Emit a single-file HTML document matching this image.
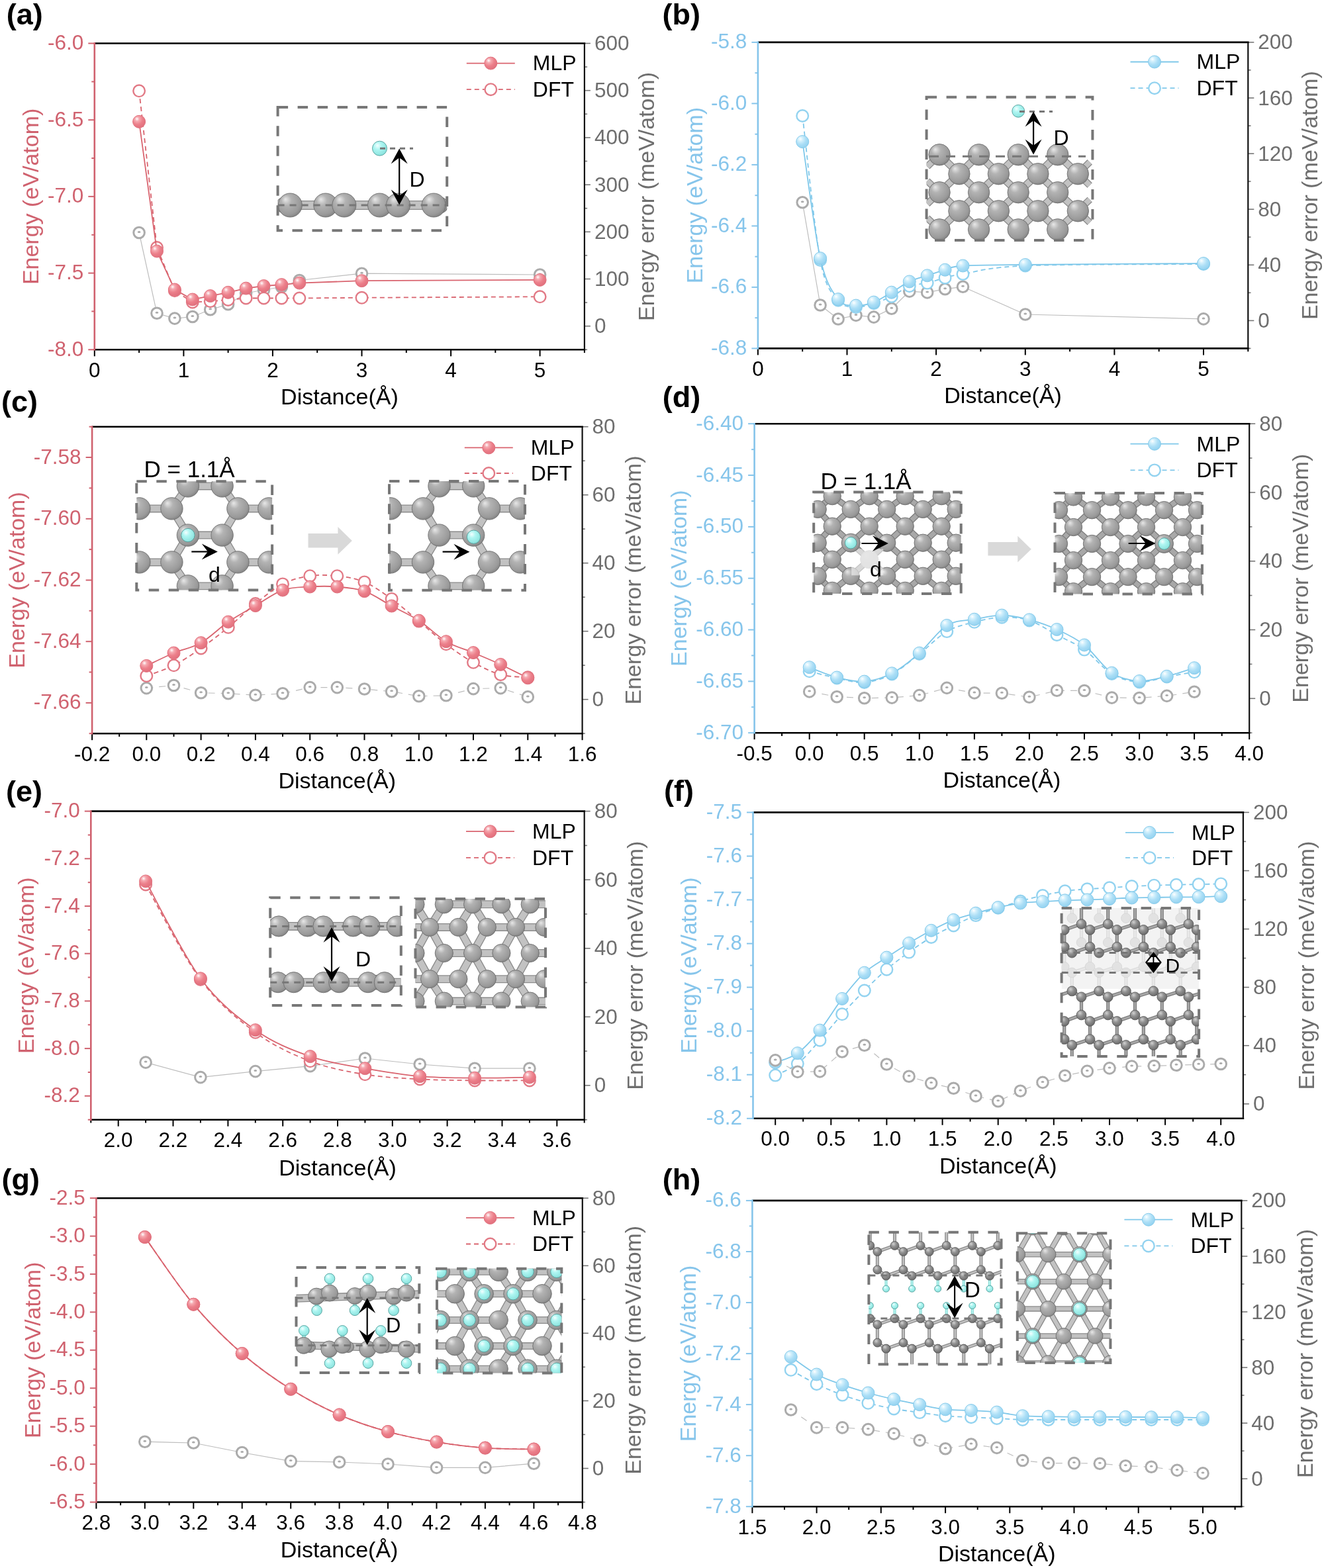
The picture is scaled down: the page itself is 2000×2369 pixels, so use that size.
<!DOCTYPE html>
<html><head><meta charset="utf-8"><title>Energy vs distance</title>
<style>html,body{margin:0;padding:0;background:#fff;}svg{display:block;}</style></head>
<body>
<svg width="2000" height="2369" viewBox="0 0 2000 2369" font-family="Liberation Sans, Arial, sans-serif">
<defs>
<radialGradient id="sphR" cx="0.38" cy="0.32" r="0.7" fx="0.33" fy="0.28">
 <stop offset="0" stop-color="#fff"/><stop offset="0.25" stop-color="#F5A9B0"/>
 <stop offset="0.6" stop-color="#EC7F8A"/><stop offset="1" stop-color="#E06F7C"/></radialGradient>
<radialGradient id="sphB" cx="0.38" cy="0.32" r="0.7" fx="0.33" fy="0.28">
 <stop offset="0" stop-color="#fff"/><stop offset="0.25" stop-color="#D3F0FC"/>
 <stop offset="0.6" stop-color="#ABDEF6"/><stop offset="1" stop-color="#93D2F0"/></radialGradient>
<radialGradient id="sphG" cx="0.42" cy="0.38" r="0.62" fx="0.3" fy="0.25">
 <stop offset="0" stop-color="#E8E8E8"/><stop offset="0.35" stop-color="#B3B3B3"/>
 <stop offset="0.85" stop-color="#9A9A9A"/><stop offset="1" stop-color="#868686"/></radialGradient>
<radialGradient id="sphD" cx="0.4" cy="0.35" r="0.65" fx="0.35" fy="0.3">
 <stop offset="0" stop-color="#D2D2D2"/><stop offset="0.45" stop-color="#939393"/>
 <stop offset="1" stop-color="#6A6A6A"/></radialGradient>
<radialGradient id="sphC" cx="0.4" cy="0.35" r="0.65" fx="0.35" fy="0.3">
 <stop offset="0" stop-color="#F4FFFF"/><stop offset="0.4" stop-color="#AFF6F2"/>
 <stop offset="1" stop-color="#8BE3DE"/></radialGradient>

<clipPath id="clipa"><rect x="130.8" y="53.5" width="764.1" height="486.8"/></clipPath>
<clipPath id="clipb"><rect x="1132.9" y="51.9" width="764.4" height="486.5"/></clipPath>
<clipPath id="clipc"><rect x="127.1" y="632.7" width="764.5" height="487.5"/></clipPath>
<clipPath id="clipd"><rect x="1127.6" y="628.2" width="771.6" height="491.0"/></clipPath>
<clipPath id="clipe"><rect x="125.3" y="1213.6" width="769.4" height="490.1"/></clipPath>
<clipPath id="clipf"><rect x="1125.5" y="1215.4" width="764.4" height="486.4"/></clipPath>
<clipPath id="clipg"><rect x="133.4" y="1798.2" width="758.4" height="483.3"/></clipPath>
<clipPath id="cliph"><rect x="1124.4" y="1801.9" width="762.9" height="486.3"/></clipPath>
<clipPath id="ib1"><rect x="419.6" y="162.1" width="255.6" height="186.2"/></clipPath>
<clipPath id="ib2"><rect x="1399.6" y="146.7" width="250.8" height="216.3"/></clipPath>
<clipPath id="ib3"><rect x="206.3" y="727.3" width="204.8" height="164.3"/></clipPath>
<clipPath id="ib4"><rect x="588.0" y="726.9" width="205.0" height="164.9"/></clipPath>
<clipPath id="ib5"><rect x="1229.2" y="743.6" width="222.5" height="153.3"/></clipPath>
<clipPath id="ib6"><rect x="1593.5" y="744.9" width="222.4" height="152.7"/></clipPath>
<clipPath id="ib7"><rect x="408.2" y="1356.2" width="197.6" height="162.9"/></clipPath>
<clipPath id="ib8"><rect x="627.5" y="1358.0" width="196.5" height="163.6"/></clipPath>
<clipPath id="ib9"><rect x="1603.6" y="1372.0" width="207.5" height="224.1"/></clipPath>
<clipPath id="ib10"><rect x="447.5" y="1915.0" width="185.8" height="159.0"/></clipPath>
<clipPath id="ib11"><rect x="660.0" y="1916.8" width="188.3" height="157.8"/></clipPath>
<clipPath id="ib12"><rect x="1312.4" y="1861.7" width="200.1" height="199.5"/></clipPath>
<clipPath id="ib13"><rect x="1536.8" y="1863.2" width="140.6" height="195.8"/></clipPath></defs>
<rect width="2000" height="2369" fill="#fff"/>
<g clip-path="url(#clipa)">
<g clip-path="url(#ib1)"><line x1="419.6" y1="310.0" x2="675.2" y2="310.0" stroke="#8a8a8a" stroke-width="14.0"/><line x1="419.6" y1="310.0" x2="675.2" y2="310.0" stroke="#c2c2c2" stroke-width="11.4"/><circle cx="429.0" cy="310.0" r="12.0" fill="url(#sphG)" stroke="#6d6d6d" stroke-width="0.9"/><circle cx="502.0" cy="310.0" r="12.0" fill="url(#sphG)" stroke="#6d6d6d" stroke-width="0.9"/><circle cx="512.0" cy="310.0" r="12.0" fill="url(#sphG)" stroke="#6d6d6d" stroke-width="0.9"/><circle cx="587.0" cy="310.0" r="12.0" fill="url(#sphG)" stroke="#6d6d6d" stroke-width="0.9"/><circle cx="665.0" cy="310.0" r="12.0" fill="url(#sphG)" stroke="#6d6d6d" stroke-width="0.9"/><circle cx="438.3" cy="310.0" r="18.0" fill="url(#sphG)" stroke="#6d6d6d" stroke-width="0.9"/><circle cx="491.8" cy="310.0" r="18.0" fill="url(#sphG)" stroke="#6d6d6d" stroke-width="0.9"/><circle cx="519.9" cy="310.0" r="18.0" fill="url(#sphG)" stroke="#6d6d6d" stroke-width="0.9"/><circle cx="573.5" cy="310.0" r="18.0" fill="url(#sphG)" stroke="#6d6d6d" stroke-width="0.9"/><circle cx="601.5" cy="310.0" r="18.0" fill="url(#sphG)" stroke="#6d6d6d" stroke-width="0.9"/><circle cx="655.1" cy="310.0" r="18.0" fill="url(#sphG)" stroke="#6d6d6d" stroke-width="0.9"/><line x1="419.6" y1="310.0" x2="675.2" y2="310.0" stroke="#777" stroke-width="3" stroke-dasharray="10 8"/></g><rect x="419.6" y="162.1" width="255.6" height="186.2" fill="none" stroke="#777" stroke-width="4" stroke-dasharray="15.5 14.5"/><circle cx="573.5" cy="224.2" r="11.0" fill="url(#sphC)" stroke="#4f9c98" stroke-width="0.9"/><line x1="574.0" y1="224.2" x2="624.0" y2="224.2" stroke="#777" stroke-width="3" stroke-dasharray="8 7"/><line x1="603.2" y1="229.5" x2="603.2" y2="304.5" stroke="#000" stroke-width="2.2"/><path d="M603.2,224.5 L615.7,247.5 L603.2,238.3 L590.7,247.5 Z" fill="#000"/><path d="M603.2,309.5 L615.7,286.5 L603.2,295.7 L590.7,286.5 Z" fill="#000"/><text x="618.5" y="282.0" font-size="32" fill="#000">D</text>
<path d="M210.1,351.5 L237.0,473.3 L263.9,481.1 L290.8,478.5 L317.7,467.8 L344.6,459.8 L371.6,443.0 L398.5,438.0 L425.4,433.5 L452.3,423.5 L546.5,413.2 L815.6,415.0" fill="none" stroke="#BDBDBD" stroke-width="1.2"/>
<circle cx="210.1" cy="351.5" r="8.3" fill="#fff" stroke="#ABABAB" stroke-width="3"/><ellipse cx="210.1" cy="350.5" rx="2.4" ry="1.5" fill="#ABABAB"/>
<circle cx="237.0" cy="473.3" r="8.3" fill="#fff" stroke="#ABABAB" stroke-width="3"/><ellipse cx="237.0" cy="472.3" rx="2.4" ry="1.5" fill="#ABABAB"/>
<circle cx="263.9" cy="481.1" r="8.3" fill="#fff" stroke="#ABABAB" stroke-width="3"/><ellipse cx="263.9" cy="480.1" rx="2.4" ry="1.5" fill="#ABABAB"/>
<circle cx="290.8" cy="478.5" r="8.3" fill="#fff" stroke="#ABABAB" stroke-width="3"/><ellipse cx="290.8" cy="477.5" rx="2.4" ry="1.5" fill="#ABABAB"/>
<circle cx="317.7" cy="467.8" r="8.3" fill="#fff" stroke="#ABABAB" stroke-width="3"/><ellipse cx="317.7" cy="466.8" rx="2.4" ry="1.5" fill="#ABABAB"/>
<circle cx="344.6" cy="459.8" r="8.3" fill="#fff" stroke="#ABABAB" stroke-width="3"/><ellipse cx="344.6" cy="458.8" rx="2.4" ry="1.5" fill="#ABABAB"/>
<circle cx="371.6" cy="443.0" r="8.3" fill="#fff" stroke="#ABABAB" stroke-width="3"/><ellipse cx="371.6" cy="442.0" rx="2.4" ry="1.5" fill="#ABABAB"/>
<circle cx="398.5" cy="438.0" r="8.3" fill="#fff" stroke="#ABABAB" stroke-width="3"/><ellipse cx="398.5" cy="437.0" rx="2.4" ry="1.5" fill="#ABABAB"/>
<circle cx="425.4" cy="433.5" r="8.3" fill="#fff" stroke="#ABABAB" stroke-width="3"/><ellipse cx="425.4" cy="432.5" rx="2.4" ry="1.5" fill="#ABABAB"/>
<circle cx="452.3" cy="423.5" r="8.3" fill="#fff" stroke="#ABABAB" stroke-width="3"/><ellipse cx="452.3" cy="422.5" rx="2.4" ry="1.5" fill="#ABABAB"/>
<circle cx="546.5" cy="413.2" r="8.3" fill="#fff" stroke="#ABABAB" stroke-width="3"/><ellipse cx="546.5" cy="412.2" rx="2.4" ry="1.5" fill="#ABABAB"/>
<circle cx="815.6" cy="415.0" r="8.3" fill="#fff" stroke="#ABABAB" stroke-width="3"/><ellipse cx="815.6" cy="414.0" rx="2.4" ry="1.5" fill="#ABABAB"/>
<path d="M210.1,137.3 L237.0,374.0 L263.9,439.2 L290.8,456.5 L317.7,455.2 L344.6,453.0 L371.6,450.5 L398.5,450.5 L425.4,450.5 L452.3,450.5 L546.5,449.8 L815.6,448.3" fill="none" stroke="#D9646F" stroke-width="1.8" stroke-dasharray="7 5"/>
<circle cx="210.1" cy="137.3" r="8.8" fill="#fff" stroke="#E27A86" stroke-width="2.4"/>
<circle cx="237.0" cy="374.0" r="8.8" fill="#fff" stroke="#E27A86" stroke-width="2.4"/>
<circle cx="263.9" cy="439.2" r="8.8" fill="#fff" stroke="#E27A86" stroke-width="2.4"/>
<circle cx="290.8" cy="456.5" r="8.8" fill="#fff" stroke="#E27A86" stroke-width="2.4"/>
<circle cx="317.7" cy="455.2" r="8.8" fill="#fff" stroke="#E27A86" stroke-width="2.4"/>
<circle cx="344.6" cy="453.0" r="8.8" fill="#fff" stroke="#E27A86" stroke-width="2.4"/>
<circle cx="371.6" cy="450.5" r="8.8" fill="#fff" stroke="#E27A86" stroke-width="2.4"/>
<circle cx="398.5" cy="450.5" r="8.8" fill="#fff" stroke="#E27A86" stroke-width="2.4"/>
<circle cx="425.4" cy="450.5" r="8.8" fill="#fff" stroke="#E27A86" stroke-width="2.4"/>
<circle cx="452.3" cy="450.5" r="8.8" fill="#fff" stroke="#E27A86" stroke-width="2.4"/>
<circle cx="546.5" cy="449.8" r="8.8" fill="#fff" stroke="#E27A86" stroke-width="2.4"/>
<circle cx="815.6" cy="448.3" r="8.8" fill="#fff" stroke="#E27A86" stroke-width="2.4"/>
<path d="M210.1,183.8 L237.0,379.5 L263.9,437.5 L290.8,452.5 L317.7,447.1 L344.6,441.8 L371.6,435.6 L398.5,432.0 L425.4,430.1 L452.3,427.6 L546.5,424.2 L815.6,422.9" fill="none" stroke="#D9646F" stroke-width="1.8"/>
<circle cx="210.1" cy="183.8" r="9.5" fill="url(#sphR)" stroke="#E2707D" stroke-width="1"/>
<circle cx="237.0" cy="379.5" r="9.5" fill="url(#sphR)" stroke="#E2707D" stroke-width="1"/>
<circle cx="263.9" cy="437.5" r="9.5" fill="url(#sphR)" stroke="#E2707D" stroke-width="1"/>
<circle cx="290.8" cy="452.5" r="9.5" fill="url(#sphR)" stroke="#E2707D" stroke-width="1"/>
<circle cx="317.7" cy="447.1" r="9.5" fill="url(#sphR)" stroke="#E2707D" stroke-width="1"/>
<circle cx="344.6" cy="441.8" r="9.5" fill="url(#sphR)" stroke="#E2707D" stroke-width="1"/>
<circle cx="371.6" cy="435.6" r="9.5" fill="url(#sphR)" stroke="#E2707D" stroke-width="1"/>
<circle cx="398.5" cy="432.0" r="9.5" fill="url(#sphR)" stroke="#E2707D" stroke-width="1"/>
<circle cx="425.4" cy="430.1" r="9.5" fill="url(#sphR)" stroke="#E2707D" stroke-width="1"/>
<circle cx="452.3" cy="427.6" r="9.5" fill="url(#sphR)" stroke="#E2707D" stroke-width="1"/>
<circle cx="546.5" cy="424.2" r="9.5" fill="url(#sphR)" stroke="#E2707D" stroke-width="1"/>
<circle cx="815.6" cy="422.9" r="9.5" fill="url(#sphR)" stroke="#E2707D" stroke-width="1"/>
</g>
<line x1="704.8" y1="95.6" x2="777.8" y2="95.6" stroke="#D9646F" stroke-width="1.8"/>
<circle cx="741.3" cy="95.6" r="9.5" fill="url(#sphR)" stroke="#E2707D" stroke-width="1"/>
<line x1="704.8" y1="135.2" x2="777.8" y2="135.2" stroke="#D9646F" stroke-width="1.8" stroke-dasharray="7 5"/>
<circle cx="741.3" cy="135.2" r="8.8" fill="#fff" stroke="#E27A86" stroke-width="2.4"/>
<text x="804.8" y="106.4" font-size="32" fill="#000">MLP</text>
<text x="804.8" y="146.0" font-size="32" fill="#000">DFT</text>
<line x1="142.8" y1="528.3" x2="142.8" y2="538.3" stroke="#000" stroke-width="2"/>
<text x="142.8" y="569.8" font-size="31.5" text-anchor="middle">0</text>
<line x1="210.1" y1="528.3" x2="210.1" y2="533.1" stroke="#000" stroke-width="2"/>
<line x1="277.4" y1="528.3" x2="277.4" y2="538.3" stroke="#000" stroke-width="2"/>
<text x="277.4" y="569.8" font-size="31.5" text-anchor="middle">1</text>
<line x1="344.6" y1="528.3" x2="344.6" y2="533.1" stroke="#000" stroke-width="2"/>
<line x1="411.9" y1="528.3" x2="411.9" y2="538.3" stroke="#000" stroke-width="2"/>
<text x="411.9" y="569.8" font-size="31.5" text-anchor="middle">2</text>
<line x1="479.2" y1="528.3" x2="479.2" y2="533.1" stroke="#000" stroke-width="2"/>
<line x1="546.5" y1="528.3" x2="546.5" y2="538.3" stroke="#000" stroke-width="2"/>
<text x="546.5" y="569.8" font-size="31.5" text-anchor="middle">3</text>
<line x1="613.8" y1="528.3" x2="613.8" y2="533.1" stroke="#000" stroke-width="2"/>
<line x1="681.1" y1="528.3" x2="681.1" y2="538.3" stroke="#000" stroke-width="2"/>
<text x="681.1" y="569.8" font-size="31.5" text-anchor="middle">4</text>
<line x1="748.3" y1="528.3" x2="748.3" y2="533.1" stroke="#000" stroke-width="2"/>
<line x1="815.6" y1="528.3" x2="815.6" y2="538.3" stroke="#000" stroke-width="2"/>
<text x="815.6" y="569.8" font-size="31.5" text-anchor="middle">5</text>
<line x1="882.9" y1="528.3" x2="882.9" y2="533.1" stroke="#000" stroke-width="2"/>
<line x1="133.3" y1="528.3" x2="142.8" y2="528.3" stroke="#D0626F" stroke-width="2"/>
<text x="126.3" y="537.8" font-size="31.5" text-anchor="end" fill="#D0626F">-8.0</text>
<line x1="138.3" y1="470.4" x2="142.8" y2="470.4" stroke="#D0626F" stroke-width="2"/>
<line x1="133.3" y1="412.6" x2="142.8" y2="412.6" stroke="#D0626F" stroke-width="2"/>
<text x="126.3" y="422.1" font-size="31.5" text-anchor="end" fill="#D0626F">-7.5</text>
<line x1="138.3" y1="354.8" x2="142.8" y2="354.8" stroke="#D0626F" stroke-width="2"/>
<line x1="133.3" y1="296.9" x2="142.8" y2="296.9" stroke="#D0626F" stroke-width="2"/>
<text x="126.3" y="306.4" font-size="31.5" text-anchor="end" fill="#D0626F">-7.0</text>
<line x1="138.3" y1="239.0" x2="142.8" y2="239.0" stroke="#D0626F" stroke-width="2"/>
<line x1="133.3" y1="181.2" x2="142.8" y2="181.2" stroke="#D0626F" stroke-width="2"/>
<text x="126.3" y="190.7" font-size="31.5" text-anchor="end" fill="#D0626F">-6.5</text>
<line x1="138.3" y1="123.4" x2="142.8" y2="123.4" stroke="#D0626F" stroke-width="2"/>
<line x1="133.3" y1="65.5" x2="142.8" y2="65.5" stroke="#D0626F" stroke-width="2"/>
<text x="126.3" y="75.0" font-size="31.5" text-anchor="end" fill="#D0626F">-6.0</text>
<line x1="882.9" y1="528.3" x2="887.1" y2="528.3" stroke="#777" stroke-width="1.6"/>
<line x1="882.9" y1="492.7" x2="891.9" y2="492.7" stroke="#777" stroke-width="1.6"/>
<text x="897.9" y="503.2" font-size="31.5" fill="#6E6E6E">0</text>
<line x1="882.9" y1="457.1" x2="887.1" y2="457.1" stroke="#777" stroke-width="1.6"/>
<line x1="882.9" y1="421.5" x2="891.9" y2="421.5" stroke="#777" stroke-width="1.6"/>
<text x="897.9" y="432.0" font-size="31.5" fill="#6E6E6E">100</text>
<line x1="882.9" y1="385.9" x2="887.1" y2="385.9" stroke="#777" stroke-width="1.6"/>
<line x1="882.9" y1="350.3" x2="891.9" y2="350.3" stroke="#777" stroke-width="1.6"/>
<text x="897.9" y="360.8" font-size="31.5" fill="#6E6E6E">200</text>
<line x1="882.9" y1="314.7" x2="887.1" y2="314.7" stroke="#777" stroke-width="1.6"/>
<line x1="882.9" y1="279.1" x2="891.9" y2="279.1" stroke="#777" stroke-width="1.6"/>
<text x="897.9" y="289.6" font-size="31.5" fill="#6E6E6E">300</text>
<line x1="882.9" y1="243.5" x2="887.1" y2="243.5" stroke="#777" stroke-width="1.6"/>
<line x1="882.9" y1="207.9" x2="891.9" y2="207.9" stroke="#777" stroke-width="1.6"/>
<text x="897.9" y="218.4" font-size="31.5" fill="#6E6E6E">400</text>
<line x1="882.9" y1="172.3" x2="887.1" y2="172.3" stroke="#777" stroke-width="1.6"/>
<line x1="882.9" y1="136.7" x2="891.9" y2="136.7" stroke="#777" stroke-width="1.6"/>
<text x="897.9" y="147.2" font-size="31.5" fill="#6E6E6E">500</text>
<line x1="882.9" y1="101.1" x2="887.1" y2="101.1" stroke="#777" stroke-width="1.6"/>
<line x1="882.9" y1="65.5" x2="891.9" y2="65.5" stroke="#777" stroke-width="1.6"/>
<text x="897.9" y="76.0" font-size="31.5" fill="#6E6E6E">600</text>
<line x1="142.8" y1="65.5" x2="884.2" y2="65.5" stroke="#000" stroke-width="2.6"/>
<line x1="142.8" y1="528.3" x2="884.2" y2="528.3" stroke="#000" stroke-width="2.6"/>
<line x1="882.9" y1="65.5" x2="882.9" y2="528.3" stroke="#111" stroke-width="2.2"/>
<line x1="142.8" y1="64.2" x2="142.8" y2="529.6" stroke="#D0626F" stroke-width="2.6"/>
<text transform="translate(58.3,296.9) rotate(-90)" font-size="34" text-anchor="middle" fill="#D0626F">Energy (eV/atom)</text>
<text transform="translate(987.9,296.9) rotate(-90)" font-size="34" text-anchor="middle" fill="#6E6E6E">Energy error (meV/atom)</text>
<text x="512.9" y="611.3" font-size="34" text-anchor="middle">Distance(Å)</text>
<text x="9.8" y="36.6" font-size="45" font-weight="bold">(a)</text>
<g clip-path="url(#clipb)">
<g clip-path="url(#ib2)"><line x1="1419.1" y1="233.7" x2="1400.7" y2="251.7" stroke="#8a8a8a" stroke-width="10.5"/><line x1="1419.1" y1="233.7" x2="1400.7" y2="251.7" stroke="#c2c2c2" stroke-width="7.9"/><line x1="1419.1" y1="233.7" x2="1448.9" y2="262.7" stroke="#8a8a8a" stroke-width="11.5"/><line x1="1419.1" y1="233.7" x2="1448.9" y2="262.7" stroke="#c2c2c2" stroke-width="8.9"/><line x1="1478.6" y1="233.7" x2="1448.9" y2="262.7" stroke="#8a8a8a" stroke-width="11.5"/><line x1="1478.6" y1="233.7" x2="1448.9" y2="262.7" stroke="#c2c2c2" stroke-width="8.9"/><line x1="1478.6" y1="233.7" x2="1508.4" y2="262.7" stroke="#8a8a8a" stroke-width="11.5"/><line x1="1478.6" y1="233.7" x2="1508.4" y2="262.7" stroke="#c2c2c2" stroke-width="8.9"/><line x1="1538.2" y1="233.7" x2="1508.4" y2="262.7" stroke="#8a8a8a" stroke-width="11.5"/><line x1="1538.2" y1="233.7" x2="1508.4" y2="262.7" stroke="#c2c2c2" stroke-width="8.9"/><line x1="1538.2" y1="233.7" x2="1567.9" y2="262.7" stroke="#8a8a8a" stroke-width="11.5"/><line x1="1538.2" y1="233.7" x2="1567.9" y2="262.7" stroke="#c2c2c2" stroke-width="8.9"/><line x1="1597.7" y1="233.7" x2="1567.9" y2="262.7" stroke="#8a8a8a" stroke-width="11.5"/><line x1="1597.7" y1="233.7" x2="1567.9" y2="262.7" stroke="#c2c2c2" stroke-width="8.9"/><line x1="1597.7" y1="233.7" x2="1628.3" y2="262.7" stroke="#8a8a8a" stroke-width="11.5"/><line x1="1597.7" y1="233.7" x2="1628.3" y2="262.7" stroke="#c2c2c2" stroke-width="8.9"/><line x1="1628.3" y1="262.7" x2="1646.2" y2="244.7" stroke="#8a8a8a" stroke-width="10.5"/><line x1="1628.3" y1="262.7" x2="1646.2" y2="244.7" stroke="#c2c2c2" stroke-width="7.9"/><line x1="1419.1" y1="290.7" x2="1400.7" y2="273.3" stroke="#8a8a8a" stroke-width="10.5"/><line x1="1419.1" y1="290.7" x2="1400.7" y2="273.3" stroke="#c2c2c2" stroke-width="7.9"/><line x1="1448.9" y1="262.7" x2="1419.1" y2="290.7" stroke="#8a8a8a" stroke-width="11.5"/><line x1="1448.9" y1="262.7" x2="1419.1" y2="290.7" stroke="#c2c2c2" stroke-width="8.9"/><line x1="1448.9" y1="262.7" x2="1478.6" y2="290.7" stroke="#8a8a8a" stroke-width="11.5"/><line x1="1448.9" y1="262.7" x2="1478.6" y2="290.7" stroke="#c2c2c2" stroke-width="8.9"/><line x1="1508.4" y1="262.7" x2="1478.6" y2="290.7" stroke="#8a8a8a" stroke-width="11.5"/><line x1="1508.4" y1="262.7" x2="1478.6" y2="290.7" stroke="#c2c2c2" stroke-width="8.9"/><line x1="1508.4" y1="262.7" x2="1538.2" y2="290.7" stroke="#8a8a8a" stroke-width="11.5"/><line x1="1508.4" y1="262.7" x2="1538.2" y2="290.7" stroke="#c2c2c2" stroke-width="8.9"/><line x1="1567.9" y1="262.7" x2="1538.2" y2="290.7" stroke="#8a8a8a" stroke-width="11.5"/><line x1="1567.9" y1="262.7" x2="1538.2" y2="290.7" stroke="#c2c2c2" stroke-width="8.9"/><line x1="1567.9" y1="262.7" x2="1597.7" y2="290.7" stroke="#8a8a8a" stroke-width="11.5"/><line x1="1567.9" y1="262.7" x2="1597.7" y2="290.7" stroke="#c2c2c2" stroke-width="8.9"/><line x1="1628.3" y1="262.7" x2="1597.7" y2="290.7" stroke="#8a8a8a" stroke-width="11.5"/><line x1="1628.3" y1="262.7" x2="1597.7" y2="290.7" stroke="#c2c2c2" stroke-width="8.9"/><line x1="1628.3" y1="262.7" x2="1646.2" y2="280.1" stroke="#8a8a8a" stroke-width="10.5"/><line x1="1628.3" y1="262.7" x2="1646.2" y2="280.1" stroke="#c2c2c2" stroke-width="7.9"/><line x1="1419.1" y1="290.7" x2="1400.7" y2="308.1" stroke="#8a8a8a" stroke-width="10.5"/><line x1="1419.1" y1="290.7" x2="1400.7" y2="308.1" stroke="#c2c2c2" stroke-width="7.9"/><line x1="1419.1" y1="290.7" x2="1448.9" y2="318.8" stroke="#8a8a8a" stroke-width="11.5"/><line x1="1419.1" y1="290.7" x2="1448.9" y2="318.8" stroke="#c2c2c2" stroke-width="8.9"/><line x1="1478.6" y1="290.7" x2="1448.9" y2="318.8" stroke="#8a8a8a" stroke-width="11.5"/><line x1="1478.6" y1="290.7" x2="1448.9" y2="318.8" stroke="#c2c2c2" stroke-width="8.9"/><line x1="1478.6" y1="290.7" x2="1508.4" y2="318.8" stroke="#8a8a8a" stroke-width="11.5"/><line x1="1478.6" y1="290.7" x2="1508.4" y2="318.8" stroke="#c2c2c2" stroke-width="8.9"/><line x1="1538.2" y1="290.7" x2="1508.4" y2="318.8" stroke="#8a8a8a" stroke-width="11.5"/><line x1="1538.2" y1="290.7" x2="1508.4" y2="318.8" stroke="#c2c2c2" stroke-width="8.9"/><line x1="1538.2" y1="290.7" x2="1567.9" y2="318.8" stroke="#8a8a8a" stroke-width="11.5"/><line x1="1538.2" y1="290.7" x2="1567.9" y2="318.8" stroke="#c2c2c2" stroke-width="8.9"/><line x1="1597.7" y1="290.7" x2="1567.9" y2="318.8" stroke="#8a8a8a" stroke-width="11.5"/><line x1="1597.7" y1="290.7" x2="1567.9" y2="318.8" stroke="#c2c2c2" stroke-width="8.9"/><line x1="1597.7" y1="290.7" x2="1628.3" y2="318.8" stroke="#8a8a8a" stroke-width="11.5"/><line x1="1597.7" y1="290.7" x2="1628.3" y2="318.8" stroke="#c2c2c2" stroke-width="8.9"/><line x1="1628.3" y1="318.8" x2="1646.2" y2="301.4" stroke="#8a8a8a" stroke-width="10.5"/><line x1="1628.3" y1="318.8" x2="1646.2" y2="301.4" stroke="#c2c2c2" stroke-width="7.9"/><line x1="1419.1" y1="346.8" x2="1400.7" y2="329.4" stroke="#8a8a8a" stroke-width="10.5"/><line x1="1419.1" y1="346.8" x2="1400.7" y2="329.4" stroke="#c2c2c2" stroke-width="7.9"/><line x1="1448.9" y1="318.8" x2="1419.1" y2="346.8" stroke="#8a8a8a" stroke-width="11.5"/><line x1="1448.9" y1="318.8" x2="1419.1" y2="346.8" stroke="#c2c2c2" stroke-width="8.9"/><line x1="1448.9" y1="318.8" x2="1478.6" y2="346.8" stroke="#8a8a8a" stroke-width="11.5"/><line x1="1448.9" y1="318.8" x2="1478.6" y2="346.8" stroke="#c2c2c2" stroke-width="8.9"/><line x1="1508.4" y1="318.8" x2="1478.6" y2="346.8" stroke="#8a8a8a" stroke-width="11.5"/><line x1="1508.4" y1="318.8" x2="1478.6" y2="346.8" stroke="#c2c2c2" stroke-width="8.9"/><line x1="1508.4" y1="318.8" x2="1538.2" y2="346.8" stroke="#8a8a8a" stroke-width="11.5"/><line x1="1508.4" y1="318.8" x2="1538.2" y2="346.8" stroke="#c2c2c2" stroke-width="8.9"/><line x1="1567.9" y1="318.8" x2="1538.2" y2="346.8" stroke="#8a8a8a" stroke-width="11.5"/><line x1="1567.9" y1="318.8" x2="1538.2" y2="346.8" stroke="#c2c2c2" stroke-width="8.9"/><line x1="1567.9" y1="318.8" x2="1597.7" y2="346.8" stroke="#8a8a8a" stroke-width="11.5"/><line x1="1567.9" y1="318.8" x2="1597.7" y2="346.8" stroke="#c2c2c2" stroke-width="8.9"/><line x1="1628.3" y1="318.8" x2="1597.7" y2="346.8" stroke="#8a8a8a" stroke-width="11.5"/><line x1="1628.3" y1="318.8" x2="1597.7" y2="346.8" stroke="#c2c2c2" stroke-width="8.9"/><line x1="1628.3" y1="318.8" x2="1646.2" y2="336.2" stroke="#8a8a8a" stroke-width="10.5"/><line x1="1628.3" y1="318.8" x2="1646.2" y2="336.2" stroke="#c2c2c2" stroke-width="7.9"/><circle cx="1419.1" cy="233.7" r="16.2" fill="url(#sphG)" stroke="#6d6d6d" stroke-width="0.9"/><circle cx="1478.6" cy="233.7" r="16.2" fill="url(#sphG)" stroke="#6d6d6d" stroke-width="0.9"/><circle cx="1538.2" cy="233.7" r="16.2" fill="url(#sphG)" stroke="#6d6d6d" stroke-width="0.9"/><circle cx="1597.7" cy="233.7" r="16.2" fill="url(#sphG)" stroke="#6d6d6d" stroke-width="0.9"/><circle cx="1448.9" cy="262.7" r="16.2" fill="url(#sphG)" stroke="#6d6d6d" stroke-width="0.9"/><circle cx="1508.4" cy="262.7" r="16.2" fill="url(#sphG)" stroke="#6d6d6d" stroke-width="0.9"/><circle cx="1567.9" cy="262.7" r="16.2" fill="url(#sphG)" stroke="#6d6d6d" stroke-width="0.9"/><circle cx="1628.3" cy="262.7" r="16.2" fill="url(#sphG)" stroke="#6d6d6d" stroke-width="0.9"/><circle cx="1419.1" cy="290.7" r="16.2" fill="url(#sphG)" stroke="#6d6d6d" stroke-width="0.9"/><circle cx="1478.6" cy="290.7" r="16.2" fill="url(#sphG)" stroke="#6d6d6d" stroke-width="0.9"/><circle cx="1538.2" cy="290.7" r="16.2" fill="url(#sphG)" stroke="#6d6d6d" stroke-width="0.9"/><circle cx="1597.7" cy="290.7" r="16.2" fill="url(#sphG)" stroke="#6d6d6d" stroke-width="0.9"/><circle cx="1448.9" cy="318.8" r="16.2" fill="url(#sphG)" stroke="#6d6d6d" stroke-width="0.9"/><circle cx="1508.4" cy="318.8" r="16.2" fill="url(#sphG)" stroke="#6d6d6d" stroke-width="0.9"/><circle cx="1567.9" cy="318.8" r="16.2" fill="url(#sphG)" stroke="#6d6d6d" stroke-width="0.9"/><circle cx="1628.3" cy="318.8" r="16.2" fill="url(#sphG)" stroke="#6d6d6d" stroke-width="0.9"/><circle cx="1419.1" cy="346.8" r="16.2" fill="url(#sphG)" stroke="#6d6d6d" stroke-width="0.9"/><circle cx="1478.6" cy="346.8" r="16.2" fill="url(#sphG)" stroke="#6d6d6d" stroke-width="0.9"/><circle cx="1538.2" cy="346.8" r="16.2" fill="url(#sphG)" stroke="#6d6d6d" stroke-width="0.9"/><circle cx="1597.7" cy="346.8" r="16.2" fill="url(#sphG)" stroke="#6d6d6d" stroke-width="0.9"/></g><line x1="1404.0" y1="236.3" x2="1640.0" y2="236.3" stroke="#777" stroke-width="3" stroke-dasharray="14 11"/><rect x="1399.6" y="146.7" width="250.8" height="216.3" fill="none" stroke="#777" stroke-width="4" stroke-dasharray="15.5 14.5"/><circle cx="1538.2" cy="167.8" r="9.4" fill="url(#sphC)" stroke="#4f9c98" stroke-width="0.9"/><line x1="1540.0" y1="168.6" x2="1590.0" y2="168.6" stroke="#777" stroke-width="3" stroke-dasharray="8 7"/><line x1="1561.1" y1="173.5" x2="1561.1" y2="228.5" stroke="#000" stroke-width="2.2"/><path d="M1561.1,168.5 L1573.6,191.5 L1561.1,182.3 L1548.6,191.5 Z" fill="#000"/><path d="M1561.1,233.5 L1573.6,210.5 L1561.1,219.7 L1548.6,210.5 Z" fill="#000"/><text x="1591.5" y="219.3" font-size="32" fill="#000">D</text>
<path d="M1212.2,305.8 L1239.1,461.0 L1266.1,482.0 L1293.0,476.4 L1319.9,479.1 L1346.8,466.2 L1373.8,440.1 L1400.7,441.9 L1427.6,436.7 L1454.5,433.3 L1548.8,475.0 L1818.0,481.9" fill="none" stroke="#BDBDBD" stroke-width="1.2"/>
<circle cx="1212.2" cy="305.8" r="8.3" fill="#fff" stroke="#ABABAB" stroke-width="3"/><ellipse cx="1212.2" cy="304.8" rx="2.4" ry="1.5" fill="#ABABAB"/>
<circle cx="1239.1" cy="461.0" r="8.3" fill="#fff" stroke="#ABABAB" stroke-width="3"/><ellipse cx="1239.1" cy="460.0" rx="2.4" ry="1.5" fill="#ABABAB"/>
<circle cx="1266.1" cy="482.0" r="8.3" fill="#fff" stroke="#ABABAB" stroke-width="3"/><ellipse cx="1266.1" cy="481.0" rx="2.4" ry="1.5" fill="#ABABAB"/>
<circle cx="1293.0" cy="476.4" r="8.3" fill="#fff" stroke="#ABABAB" stroke-width="3"/><ellipse cx="1293.0" cy="475.4" rx="2.4" ry="1.5" fill="#ABABAB"/>
<circle cx="1319.9" cy="479.1" r="8.3" fill="#fff" stroke="#ABABAB" stroke-width="3"/><ellipse cx="1319.9" cy="478.1" rx="2.4" ry="1.5" fill="#ABABAB"/>
<circle cx="1346.8" cy="466.2" r="8.3" fill="#fff" stroke="#ABABAB" stroke-width="3"/><ellipse cx="1346.8" cy="465.2" rx="2.4" ry="1.5" fill="#ABABAB"/>
<circle cx="1373.8" cy="440.1" r="8.3" fill="#fff" stroke="#ABABAB" stroke-width="3"/><ellipse cx="1373.8" cy="439.1" rx="2.4" ry="1.5" fill="#ABABAB"/>
<circle cx="1400.7" cy="441.9" r="8.3" fill="#fff" stroke="#ABABAB" stroke-width="3"/><ellipse cx="1400.7" cy="440.9" rx="2.4" ry="1.5" fill="#ABABAB"/>
<circle cx="1427.6" cy="436.7" r="8.3" fill="#fff" stroke="#ABABAB" stroke-width="3"/><ellipse cx="1427.6" cy="435.7" rx="2.4" ry="1.5" fill="#ABABAB"/>
<circle cx="1454.5" cy="433.3" r="8.3" fill="#fff" stroke="#ABABAB" stroke-width="3"/><ellipse cx="1454.5" cy="432.3" rx="2.4" ry="1.5" fill="#ABABAB"/>
<circle cx="1548.8" cy="475.0" r="8.3" fill="#fff" stroke="#ABABAB" stroke-width="3"/><ellipse cx="1548.8" cy="474.0" rx="2.4" ry="1.5" fill="#ABABAB"/>
<circle cx="1818.0" cy="481.9" r="8.3" fill="#fff" stroke="#ABABAB" stroke-width="3"/><ellipse cx="1818.0" cy="480.9" rx="2.4" ry="1.5" fill="#ABABAB"/>
<path d="M1212.2,175.0 C1216.7,211.3 1230.2,346.6 1239.1,393.0 C1248.1,439.4 1257.1,441.9 1266.1,453.7 C1275.0,465.5 1284.0,463.1 1293.0,463.9 C1302.0,464.6 1310.9,460.8 1319.9,458.2 C1328.9,455.6 1337.9,452.3 1346.8,448.0 C1355.8,443.7 1364.8,435.6 1373.8,432.2 C1382.7,428.8 1391.7,429.7 1400.7,427.6 C1409.6,425.5 1418.6,422.0 1427.6,419.7 C1436.6,417.4 1434.3,417.0 1454.5,414.0 C1474.7,411.0 1488.2,404.0 1548.8,401.5 C1609.3,399.0 1773.1,399.4 1818.0,399.0" fill="none" stroke="#7FC8EA" stroke-width="1.8" stroke-dasharray="7 5"/>
<circle cx="1212.2" cy="175.0" r="8.8" fill="#fff" stroke="#93D3F0" stroke-width="2.4"/>
<circle cx="1239.1" cy="393.0" r="8.8" fill="#fff" stroke="#93D3F0" stroke-width="2.4"/>
<circle cx="1266.1" cy="453.7" r="8.8" fill="#fff" stroke="#93D3F0" stroke-width="2.4"/>
<circle cx="1293.0" cy="463.9" r="8.8" fill="#fff" stroke="#93D3F0" stroke-width="2.4"/>
<circle cx="1319.9" cy="458.2" r="8.8" fill="#fff" stroke="#93D3F0" stroke-width="2.4"/>
<circle cx="1346.8" cy="448.0" r="8.8" fill="#fff" stroke="#93D3F0" stroke-width="2.4"/>
<circle cx="1373.8" cy="432.2" r="8.8" fill="#fff" stroke="#93D3F0" stroke-width="2.4"/>
<circle cx="1400.7" cy="427.6" r="8.8" fill="#fff" stroke="#93D3F0" stroke-width="2.4"/>
<circle cx="1427.6" cy="419.7" r="8.8" fill="#fff" stroke="#93D3F0" stroke-width="2.4"/>
<circle cx="1454.5" cy="414.0" r="8.8" fill="#fff" stroke="#93D3F0" stroke-width="2.4"/>
<circle cx="1548.8" cy="401.5" r="8.8" fill="#fff" stroke="#93D3F0" stroke-width="2.4"/>
<circle cx="1818.0" cy="399.0" r="8.8" fill="#fff" stroke="#93D3F0" stroke-width="2.4"/>
<path d="M1212.2,214.1 C1216.7,243.4 1230.2,350.5 1239.1,390.2 C1248.1,429.9 1257.1,440.2 1266.1,452.1 C1275.0,464.0 1284.0,460.9 1293.0,461.6 C1302.0,462.4 1310.9,459.9 1319.9,456.6 C1328.9,453.3 1337.9,446.9 1346.8,441.7 C1355.8,436.5 1364.8,429.6 1373.8,425.4 C1382.7,421.2 1391.7,419.2 1400.7,416.3 C1409.6,413.4 1418.6,410.2 1427.6,407.7 C1436.6,405.2 1434.3,402.8 1454.5,401.5 C1474.7,400.2 1488.2,400.6 1548.8,400.0 C1609.3,399.4 1773.1,398.3 1818.0,398.0" fill="none" stroke="#7FC8EA" stroke-width="1.8"/>
<circle cx="1212.2" cy="214.1" r="9.5" fill="url(#sphB)" stroke="#86CBEB" stroke-width="1"/>
<circle cx="1239.1" cy="390.2" r="9.5" fill="url(#sphB)" stroke="#86CBEB" stroke-width="1"/>
<circle cx="1266.1" cy="452.1" r="9.5" fill="url(#sphB)" stroke="#86CBEB" stroke-width="1"/>
<circle cx="1293.0" cy="461.6" r="9.5" fill="url(#sphB)" stroke="#86CBEB" stroke-width="1"/>
<circle cx="1319.9" cy="456.6" r="9.5" fill="url(#sphB)" stroke="#86CBEB" stroke-width="1"/>
<circle cx="1346.8" cy="441.7" r="9.5" fill="url(#sphB)" stroke="#86CBEB" stroke-width="1"/>
<circle cx="1373.8" cy="425.4" r="9.5" fill="url(#sphB)" stroke="#86CBEB" stroke-width="1"/>
<circle cx="1400.7" cy="416.3" r="9.5" fill="url(#sphB)" stroke="#86CBEB" stroke-width="1"/>
<circle cx="1427.6" cy="407.7" r="9.5" fill="url(#sphB)" stroke="#86CBEB" stroke-width="1"/>
<circle cx="1454.5" cy="401.5" r="9.5" fill="url(#sphB)" stroke="#86CBEB" stroke-width="1"/>
<circle cx="1548.8" cy="400.0" r="9.5" fill="url(#sphB)" stroke="#86CBEB" stroke-width="1"/>
<circle cx="1818.0" cy="398.0" r="9.5" fill="url(#sphB)" stroke="#86CBEB" stroke-width="1"/>
</g>
<line x1="1707.5" y1="93.5" x2="1780.5" y2="93.5" stroke="#7FC8EA" stroke-width="1.8"/>
<circle cx="1744.0" cy="93.5" r="9.5" fill="url(#sphB)" stroke="#86CBEB" stroke-width="1"/>
<line x1="1707.5" y1="133.2" x2="1780.5" y2="133.2" stroke="#7FC8EA" stroke-width="1.8" stroke-dasharray="7 5"/>
<circle cx="1744.0" cy="133.2" r="8.8" fill="#fff" stroke="#93D3F0" stroke-width="2.4"/>
<text x="1807.5" y="104.3" font-size="32" fill="#000">MLP</text>
<text x="1807.5" y="144.0" font-size="32" fill="#000">DFT</text>
<line x1="1144.9" y1="526.4" x2="1144.9" y2="536.4" stroke="#000" stroke-width="2"/>
<text x="1144.9" y="567.9" font-size="31.5" text-anchor="middle">0</text>
<line x1="1212.2" y1="526.4" x2="1212.2" y2="531.2" stroke="#000" stroke-width="2"/>
<line x1="1279.5" y1="526.4" x2="1279.5" y2="536.4" stroke="#000" stroke-width="2"/>
<text x="1279.5" y="567.9" font-size="31.5" text-anchor="middle">1</text>
<line x1="1346.8" y1="526.4" x2="1346.8" y2="531.2" stroke="#000" stroke-width="2"/>
<line x1="1414.1" y1="526.4" x2="1414.1" y2="536.4" stroke="#000" stroke-width="2"/>
<text x="1414.1" y="567.9" font-size="31.5" text-anchor="middle">2</text>
<line x1="1481.4" y1="526.4" x2="1481.4" y2="531.2" stroke="#000" stroke-width="2"/>
<line x1="1548.8" y1="526.4" x2="1548.8" y2="536.4" stroke="#000" stroke-width="2"/>
<text x="1548.8" y="567.9" font-size="31.5" text-anchor="middle">3</text>
<line x1="1616.1" y1="526.4" x2="1616.1" y2="531.2" stroke="#000" stroke-width="2"/>
<line x1="1683.4" y1="526.4" x2="1683.4" y2="536.4" stroke="#000" stroke-width="2"/>
<text x="1683.4" y="567.9" font-size="31.5" text-anchor="middle">4</text>
<line x1="1750.7" y1="526.4" x2="1750.7" y2="531.2" stroke="#000" stroke-width="2"/>
<line x1="1818.0" y1="526.4" x2="1818.0" y2="536.4" stroke="#000" stroke-width="2"/>
<text x="1818.0" y="567.9" font-size="31.5" text-anchor="middle">5</text>
<line x1="1885.3" y1="526.4" x2="1885.3" y2="531.2" stroke="#000" stroke-width="2"/>
<line x1="1135.4" y1="526.4" x2="1144.9" y2="526.4" stroke="#86C5EB" stroke-width="2"/>
<text x="1128.4" y="535.9" font-size="31.5" text-anchor="end" fill="#86C5EB">-6.8</text>
<line x1="1140.4" y1="480.2" x2="1144.9" y2="480.2" stroke="#86C5EB" stroke-width="2"/>
<line x1="1135.4" y1="433.9" x2="1144.9" y2="433.9" stroke="#86C5EB" stroke-width="2"/>
<text x="1128.4" y="443.4" font-size="31.5" text-anchor="end" fill="#86C5EB">-6.6</text>
<line x1="1140.4" y1="387.7" x2="1144.9" y2="387.7" stroke="#86C5EB" stroke-width="2"/>
<line x1="1135.4" y1="341.4" x2="1144.9" y2="341.4" stroke="#86C5EB" stroke-width="2"/>
<text x="1128.4" y="350.9" font-size="31.5" text-anchor="end" fill="#86C5EB">-6.4</text>
<line x1="1140.4" y1="295.2" x2="1144.9" y2="295.2" stroke="#86C5EB" stroke-width="2"/>
<line x1="1135.4" y1="248.9" x2="1144.9" y2="248.9" stroke="#86C5EB" stroke-width="2"/>
<text x="1128.4" y="258.4" font-size="31.5" text-anchor="end" fill="#86C5EB">-6.2</text>
<line x1="1140.4" y1="202.7" x2="1144.9" y2="202.7" stroke="#86C5EB" stroke-width="2"/>
<line x1="1135.4" y1="156.4" x2="1144.9" y2="156.4" stroke="#86C5EB" stroke-width="2"/>
<text x="1128.4" y="165.9" font-size="31.5" text-anchor="end" fill="#86C5EB">-6.0</text>
<line x1="1140.4" y1="110.2" x2="1144.9" y2="110.2" stroke="#86C5EB" stroke-width="2"/>
<line x1="1135.4" y1="63.9" x2="1144.9" y2="63.9" stroke="#86C5EB" stroke-width="2"/>
<text x="1128.4" y="73.4" font-size="31.5" text-anchor="end" fill="#86C5EB">-5.8</text>
<line x1="1885.3" y1="526.4" x2="1889.5" y2="526.4" stroke="#777" stroke-width="1.6"/>
<line x1="1885.3" y1="484.4" x2="1894.3" y2="484.4" stroke="#777" stroke-width="1.6"/>
<text x="1900.3" y="494.9" font-size="31.5" fill="#6E6E6E">0</text>
<line x1="1885.3" y1="442.3" x2="1889.5" y2="442.3" stroke="#777" stroke-width="1.6"/>
<line x1="1885.3" y1="400.3" x2="1894.3" y2="400.3" stroke="#777" stroke-width="1.6"/>
<text x="1900.3" y="410.8" font-size="31.5" fill="#6E6E6E">40</text>
<line x1="1885.3" y1="358.2" x2="1889.5" y2="358.2" stroke="#777" stroke-width="1.6"/>
<line x1="1885.3" y1="316.2" x2="1894.3" y2="316.2" stroke="#777" stroke-width="1.6"/>
<text x="1900.3" y="326.7" font-size="31.5" fill="#6E6E6E">80</text>
<line x1="1885.3" y1="274.1" x2="1889.5" y2="274.1" stroke="#777" stroke-width="1.6"/>
<line x1="1885.3" y1="232.1" x2="1894.3" y2="232.1" stroke="#777" stroke-width="1.6"/>
<text x="1900.3" y="242.6" font-size="31.5" fill="#6E6E6E">120</text>
<line x1="1885.3" y1="190.0" x2="1889.5" y2="190.0" stroke="#777" stroke-width="1.6"/>
<line x1="1885.3" y1="148.0" x2="1894.3" y2="148.0" stroke="#777" stroke-width="1.6"/>
<text x="1900.3" y="158.5" font-size="31.5" fill="#6E6E6E">160</text>
<line x1="1885.3" y1="105.9" x2="1889.5" y2="105.9" stroke="#777" stroke-width="1.6"/>
<line x1="1885.3" y1="63.9" x2="1894.3" y2="63.9" stroke="#777" stroke-width="1.6"/>
<text x="1900.3" y="74.4" font-size="31.5" fill="#6E6E6E">200</text>
<line x1="1144.9" y1="63.9" x2="1886.6" y2="63.9" stroke="#000" stroke-width="2.6"/>
<line x1="1144.9" y1="526.4" x2="1886.6" y2="526.4" stroke="#000" stroke-width="2.6"/>
<line x1="1885.3" y1="63.9" x2="1885.3" y2="526.4" stroke="#111" stroke-width="2.2"/>
<line x1="1144.9" y1="62.6" x2="1144.9" y2="527.7" stroke="#86C5EB" stroke-width="2.6"/>
<text transform="translate(1060.9,295.1) rotate(-90)" font-size="34" text-anchor="middle" fill="#86C5EB">Energy (eV/atom)</text>
<text transform="translate(1990.3,295.1) rotate(-90)" font-size="34" text-anchor="middle" fill="#6E6E6E">Energy error (meV/atom)</text>
<text x="1515.1" y="609.4" font-size="34" text-anchor="middle">Distance(Å)</text>
<text x="1000.5" y="36.7" font-size="45" font-weight="bold">(b)</text>
<g clip-path="url(#clipc)">
<g clip-path="url(#ib3)"><line x1="283.9" y1="734.4" x2="335.6" y2="734.4" stroke="#8a8a8a" stroke-width="12.0"/><line x1="283.9" y1="734.4" x2="335.6" y2="734.4" stroke="#c2c2c2" stroke-width="9.4"/><line x1="210.4" y1="768.4" x2="259.4" y2="768.4" stroke="#8a8a8a" stroke-width="12.0"/><line x1="210.4" y1="768.4" x2="259.4" y2="768.4" stroke="#c2c2c2" stroke-width="9.4"/><line x1="359.4" y1="768.4" x2="406.3" y2="768.4" stroke="#8a8a8a" stroke-width="12.0"/><line x1="359.4" y1="768.4" x2="406.3" y2="768.4" stroke="#c2c2c2" stroke-width="9.4"/><line x1="283.9" y1="808.6" x2="335.6" y2="808.6" stroke="#8a8a8a" stroke-width="12.0"/><line x1="283.9" y1="808.6" x2="335.6" y2="808.6" stroke="#c2c2c2" stroke-width="9.4"/><line x1="210.4" y1="849.4" x2="259.4" y2="849.4" stroke="#8a8a8a" stroke-width="12.0"/><line x1="210.4" y1="849.4" x2="259.4" y2="849.4" stroke="#c2c2c2" stroke-width="9.4"/><line x1="359.4" y1="849.4" x2="406.3" y2="849.4" stroke="#8a8a8a" stroke-width="12.0"/><line x1="359.4" y1="849.4" x2="406.3" y2="849.4" stroke="#c2c2c2" stroke-width="9.4"/><line x1="283.9" y1="885.4" x2="335.6" y2="885.4" stroke="#8a8a8a" stroke-width="12.0"/><line x1="283.9" y1="885.4" x2="335.6" y2="885.4" stroke="#c2c2c2" stroke-width="9.4"/><line x1="259.4" y1="768.4" x2="283.9" y2="734.4" stroke="#8a8a8a" stroke-width="12.0"/><line x1="259.4" y1="768.4" x2="283.9" y2="734.4" stroke="#c2c2c2" stroke-width="9.4"/><line x1="335.6" y1="734.4" x2="359.4" y2="768.4" stroke="#8a8a8a" stroke-width="12.0"/><line x1="335.6" y1="734.4" x2="359.4" y2="768.4" stroke="#c2c2c2" stroke-width="9.4"/><line x1="259.4" y1="768.4" x2="283.9" y2="808.6" stroke="#8a8a8a" stroke-width="12.0"/><line x1="259.4" y1="768.4" x2="283.9" y2="808.6" stroke="#c2c2c2" stroke-width="9.4"/><line x1="359.4" y1="768.4" x2="335.6" y2="808.6" stroke="#8a8a8a" stroke-width="12.0"/><line x1="359.4" y1="768.4" x2="335.6" y2="808.6" stroke="#c2c2c2" stroke-width="9.4"/><line x1="283.9" y1="808.6" x2="259.4" y2="849.4" stroke="#8a8a8a" stroke-width="12.0"/><line x1="283.9" y1="808.6" x2="259.4" y2="849.4" stroke="#c2c2c2" stroke-width="9.4"/><line x1="335.6" y1="808.6" x2="359.4" y2="849.4" stroke="#8a8a8a" stroke-width="12.0"/><line x1="335.6" y1="808.6" x2="359.4" y2="849.4" stroke="#c2c2c2" stroke-width="9.4"/><line x1="259.4" y1="849.4" x2="283.9" y2="885.4" stroke="#8a8a8a" stroke-width="12.0"/><line x1="259.4" y1="849.4" x2="283.9" y2="885.4" stroke="#c2c2c2" stroke-width="9.4"/><line x1="359.4" y1="849.4" x2="335.6" y2="885.4" stroke="#8a8a8a" stroke-width="12.0"/><line x1="359.4" y1="849.4" x2="335.6" y2="885.4" stroke="#c2c2c2" stroke-width="9.4"/><circle cx="283.9" cy="734.4" r="16.7" fill="url(#sphG)" stroke="#6d6d6d" stroke-width="0.9"/><circle cx="335.6" cy="734.4" r="16.7" fill="url(#sphG)" stroke="#6d6d6d" stroke-width="0.9"/><circle cx="259.4" cy="768.4" r="16.7" fill="url(#sphG)" stroke="#6d6d6d" stroke-width="0.9"/><circle cx="359.4" cy="768.4" r="16.7" fill="url(#sphG)" stroke="#6d6d6d" stroke-width="0.9"/><circle cx="210.4" cy="768.4" r="16.7" fill="url(#sphG)" stroke="#6d6d6d" stroke-width="0.9"/><circle cx="406.3" cy="768.4" r="16.7" fill="url(#sphG)" stroke="#6d6d6d" stroke-width="0.9"/><circle cx="283.9" cy="808.6" r="16.7" fill="url(#sphG)" stroke="#6d6d6d" stroke-width="0.9"/><circle cx="335.6" cy="808.6" r="16.7" fill="url(#sphG)" stroke="#6d6d6d" stroke-width="0.9"/><circle cx="259.4" cy="849.4" r="16.7" fill="url(#sphG)" stroke="#6d6d6d" stroke-width="0.9"/><circle cx="359.4" cy="849.4" r="16.7" fill="url(#sphG)" stroke="#6d6d6d" stroke-width="0.9"/><circle cx="210.4" cy="849.4" r="16.7" fill="url(#sphG)" stroke="#6d6d6d" stroke-width="0.9"/><circle cx="406.3" cy="849.4" r="16.7" fill="url(#sphG)" stroke="#6d6d6d" stroke-width="0.9"/><circle cx="283.9" cy="885.4" r="16.7" fill="url(#sphG)" stroke="#6d6d6d" stroke-width="0.9"/><circle cx="335.6" cy="885.4" r="16.7" fill="url(#sphG)" stroke="#6d6d6d" stroke-width="0.9"/><circle cx="283.9" cy="808.6" r="10.2" fill="url(#sphC)" stroke="#4f9c98" stroke-width="0.9"/></g><rect x="206.3" y="727.3" width="204.8" height="164.3" fill="none" stroke="#777" stroke-width="4" stroke-dasharray="15.5 14.5"/><line x1="289.3" y1="833.5" x2="320.8" y2="833.5" stroke="#000" stroke-width="2.2"/><path d="M328.8,833.5 L304.8,821.5 L313.9,833.5 L304.8,845.5 Z" fill="#000"/><text x="315.0" y="879.3" font-size="32" fill="#000">d</text><text x="217.5" y="720.8" font-size="35" fill="#000">D = 1.1Å</text><g clip-path="url(#ib4)"><line x1="663.5" y1="734.4" x2="715.2" y2="734.4" stroke="#8a8a8a" stroke-width="12.0"/><line x1="663.5" y1="734.4" x2="715.2" y2="734.4" stroke="#c2c2c2" stroke-width="9.4"/><line x1="590.0" y1="768.4" x2="639.0" y2="768.4" stroke="#8a8a8a" stroke-width="12.0"/><line x1="590.0" y1="768.4" x2="639.0" y2="768.4" stroke="#c2c2c2" stroke-width="9.4"/><line x1="739.0" y1="768.4" x2="785.9" y2="768.4" stroke="#8a8a8a" stroke-width="12.0"/><line x1="739.0" y1="768.4" x2="785.9" y2="768.4" stroke="#c2c2c2" stroke-width="9.4"/><line x1="663.5" y1="808.6" x2="715.2" y2="808.6" stroke="#8a8a8a" stroke-width="12.0"/><line x1="663.5" y1="808.6" x2="715.2" y2="808.6" stroke="#c2c2c2" stroke-width="9.4"/><line x1="590.0" y1="849.4" x2="639.0" y2="849.4" stroke="#8a8a8a" stroke-width="12.0"/><line x1="590.0" y1="849.4" x2="639.0" y2="849.4" stroke="#c2c2c2" stroke-width="9.4"/><line x1="739.0" y1="849.4" x2="785.9" y2="849.4" stroke="#8a8a8a" stroke-width="12.0"/><line x1="739.0" y1="849.4" x2="785.9" y2="849.4" stroke="#c2c2c2" stroke-width="9.4"/><line x1="663.5" y1="885.4" x2="715.2" y2="885.4" stroke="#8a8a8a" stroke-width="12.0"/><line x1="663.5" y1="885.4" x2="715.2" y2="885.4" stroke="#c2c2c2" stroke-width="9.4"/><line x1="639.0" y1="768.4" x2="663.5" y2="734.4" stroke="#8a8a8a" stroke-width="12.0"/><line x1="639.0" y1="768.4" x2="663.5" y2="734.4" stroke="#c2c2c2" stroke-width="9.4"/><line x1="715.2" y1="734.4" x2="739.0" y2="768.4" stroke="#8a8a8a" stroke-width="12.0"/><line x1="715.2" y1="734.4" x2="739.0" y2="768.4" stroke="#c2c2c2" stroke-width="9.4"/><line x1="639.0" y1="768.4" x2="663.5" y2="808.6" stroke="#8a8a8a" stroke-width="12.0"/><line x1="639.0" y1="768.4" x2="663.5" y2="808.6" stroke="#c2c2c2" stroke-width="9.4"/><line x1="739.0" y1="768.4" x2="715.2" y2="808.6" stroke="#8a8a8a" stroke-width="12.0"/><line x1="739.0" y1="768.4" x2="715.2" y2="808.6" stroke="#c2c2c2" stroke-width="9.4"/><line x1="663.5" y1="808.6" x2="639.0" y2="849.4" stroke="#8a8a8a" stroke-width="12.0"/><line x1="663.5" y1="808.6" x2="639.0" y2="849.4" stroke="#c2c2c2" stroke-width="9.4"/><line x1="715.2" y1="808.6" x2="739.0" y2="849.4" stroke="#8a8a8a" stroke-width="12.0"/><line x1="715.2" y1="808.6" x2="739.0" y2="849.4" stroke="#c2c2c2" stroke-width="9.4"/><line x1="639.0" y1="849.4" x2="663.5" y2="885.4" stroke="#8a8a8a" stroke-width="12.0"/><line x1="639.0" y1="849.4" x2="663.5" y2="885.4" stroke="#c2c2c2" stroke-width="9.4"/><line x1="739.0" y1="849.4" x2="715.2" y2="885.4" stroke="#8a8a8a" stroke-width="12.0"/><line x1="739.0" y1="849.4" x2="715.2" y2="885.4" stroke="#c2c2c2" stroke-width="9.4"/><circle cx="663.5" cy="734.4" r="16.7" fill="url(#sphG)" stroke="#6d6d6d" stroke-width="0.9"/><circle cx="715.2" cy="734.4" r="16.7" fill="url(#sphG)" stroke="#6d6d6d" stroke-width="0.9"/><circle cx="639.0" cy="768.4" r="16.7" fill="url(#sphG)" stroke="#6d6d6d" stroke-width="0.9"/><circle cx="739.0" cy="768.4" r="16.7" fill="url(#sphG)" stroke="#6d6d6d" stroke-width="0.9"/><circle cx="590.0" cy="768.4" r="16.7" fill="url(#sphG)" stroke="#6d6d6d" stroke-width="0.9"/><circle cx="785.9" cy="768.4" r="16.7" fill="url(#sphG)" stroke="#6d6d6d" stroke-width="0.9"/><circle cx="663.5" cy="808.6" r="16.7" fill="url(#sphG)" stroke="#6d6d6d" stroke-width="0.9"/><circle cx="715.2" cy="808.6" r="16.7" fill="url(#sphG)" stroke="#6d6d6d" stroke-width="0.9"/><circle cx="639.0" cy="849.4" r="16.7" fill="url(#sphG)" stroke="#6d6d6d" stroke-width="0.9"/><circle cx="739.0" cy="849.4" r="16.7" fill="url(#sphG)" stroke="#6d6d6d" stroke-width="0.9"/><circle cx="590.0" cy="849.4" r="16.7" fill="url(#sphG)" stroke="#6d6d6d" stroke-width="0.9"/><circle cx="785.9" cy="849.4" r="16.7" fill="url(#sphG)" stroke="#6d6d6d" stroke-width="0.9"/><circle cx="663.5" cy="885.4" r="16.7" fill="url(#sphG)" stroke="#6d6d6d" stroke-width="0.9"/><circle cx="715.2" cy="885.4" r="16.7" fill="url(#sphG)" stroke="#6d6d6d" stroke-width="0.9"/><circle cx="715.5" cy="811.2" r="10.2" fill="url(#sphC)" stroke="#4f9c98" stroke-width="0.9"/></g><rect x="588.0" y="726.9" width="205.0" height="164.9" fill="none" stroke="#777" stroke-width="4" stroke-dasharray="15.5 14.5"/><line x1="668.6" y1="833.7" x2="701.4" y2="833.7" stroke="#000" stroke-width="2.2"/><path d="M709.4,833.7 L685.4,821.7 L694.5,833.7 L685.4,845.7 Z" fill="#000"/><path d="M465.5,806.0 L510.4,806.0 L510.4,796.0 L531.8,816.9 L510.4,837.8 L510.4,827.6 L465.5,827.6 Z" fill="#D9D9D9"/>
<path d="M221.3,1039.6 L262.5,1035.5 L303.6,1046.7 L344.8,1047.8 L385.9,1050.2 L427.0,1047.8 L468.2,1038.6 L509.3,1038.6 L550.5,1041.0 L591.6,1044.7 L632.8,1051.8 L673.9,1050.8 L715.0,1040.6 L756.2,1039.6 L797.3,1052.9" fill="none" stroke="#BDBDBD" stroke-width="1.2" stroke-dasharray="10 9"/>
<circle cx="221.3" cy="1039.6" r="8.3" fill="#fff" stroke="#ABABAB" stroke-width="3"/><ellipse cx="221.3" cy="1038.6" rx="2.4" ry="1.5" fill="#ABABAB"/>
<circle cx="262.5" cy="1035.5" r="8.3" fill="#fff" stroke="#ABABAB" stroke-width="3"/><ellipse cx="262.5" cy="1034.5" rx="2.4" ry="1.5" fill="#ABABAB"/>
<circle cx="303.6" cy="1046.7" r="8.3" fill="#fff" stroke="#ABABAB" stroke-width="3"/><ellipse cx="303.6" cy="1045.7" rx="2.4" ry="1.5" fill="#ABABAB"/>
<circle cx="344.8" cy="1047.8" r="8.3" fill="#fff" stroke="#ABABAB" stroke-width="3"/><ellipse cx="344.8" cy="1046.8" rx="2.4" ry="1.5" fill="#ABABAB"/>
<circle cx="385.9" cy="1050.2" r="8.3" fill="#fff" stroke="#ABABAB" stroke-width="3"/><ellipse cx="385.9" cy="1049.2" rx="2.4" ry="1.5" fill="#ABABAB"/>
<circle cx="427.0" cy="1047.8" r="8.3" fill="#fff" stroke="#ABABAB" stroke-width="3"/><ellipse cx="427.0" cy="1046.8" rx="2.4" ry="1.5" fill="#ABABAB"/>
<circle cx="468.2" cy="1038.6" r="8.3" fill="#fff" stroke="#ABABAB" stroke-width="3"/><ellipse cx="468.2" cy="1037.6" rx="2.4" ry="1.5" fill="#ABABAB"/>
<circle cx="509.3" cy="1038.6" r="8.3" fill="#fff" stroke="#ABABAB" stroke-width="3"/><ellipse cx="509.3" cy="1037.6" rx="2.4" ry="1.5" fill="#ABABAB"/>
<circle cx="550.5" cy="1041.0" r="8.3" fill="#fff" stroke="#ABABAB" stroke-width="3"/><ellipse cx="550.5" cy="1040.0" rx="2.4" ry="1.5" fill="#ABABAB"/>
<circle cx="591.6" cy="1044.7" r="8.3" fill="#fff" stroke="#ABABAB" stroke-width="3"/><ellipse cx="591.6" cy="1043.7" rx="2.4" ry="1.5" fill="#ABABAB"/>
<circle cx="632.8" cy="1051.8" r="8.3" fill="#fff" stroke="#ABABAB" stroke-width="3"/><ellipse cx="632.8" cy="1050.8" rx="2.4" ry="1.5" fill="#ABABAB"/>
<circle cx="673.9" cy="1050.8" r="8.3" fill="#fff" stroke="#ABABAB" stroke-width="3"/><ellipse cx="673.9" cy="1049.8" rx="2.4" ry="1.5" fill="#ABABAB"/>
<circle cx="715.0" cy="1040.6" r="8.3" fill="#fff" stroke="#ABABAB" stroke-width="3"/><ellipse cx="715.0" cy="1039.6" rx="2.4" ry="1.5" fill="#ABABAB"/>
<circle cx="756.2" cy="1039.6" r="8.3" fill="#fff" stroke="#ABABAB" stroke-width="3"/><ellipse cx="756.2" cy="1038.6" rx="2.4" ry="1.5" fill="#ABABAB"/>
<circle cx="797.3" cy="1052.9" r="8.3" fill="#fff" stroke="#ABABAB" stroke-width="3"/><ellipse cx="797.3" cy="1051.9" rx="2.4" ry="1.5" fill="#ABABAB"/>
<path d="M221.3,1021.2 C228.2,1018.6 248.8,1012.3 262.5,1005.3 C276.2,998.3 289.9,989.0 303.6,979.4 C317.3,969.8 331.0,959.0 344.8,947.8 C358.5,936.6 372.2,922.9 385.9,912.0 C399.6,901.1 413.3,889.4 427.0,882.4 C440.8,875.4 454.5,872.2 468.2,870.2 C481.9,868.2 495.6,868.7 509.3,870.2 C523.0,871.7 536.8,873.6 550.5,879.4 C564.2,885.2 577.9,895.0 591.6,904.9 C605.3,914.8 619.0,927.2 632.8,938.6 C646.5,950.0 660.2,962.9 673.9,973.3 C687.6,983.7 701.3,993.1 715.0,1000.8 C728.7,1008.4 742.5,1015.5 756.2,1019.2 C769.9,1023.0 790.5,1022.6 797.3,1023.3" fill="none" stroke="#D9646F" stroke-width="1.8" stroke-dasharray="7 5"/>
<circle cx="221.3" cy="1021.2" r="8.8" fill="#fff" stroke="#E27A86" stroke-width="2.4"/>
<circle cx="262.5" cy="1005.3" r="8.8" fill="#fff" stroke="#E27A86" stroke-width="2.4"/>
<circle cx="303.6" cy="979.4" r="8.8" fill="#fff" stroke="#E27A86" stroke-width="2.4"/>
<circle cx="344.8" cy="947.8" r="8.8" fill="#fff" stroke="#E27A86" stroke-width="2.4"/>
<circle cx="385.9" cy="912.0" r="8.8" fill="#fff" stroke="#E27A86" stroke-width="2.4"/>
<circle cx="427.0" cy="882.4" r="8.8" fill="#fff" stroke="#E27A86" stroke-width="2.4"/>
<circle cx="468.2" cy="870.2" r="8.8" fill="#fff" stroke="#E27A86" stroke-width="2.4"/>
<circle cx="509.3" cy="870.2" r="8.8" fill="#fff" stroke="#E27A86" stroke-width="2.4"/>
<circle cx="550.5" cy="879.4" r="8.8" fill="#fff" stroke="#E27A86" stroke-width="2.4"/>
<circle cx="591.6" cy="904.9" r="8.8" fill="#fff" stroke="#E27A86" stroke-width="2.4"/>
<circle cx="632.8" cy="938.6" r="8.8" fill="#fff" stroke="#E27A86" stroke-width="2.4"/>
<circle cx="673.9" cy="973.3" r="8.8" fill="#fff" stroke="#E27A86" stroke-width="2.4"/>
<circle cx="715.0" cy="1000.8" r="8.8" fill="#fff" stroke="#E27A86" stroke-width="2.4"/>
<circle cx="756.2" cy="1019.2" r="8.8" fill="#fff" stroke="#E27A86" stroke-width="2.4"/>
<circle cx="797.3" cy="1023.3" r="8.8" fill="#fff" stroke="#E27A86" stroke-width="2.4"/>
<path d="M221.3,1005.9 C228.2,1002.7 248.8,992.3 262.5,986.5 C276.2,980.7 289.9,979.0 303.6,971.2 C317.3,963.4 331.0,949.0 344.8,939.6 C358.5,930.2 372.2,923.1 385.9,915.1 C399.6,907.1 413.3,896.4 427.0,891.6 C440.8,886.8 454.5,887.4 468.2,886.5 C481.9,885.6 495.6,885.4 509.3,886.5 C523.0,887.6 536.8,888.4 550.5,893.2 C564.2,898.0 577.9,908.1 591.6,915.5 C605.3,922.9 619.0,928.6 632.8,937.6 C646.5,946.6 660.2,961.1 673.9,969.2 C687.6,977.3 701.3,980.3 715.0,986.1 C728.7,991.9 742.5,997.5 756.2,1003.9 C769.9,1010.3 790.5,1020.9 797.3,1024.3" fill="none" stroke="#D9646F" stroke-width="1.8"/>
<circle cx="221.3" cy="1005.9" r="9.5" fill="url(#sphR)" stroke="#E2707D" stroke-width="1"/>
<circle cx="262.5" cy="986.5" r="9.5" fill="url(#sphR)" stroke="#E2707D" stroke-width="1"/>
<circle cx="303.6" cy="971.2" r="9.5" fill="url(#sphR)" stroke="#E2707D" stroke-width="1"/>
<circle cx="344.8" cy="939.6" r="9.5" fill="url(#sphR)" stroke="#E2707D" stroke-width="1"/>
<circle cx="385.9" cy="915.1" r="9.5" fill="url(#sphR)" stroke="#E2707D" stroke-width="1"/>
<circle cx="427.0" cy="891.6" r="9.5" fill="url(#sphR)" stroke="#E2707D" stroke-width="1"/>
<circle cx="468.2" cy="886.5" r="9.5" fill="url(#sphR)" stroke="#E2707D" stroke-width="1"/>
<circle cx="509.3" cy="886.5" r="9.5" fill="url(#sphR)" stroke="#E2707D" stroke-width="1"/>
<circle cx="550.5" cy="893.2" r="9.5" fill="url(#sphR)" stroke="#E2707D" stroke-width="1"/>
<circle cx="591.6" cy="915.5" r="9.5" fill="url(#sphR)" stroke="#E2707D" stroke-width="1"/>
<circle cx="632.8" cy="937.6" r="9.5" fill="url(#sphR)" stroke="#E2707D" stroke-width="1"/>
<circle cx="673.9" cy="969.2" r="9.5" fill="url(#sphR)" stroke="#E2707D" stroke-width="1"/>
<circle cx="715.0" cy="986.1" r="9.5" fill="url(#sphR)" stroke="#E2707D" stroke-width="1"/>
<circle cx="756.2" cy="1003.9" r="9.5" fill="url(#sphR)" stroke="#E2707D" stroke-width="1"/>
<circle cx="797.3" cy="1024.3" r="9.5" fill="url(#sphR)" stroke="#E2707D" stroke-width="1"/>
</g>
<line x1="701.8" y1="676.4" x2="774.8" y2="676.4" stroke="#D9646F" stroke-width="1.8"/>
<circle cx="738.3" cy="676.4" r="9.5" fill="url(#sphR)" stroke="#E2707D" stroke-width="1"/>
<line x1="701.8" y1="715.0" x2="774.8" y2="715.0" stroke="#D9646F" stroke-width="1.8" stroke-dasharray="7 5"/>
<circle cx="738.3" cy="715.0" r="8.8" fill="#fff" stroke="#E27A86" stroke-width="2.4"/>
<text x="801.8" y="687.2" font-size="32" fill="#000">MLP</text>
<text x="801.8" y="725.8" font-size="32" fill="#000">DFT</text>
<line x1="139.1" y1="1108.2" x2="139.1" y2="1118.2" stroke="#000" stroke-width="2"/>
<text x="139.1" y="1149.7" font-size="31.5" text-anchor="middle">-0.2</text>
<line x1="180.2" y1="1108.2" x2="180.2" y2="1113.0" stroke="#000" stroke-width="2"/>
<line x1="221.3" y1="1108.2" x2="221.3" y2="1118.2" stroke="#000" stroke-width="2"/>
<text x="221.3" y="1149.7" font-size="31.5" text-anchor="middle">0.0</text>
<line x1="262.5" y1="1108.2" x2="262.5" y2="1113.0" stroke="#000" stroke-width="2"/>
<line x1="303.6" y1="1108.2" x2="303.6" y2="1118.2" stroke="#000" stroke-width="2"/>
<text x="303.6" y="1149.7" font-size="31.5" text-anchor="middle">0.2</text>
<line x1="344.8" y1="1108.2" x2="344.8" y2="1113.0" stroke="#000" stroke-width="2"/>
<line x1="385.9" y1="1108.2" x2="385.9" y2="1118.2" stroke="#000" stroke-width="2"/>
<text x="385.9" y="1149.7" font-size="31.5" text-anchor="middle">0.4</text>
<line x1="427.0" y1="1108.2" x2="427.0" y2="1113.0" stroke="#000" stroke-width="2"/>
<line x1="468.2" y1="1108.2" x2="468.2" y2="1118.2" stroke="#000" stroke-width="2"/>
<text x="468.2" y="1149.7" font-size="31.5" text-anchor="middle">0.6</text>
<line x1="509.3" y1="1108.2" x2="509.3" y2="1113.0" stroke="#000" stroke-width="2"/>
<line x1="550.5" y1="1108.2" x2="550.5" y2="1118.2" stroke="#000" stroke-width="2"/>
<text x="550.5" y="1149.7" font-size="31.5" text-anchor="middle">0.8</text>
<line x1="591.6" y1="1108.2" x2="591.6" y2="1113.0" stroke="#000" stroke-width="2"/>
<line x1="632.8" y1="1108.2" x2="632.8" y2="1118.2" stroke="#000" stroke-width="2"/>
<text x="632.8" y="1149.7" font-size="31.5" text-anchor="middle">1.0</text>
<line x1="673.9" y1="1108.2" x2="673.9" y2="1113.0" stroke="#000" stroke-width="2"/>
<line x1="715.0" y1="1108.2" x2="715.0" y2="1118.2" stroke="#000" stroke-width="2"/>
<text x="715.0" y="1149.7" font-size="31.5" text-anchor="middle">1.2</text>
<line x1="756.2" y1="1108.2" x2="756.2" y2="1113.0" stroke="#000" stroke-width="2"/>
<line x1="797.3" y1="1108.2" x2="797.3" y2="1118.2" stroke="#000" stroke-width="2"/>
<text x="797.3" y="1149.7" font-size="31.5" text-anchor="middle">1.4</text>
<line x1="838.5" y1="1108.2" x2="838.5" y2="1113.0" stroke="#000" stroke-width="2"/>
<line x1="879.6" y1="1108.2" x2="879.6" y2="1118.2" stroke="#000" stroke-width="2"/>
<text x="879.6" y="1149.7" font-size="31.5" text-anchor="middle">1.6</text>
<line x1="134.6" y1="1108.2" x2="139.1" y2="1108.2" stroke="#D0626F" stroke-width="2"/>
<line x1="129.6" y1="1061.9" x2="139.1" y2="1061.9" stroke="#D0626F" stroke-width="2"/>
<text x="122.6" y="1071.4" font-size="31.5" text-anchor="end" fill="#D0626F">-7.66</text>
<line x1="134.6" y1="1015.5" x2="139.1" y2="1015.5" stroke="#D0626F" stroke-width="2"/>
<line x1="129.6" y1="969.2" x2="139.1" y2="969.2" stroke="#D0626F" stroke-width="2"/>
<text x="122.6" y="978.7" font-size="31.5" text-anchor="end" fill="#D0626F">-7.64</text>
<line x1="134.6" y1="922.8" x2="139.1" y2="922.8" stroke="#D0626F" stroke-width="2"/>
<line x1="129.6" y1="876.5" x2="139.1" y2="876.5" stroke="#D0626F" stroke-width="2"/>
<text x="122.6" y="886.0" font-size="31.5" text-anchor="end" fill="#D0626F">-7.62</text>
<line x1="134.6" y1="830.1" x2="139.1" y2="830.1" stroke="#D0626F" stroke-width="2"/>
<line x1="129.6" y1="783.8" x2="139.1" y2="783.8" stroke="#D0626F" stroke-width="2"/>
<text x="122.6" y="793.3" font-size="31.5" text-anchor="end" fill="#D0626F">-7.60</text>
<line x1="134.6" y1="737.4" x2="139.1" y2="737.4" stroke="#D0626F" stroke-width="2"/>
<line x1="129.6" y1="691.0" x2="139.1" y2="691.0" stroke="#D0626F" stroke-width="2"/>
<text x="122.6" y="700.5" font-size="31.5" text-anchor="end" fill="#D0626F">-7.58</text>
<line x1="134.6" y1="644.7" x2="139.1" y2="644.7" stroke="#D0626F" stroke-width="2"/>
<line x1="879.6" y1="1108.2" x2="883.8" y2="1108.2" stroke="#777" stroke-width="1.6"/>
<line x1="879.6" y1="1056.7" x2="888.6" y2="1056.7" stroke="#777" stroke-width="1.6"/>
<text x="894.6" y="1067.2" font-size="31.5" fill="#6E6E6E">0</text>
<line x1="879.6" y1="1005.2" x2="883.8" y2="1005.2" stroke="#777" stroke-width="1.6"/>
<line x1="879.6" y1="953.7" x2="888.6" y2="953.7" stroke="#777" stroke-width="1.6"/>
<text x="894.6" y="964.2" font-size="31.5" fill="#6E6E6E">20</text>
<line x1="879.6" y1="902.2" x2="883.8" y2="902.2" stroke="#777" stroke-width="1.6"/>
<line x1="879.6" y1="850.7" x2="888.6" y2="850.7" stroke="#777" stroke-width="1.6"/>
<text x="894.6" y="861.2" font-size="31.5" fill="#6E6E6E">40</text>
<line x1="879.6" y1="799.2" x2="883.8" y2="799.2" stroke="#777" stroke-width="1.6"/>
<line x1="879.6" y1="747.7" x2="888.6" y2="747.7" stroke="#777" stroke-width="1.6"/>
<text x="894.6" y="758.2" font-size="31.5" fill="#6E6E6E">60</text>
<line x1="879.6" y1="696.2" x2="883.8" y2="696.2" stroke="#777" stroke-width="1.6"/>
<line x1="879.6" y1="644.7" x2="888.6" y2="644.7" stroke="#777" stroke-width="1.6"/>
<text x="894.6" y="655.2" font-size="31.5" fill="#6E6E6E">80</text>
<line x1="139.1" y1="644.7" x2="880.9" y2="644.7" stroke="#000" stroke-width="2.6"/>
<line x1="139.1" y1="1108.2" x2="880.9" y2="1108.2" stroke="#000" stroke-width="2.6"/>
<line x1="879.6" y1="644.7" x2="879.6" y2="1108.2" stroke="#111" stroke-width="2.2"/>
<line x1="139.1" y1="643.4" x2="139.1" y2="1109.5" stroke="#D0626F" stroke-width="2.6"/>
<text transform="translate(37.1,876.5) rotate(-90)" font-size="34" text-anchor="middle" fill="#D0626F">Energy (eV/atom)</text>
<text transform="translate(967.6,876.5) rotate(-90)" font-size="34" text-anchor="middle" fill="#6E6E6E">Energy error (meV/atom)</text>
<text x="509.3" y="1191.2" font-size="34" text-anchor="middle">Distance(Å)</text>
<text x="2.1" y="622.0" font-size="45" font-weight="bold">(c)</text>
<g clip-path="url(#clipd)">
<g clip-path="url(#ib5)"><line x1="1235.2" y1="769.4" x2="1257.2" y2="795.2" stroke="#7c7c7c" stroke-width="9.5"/><line x1="1235.2" y1="769.4" x2="1257.2" y2="795.2" stroke="#a8a8a8" stroke-width="6.9"/><line x1="1285.2" y1="769.4" x2="1257.2" y2="795.2" stroke="#7c7c7c" stroke-width="9.5"/><line x1="1285.2" y1="769.4" x2="1257.2" y2="795.2" stroke="#a8a8a8" stroke-width="6.9"/><line x1="1285.2" y1="769.4" x2="1313.2" y2="795.2" stroke="#7c7c7c" stroke-width="9.5"/><line x1="1285.2" y1="769.4" x2="1313.2" y2="795.2" stroke="#a8a8a8" stroke-width="6.9"/><line x1="1339.7" y1="769.4" x2="1313.2" y2="795.2" stroke="#7c7c7c" stroke-width="9.5"/><line x1="1339.7" y1="769.4" x2="1313.2" y2="795.2" stroke="#a8a8a8" stroke-width="6.9"/><line x1="1339.7" y1="769.4" x2="1367.2" y2="795.2" stroke="#7c7c7c" stroke-width="9.5"/><line x1="1339.7" y1="769.4" x2="1367.2" y2="795.2" stroke="#a8a8a8" stroke-width="6.9"/><line x1="1394.2" y1="769.4" x2="1367.2" y2="795.2" stroke="#7c7c7c" stroke-width="9.5"/><line x1="1394.2" y1="769.4" x2="1367.2" y2="795.2" stroke="#a8a8a8" stroke-width="6.9"/><line x1="1394.2" y1="769.4" x2="1422.2" y2="795.2" stroke="#7c7c7c" stroke-width="9.5"/><line x1="1394.2" y1="769.4" x2="1422.2" y2="795.2" stroke="#a8a8a8" stroke-width="6.9"/><line x1="1444.2" y1="769.4" x2="1422.2" y2="795.2" stroke="#7c7c7c" stroke-width="9.5"/><line x1="1444.2" y1="769.4" x2="1422.2" y2="795.2" stroke="#a8a8a8" stroke-width="6.9"/><line x1="1235.2" y1="820.2" x2="1257.2" y2="845.3" stroke="#7c7c7c" stroke-width="9.5"/><line x1="1235.2" y1="820.2" x2="1257.2" y2="845.3" stroke="#a8a8a8" stroke-width="6.9"/><line x1="1285.2" y1="820.2" x2="1257.2" y2="845.3" stroke="#7c7c7c" stroke-width="9.5"/><line x1="1285.2" y1="820.2" x2="1257.2" y2="845.3" stroke="#a8a8a8" stroke-width="6.9"/><line x1="1285.2" y1="820.2" x2="1313.2" y2="845.3" stroke="#7c7c7c" stroke-width="9.5"/><line x1="1285.2" y1="820.2" x2="1313.2" y2="845.3" stroke="#a8a8a8" stroke-width="6.9"/><line x1="1339.7" y1="820.2" x2="1313.2" y2="845.3" stroke="#7c7c7c" stroke-width="9.5"/><line x1="1339.7" y1="820.2" x2="1313.2" y2="845.3" stroke="#a8a8a8" stroke-width="6.9"/><line x1="1339.7" y1="820.2" x2="1367.2" y2="845.3" stroke="#7c7c7c" stroke-width="9.5"/><line x1="1339.7" y1="820.2" x2="1367.2" y2="845.3" stroke="#a8a8a8" stroke-width="6.9"/><line x1="1394.2" y1="820.2" x2="1367.2" y2="845.3" stroke="#7c7c7c" stroke-width="9.5"/><line x1="1394.2" y1="820.2" x2="1367.2" y2="845.3" stroke="#a8a8a8" stroke-width="6.9"/><line x1="1394.2" y1="820.2" x2="1422.2" y2="845.3" stroke="#7c7c7c" stroke-width="9.5"/><line x1="1394.2" y1="820.2" x2="1422.2" y2="845.3" stroke="#a8a8a8" stroke-width="6.9"/><line x1="1444.2" y1="820.2" x2="1422.2" y2="845.3" stroke="#7c7c7c" stroke-width="9.5"/><line x1="1444.2" y1="820.2" x2="1422.2" y2="845.3" stroke="#a8a8a8" stroke-width="6.9"/><line x1="1235.2" y1="870.3" x2="1257.2" y2="892.4" stroke="#7c7c7c" stroke-width="9.5"/><line x1="1235.2" y1="870.3" x2="1257.2" y2="892.4" stroke="#a8a8a8" stroke-width="6.9"/><line x1="1285.2" y1="870.3" x2="1257.2" y2="892.4" stroke="#7c7c7c" stroke-width="9.5"/><line x1="1285.2" y1="870.3" x2="1257.2" y2="892.4" stroke="#a8a8a8" stroke-width="6.9"/><line x1="1285.2" y1="870.3" x2="1313.2" y2="892.4" stroke="#7c7c7c" stroke-width="9.5"/><line x1="1285.2" y1="870.3" x2="1313.2" y2="892.4" stroke="#a8a8a8" stroke-width="6.9"/><line x1="1339.7" y1="870.3" x2="1313.2" y2="892.4" stroke="#7c7c7c" stroke-width="9.5"/><line x1="1339.7" y1="870.3" x2="1313.2" y2="892.4" stroke="#a8a8a8" stroke-width="6.9"/><line x1="1339.7" y1="870.3" x2="1367.2" y2="892.4" stroke="#7c7c7c" stroke-width="9.5"/><line x1="1339.7" y1="870.3" x2="1367.2" y2="892.4" stroke="#a8a8a8" stroke-width="6.9"/><line x1="1394.2" y1="870.3" x2="1367.2" y2="892.4" stroke="#7c7c7c" stroke-width="9.5"/><line x1="1394.2" y1="870.3" x2="1367.2" y2="892.4" stroke="#a8a8a8" stroke-width="6.9"/><line x1="1394.2" y1="870.3" x2="1422.2" y2="892.4" stroke="#7c7c7c" stroke-width="9.5"/><line x1="1394.2" y1="870.3" x2="1422.2" y2="892.4" stroke="#a8a8a8" stroke-width="6.9"/><line x1="1444.2" y1="870.3" x2="1422.2" y2="892.4" stroke="#7c7c7c" stroke-width="9.5"/><line x1="1444.2" y1="870.3" x2="1422.2" y2="892.4" stroke="#a8a8a8" stroke-width="6.9"/><line x1="1257.2" y1="749.6" x2="1235.2" y2="769.4" stroke="#7c7c7c" stroke-width="9.5"/><line x1="1257.2" y1="749.6" x2="1235.2" y2="769.4" stroke="#a8a8a8" stroke-width="6.9"/><line x1="1257.2" y1="749.6" x2="1285.2" y2="769.4" stroke="#7c7c7c" stroke-width="9.5"/><line x1="1257.2" y1="749.6" x2="1285.2" y2="769.4" stroke="#a8a8a8" stroke-width="6.9"/><line x1="1313.2" y1="749.6" x2="1285.2" y2="769.4" stroke="#7c7c7c" stroke-width="9.5"/><line x1="1313.2" y1="749.6" x2="1285.2" y2="769.4" stroke="#a8a8a8" stroke-width="6.9"/><line x1="1313.2" y1="749.6" x2="1339.7" y2="769.4" stroke="#7c7c7c" stroke-width="9.5"/><line x1="1313.2" y1="749.6" x2="1339.7" y2="769.4" stroke="#a8a8a8" stroke-width="6.9"/><line x1="1367.2" y1="749.6" x2="1339.7" y2="769.4" stroke="#7c7c7c" stroke-width="9.5"/><line x1="1367.2" y1="749.6" x2="1339.7" y2="769.4" stroke="#a8a8a8" stroke-width="6.9"/><line x1="1367.2" y1="749.6" x2="1394.2" y2="769.4" stroke="#7c7c7c" stroke-width="9.5"/><line x1="1367.2" y1="749.6" x2="1394.2" y2="769.4" stroke="#a8a8a8" stroke-width="6.9"/><line x1="1422.2" y1="749.6" x2="1394.2" y2="769.4" stroke="#7c7c7c" stroke-width="9.5"/><line x1="1422.2" y1="749.6" x2="1394.2" y2="769.4" stroke="#a8a8a8" stroke-width="6.9"/><line x1="1422.2" y1="749.6" x2="1444.2" y2="769.4" stroke="#7c7c7c" stroke-width="9.5"/><line x1="1422.2" y1="749.6" x2="1444.2" y2="769.4" stroke="#a8a8a8" stroke-width="6.9"/><line x1="1257.2" y1="795.2" x2="1235.2" y2="820.2" stroke="#7c7c7c" stroke-width="9.5"/><line x1="1257.2" y1="795.2" x2="1235.2" y2="820.2" stroke="#a8a8a8" stroke-width="6.9"/><line x1="1257.2" y1="795.2" x2="1285.2" y2="820.2" stroke="#7c7c7c" stroke-width="9.5"/><line x1="1257.2" y1="795.2" x2="1285.2" y2="820.2" stroke="#a8a8a8" stroke-width="6.9"/><line x1="1313.2" y1="795.2" x2="1285.2" y2="820.2" stroke="#7c7c7c" stroke-width="9.5"/><line x1="1313.2" y1="795.2" x2="1285.2" y2="820.2" stroke="#a8a8a8" stroke-width="6.9"/><line x1="1313.2" y1="795.2" x2="1339.7" y2="820.2" stroke="#7c7c7c" stroke-width="9.5"/><line x1="1313.2" y1="795.2" x2="1339.7" y2="820.2" stroke="#a8a8a8" stroke-width="6.9"/><line x1="1367.2" y1="795.2" x2="1339.7" y2="820.2" stroke="#7c7c7c" stroke-width="9.5"/><line x1="1367.2" y1="795.2" x2="1339.7" y2="820.2" stroke="#a8a8a8" stroke-width="6.9"/><line x1="1367.2" y1="795.2" x2="1394.2" y2="820.2" stroke="#7c7c7c" stroke-width="9.5"/><line x1="1367.2" y1="795.2" x2="1394.2" y2="820.2" stroke="#a8a8a8" stroke-width="6.9"/><line x1="1422.2" y1="795.2" x2="1394.2" y2="820.2" stroke="#7c7c7c" stroke-width="9.5"/><line x1="1422.2" y1="795.2" x2="1394.2" y2="820.2" stroke="#a8a8a8" stroke-width="6.9"/><line x1="1422.2" y1="795.2" x2="1444.2" y2="820.2" stroke="#7c7c7c" stroke-width="9.5"/><line x1="1422.2" y1="795.2" x2="1444.2" y2="820.2" stroke="#a8a8a8" stroke-width="6.9"/><line x1="1257.2" y1="845.3" x2="1235.2" y2="870.3" stroke="#7c7c7c" stroke-width="9.5"/><line x1="1257.2" y1="845.3" x2="1235.2" y2="870.3" stroke="#a8a8a8" stroke-width="6.9"/><line x1="1257.2" y1="845.3" x2="1285.2" y2="870.3" stroke="#7c7c7c" stroke-width="9.5"/><line x1="1257.2" y1="845.3" x2="1285.2" y2="870.3" stroke="#a8a8a8" stroke-width="6.9"/><line x1="1313.2" y1="845.3" x2="1285.2" y2="870.3" stroke="#7c7c7c" stroke-width="9.5"/><line x1="1313.2" y1="845.3" x2="1285.2" y2="870.3" stroke="#a8a8a8" stroke-width="6.9"/><line x1="1313.2" y1="845.3" x2="1339.7" y2="870.3" stroke="#7c7c7c" stroke-width="9.5"/><line x1="1313.2" y1="845.3" x2="1339.7" y2="870.3" stroke="#a8a8a8" stroke-width="6.9"/><line x1="1367.2" y1="845.3" x2="1339.7" y2="870.3" stroke="#7c7c7c" stroke-width="9.5"/><line x1="1367.2" y1="845.3" x2="1339.7" y2="870.3" stroke="#a8a8a8" stroke-width="6.9"/><line x1="1367.2" y1="845.3" x2="1394.2" y2="870.3" stroke="#7c7c7c" stroke-width="9.5"/><line x1="1367.2" y1="845.3" x2="1394.2" y2="870.3" stroke="#a8a8a8" stroke-width="6.9"/><line x1="1422.2" y1="845.3" x2="1394.2" y2="870.3" stroke="#7c7c7c" stroke-width="9.5"/><line x1="1422.2" y1="845.3" x2="1394.2" y2="870.3" stroke="#a8a8a8" stroke-width="6.9"/><line x1="1422.2" y1="845.3" x2="1444.2" y2="870.3" stroke="#7c7c7c" stroke-width="9.5"/><line x1="1422.2" y1="845.3" x2="1444.2" y2="870.3" stroke="#a8a8a8" stroke-width="6.9"/><circle cx="1235.2" cy="769.4" r="13.2" fill="url(#sphG)" stroke="#6d6d6d" stroke-width="0.9"/><circle cx="1285.2" cy="769.4" r="13.2" fill="url(#sphG)" stroke="#6d6d6d" stroke-width="0.9"/><circle cx="1339.7" cy="769.4" r="13.2" fill="url(#sphG)" stroke="#6d6d6d" stroke-width="0.9"/><circle cx="1394.2" cy="769.4" r="13.2" fill="url(#sphG)" stroke="#6d6d6d" stroke-width="0.9"/><circle cx="1444.2" cy="769.4" r="13.2" fill="url(#sphG)" stroke="#6d6d6d" stroke-width="0.9"/><circle cx="1235.2" cy="820.2" r="13.2" fill="url(#sphG)" stroke="#6d6d6d" stroke-width="0.9"/><circle cx="1285.2" cy="820.2" r="13.2" fill="url(#sphG)" stroke="#6d6d6d" stroke-width="0.9"/><circle cx="1339.7" cy="820.2" r="13.2" fill="url(#sphG)" stroke="#6d6d6d" stroke-width="0.9"/><circle cx="1394.2" cy="820.2" r="13.2" fill="url(#sphG)" stroke="#6d6d6d" stroke-width="0.9"/><circle cx="1444.2" cy="820.2" r="13.2" fill="url(#sphG)" stroke="#6d6d6d" stroke-width="0.9"/><circle cx="1235.2" cy="870.3" r="13.2" fill="url(#sphG)" stroke="#6d6d6d" stroke-width="0.9"/><circle cx="1285.2" cy="870.3" r="13.2" fill="url(#sphG)" stroke="#6d6d6d" stroke-width="0.9"/><circle cx="1339.7" cy="870.3" r="13.2" fill="url(#sphG)" stroke="#6d6d6d" stroke-width="0.9"/><circle cx="1394.2" cy="870.3" r="13.2" fill="url(#sphG)" stroke="#6d6d6d" stroke-width="0.9"/><circle cx="1444.2" cy="870.3" r="13.2" fill="url(#sphG)" stroke="#6d6d6d" stroke-width="0.9"/><circle cx="1257.2" cy="749.6" r="13.2" fill="url(#sphG)" stroke="#6d6d6d" stroke-width="0.9"/><circle cx="1313.2" cy="749.6" r="13.2" fill="url(#sphG)" stroke="#6d6d6d" stroke-width="0.9"/><circle cx="1367.2" cy="749.6" r="13.2" fill="url(#sphG)" stroke="#6d6d6d" stroke-width="0.9"/><circle cx="1422.2" cy="749.6" r="13.2" fill="url(#sphG)" stroke="#6d6d6d" stroke-width="0.9"/><circle cx="1257.2" cy="795.2" r="13.2" fill="url(#sphG)" stroke="#6d6d6d" stroke-width="0.9"/><circle cx="1313.2" cy="795.2" r="13.2" fill="url(#sphG)" stroke="#6d6d6d" stroke-width="0.9"/><circle cx="1367.2" cy="795.2" r="13.2" fill="url(#sphG)" stroke="#6d6d6d" stroke-width="0.9"/><circle cx="1422.2" cy="795.2" r="13.2" fill="url(#sphG)" stroke="#6d6d6d" stroke-width="0.9"/><circle cx="1257.2" cy="845.3" r="13.2" fill="url(#sphG)" stroke="#6d6d6d" stroke-width="0.9"/><circle cx="1313.2" cy="845.3" r="13.2" fill="url(#sphG)" stroke="#6d6d6d" stroke-width="0.9"/><circle cx="1367.2" cy="845.3" r="13.2" fill="url(#sphG)" stroke="#6d6d6d" stroke-width="0.9"/><circle cx="1422.2" cy="845.3" r="13.2" fill="url(#sphG)" stroke="#6d6d6d" stroke-width="0.9"/><circle cx="1257.2" cy="892.4" r="13.2" fill="url(#sphG)" stroke="#6d6d6d" stroke-width="0.9"/><circle cx="1313.2" cy="892.4" r="13.2" fill="url(#sphG)" stroke="#6d6d6d" stroke-width="0.9"/><circle cx="1367.2" cy="892.4" r="13.2" fill="url(#sphG)" stroke="#6d6d6d" stroke-width="0.9"/><circle cx="1422.2" cy="892.4" r="13.2" fill="url(#sphG)" stroke="#6d6d6d" stroke-width="0.9"/><rect x="1286.2" y="829.3" width="48" height="40" fill="#fff" opacity="0.55"/><circle cx="1313.2" cy="845.3" r="14" fill="#E4E4E4" opacity="0.9"/><circle cx="1285.2" cy="820.2" r="14" fill="url(#sphG)" stroke="#6d6d6d" stroke-width="0.9"/><circle cx="1285.2" cy="820.2" r="8.8" fill="url(#sphC)" stroke="#4f9c98" stroke-width="0.9"/></g><rect x="1229.2" y="743.6" width="222.5" height="153.3" fill="none" stroke="#777" stroke-width="4" stroke-dasharray="15.5 14.5"/><line x1="1301.4" y1="821.0" x2="1333.9" y2="821.0" stroke="#000" stroke-width="2.2"/><path d="M1341.9,821.0 L1317.9,809.0 L1327.0,821.0 L1317.9,833.0 Z" fill="#000"/><text x="1314.0" y="871.1" font-size="32" fill="#000">d</text><text x="1239.5" y="739.2" font-size="35" fill="#000">D = 1.1Å</text><g clip-path="url(#ib6)"><line x1="1599.5" y1="770.7" x2="1621.5" y2="796.5" stroke="#7c7c7c" stroke-width="9.5"/><line x1="1599.5" y1="770.7" x2="1621.5" y2="796.5" stroke="#a8a8a8" stroke-width="6.9"/><line x1="1649.5" y1="770.7" x2="1621.5" y2="796.5" stroke="#7c7c7c" stroke-width="9.5"/><line x1="1649.5" y1="770.7" x2="1621.5" y2="796.5" stroke="#a8a8a8" stroke-width="6.9"/><line x1="1649.5" y1="770.7" x2="1677.5" y2="796.5" stroke="#7c7c7c" stroke-width="9.5"/><line x1="1649.5" y1="770.7" x2="1677.5" y2="796.5" stroke="#a8a8a8" stroke-width="6.9"/><line x1="1704.0" y1="770.7" x2="1677.5" y2="796.5" stroke="#7c7c7c" stroke-width="9.5"/><line x1="1704.0" y1="770.7" x2="1677.5" y2="796.5" stroke="#a8a8a8" stroke-width="6.9"/><line x1="1704.0" y1="770.7" x2="1731.5" y2="796.5" stroke="#7c7c7c" stroke-width="9.5"/><line x1="1704.0" y1="770.7" x2="1731.5" y2="796.5" stroke="#a8a8a8" stroke-width="6.9"/><line x1="1758.5" y1="770.7" x2="1731.5" y2="796.5" stroke="#7c7c7c" stroke-width="9.5"/><line x1="1758.5" y1="770.7" x2="1731.5" y2="796.5" stroke="#a8a8a8" stroke-width="6.9"/><line x1="1758.5" y1="770.7" x2="1786.5" y2="796.5" stroke="#7c7c7c" stroke-width="9.5"/><line x1="1758.5" y1="770.7" x2="1786.5" y2="796.5" stroke="#a8a8a8" stroke-width="6.9"/><line x1="1808.5" y1="770.7" x2="1786.5" y2="796.5" stroke="#7c7c7c" stroke-width="9.5"/><line x1="1808.5" y1="770.7" x2="1786.5" y2="796.5" stroke="#a8a8a8" stroke-width="6.9"/><line x1="1599.5" y1="821.5" x2="1621.5" y2="846.6" stroke="#7c7c7c" stroke-width="9.5"/><line x1="1599.5" y1="821.5" x2="1621.5" y2="846.6" stroke="#a8a8a8" stroke-width="6.9"/><line x1="1649.5" y1="821.5" x2="1621.5" y2="846.6" stroke="#7c7c7c" stroke-width="9.5"/><line x1="1649.5" y1="821.5" x2="1621.5" y2="846.6" stroke="#a8a8a8" stroke-width="6.9"/><line x1="1649.5" y1="821.5" x2="1677.5" y2="846.6" stroke="#7c7c7c" stroke-width="9.5"/><line x1="1649.5" y1="821.5" x2="1677.5" y2="846.6" stroke="#a8a8a8" stroke-width="6.9"/><line x1="1704.0" y1="821.5" x2="1677.5" y2="846.6" stroke="#7c7c7c" stroke-width="9.5"/><line x1="1704.0" y1="821.5" x2="1677.5" y2="846.6" stroke="#a8a8a8" stroke-width="6.9"/><line x1="1704.0" y1="821.5" x2="1731.5" y2="846.6" stroke="#7c7c7c" stroke-width="9.5"/><line x1="1704.0" y1="821.5" x2="1731.5" y2="846.6" stroke="#a8a8a8" stroke-width="6.9"/><line x1="1758.5" y1="821.5" x2="1731.5" y2="846.6" stroke="#7c7c7c" stroke-width="9.5"/><line x1="1758.5" y1="821.5" x2="1731.5" y2="846.6" stroke="#a8a8a8" stroke-width="6.9"/><line x1="1758.5" y1="821.5" x2="1786.5" y2="846.6" stroke="#7c7c7c" stroke-width="9.5"/><line x1="1758.5" y1="821.5" x2="1786.5" y2="846.6" stroke="#a8a8a8" stroke-width="6.9"/><line x1="1808.5" y1="821.5" x2="1786.5" y2="846.6" stroke="#7c7c7c" stroke-width="9.5"/><line x1="1808.5" y1="821.5" x2="1786.5" y2="846.6" stroke="#a8a8a8" stroke-width="6.9"/><line x1="1599.5" y1="871.6" x2="1621.5" y2="893.7" stroke="#7c7c7c" stroke-width="9.5"/><line x1="1599.5" y1="871.6" x2="1621.5" y2="893.7" stroke="#a8a8a8" stroke-width="6.9"/><line x1="1649.5" y1="871.6" x2="1621.5" y2="893.7" stroke="#7c7c7c" stroke-width="9.5"/><line x1="1649.5" y1="871.6" x2="1621.5" y2="893.7" stroke="#a8a8a8" stroke-width="6.9"/><line x1="1649.5" y1="871.6" x2="1677.5" y2="893.7" stroke="#7c7c7c" stroke-width="9.5"/><line x1="1649.5" y1="871.6" x2="1677.5" y2="893.7" stroke="#a8a8a8" stroke-width="6.9"/><line x1="1704.0" y1="871.6" x2="1677.5" y2="893.7" stroke="#7c7c7c" stroke-width="9.5"/><line x1="1704.0" y1="871.6" x2="1677.5" y2="893.7" stroke="#a8a8a8" stroke-width="6.9"/><line x1="1704.0" y1="871.6" x2="1731.5" y2="893.7" stroke="#7c7c7c" stroke-width="9.5"/><line x1="1704.0" y1="871.6" x2="1731.5" y2="893.7" stroke="#a8a8a8" stroke-width="6.9"/><line x1="1758.5" y1="871.6" x2="1731.5" y2="893.7" stroke="#7c7c7c" stroke-width="9.5"/><line x1="1758.5" y1="871.6" x2="1731.5" y2="893.7" stroke="#a8a8a8" stroke-width="6.9"/><line x1="1758.5" y1="871.6" x2="1786.5" y2="893.7" stroke="#7c7c7c" stroke-width="9.5"/><line x1="1758.5" y1="871.6" x2="1786.5" y2="893.7" stroke="#a8a8a8" stroke-width="6.9"/><line x1="1808.5" y1="871.6" x2="1786.5" y2="893.7" stroke="#7c7c7c" stroke-width="9.5"/><line x1="1808.5" y1="871.6" x2="1786.5" y2="893.7" stroke="#a8a8a8" stroke-width="6.9"/><line x1="1621.5" y1="750.9" x2="1599.5" y2="770.7" stroke="#7c7c7c" stroke-width="9.5"/><line x1="1621.5" y1="750.9" x2="1599.5" y2="770.7" stroke="#a8a8a8" stroke-width="6.9"/><line x1="1621.5" y1="750.9" x2="1649.5" y2="770.7" stroke="#7c7c7c" stroke-width="9.5"/><line x1="1621.5" y1="750.9" x2="1649.5" y2="770.7" stroke="#a8a8a8" stroke-width="6.9"/><line x1="1677.5" y1="750.9" x2="1649.5" y2="770.7" stroke="#7c7c7c" stroke-width="9.5"/><line x1="1677.5" y1="750.9" x2="1649.5" y2="770.7" stroke="#a8a8a8" stroke-width="6.9"/><line x1="1677.5" y1="750.9" x2="1704.0" y2="770.7" stroke="#7c7c7c" stroke-width="9.5"/><line x1="1677.5" y1="750.9" x2="1704.0" y2="770.7" stroke="#a8a8a8" stroke-width="6.9"/><line x1="1731.5" y1="750.9" x2="1704.0" y2="770.7" stroke="#7c7c7c" stroke-width="9.5"/><line x1="1731.5" y1="750.9" x2="1704.0" y2="770.7" stroke="#a8a8a8" stroke-width="6.9"/><line x1="1731.5" y1="750.9" x2="1758.5" y2="770.7" stroke="#7c7c7c" stroke-width="9.5"/><line x1="1731.5" y1="750.9" x2="1758.5" y2="770.7" stroke="#a8a8a8" stroke-width="6.9"/><line x1="1786.5" y1="750.9" x2="1758.5" y2="770.7" stroke="#7c7c7c" stroke-width="9.5"/><line x1="1786.5" y1="750.9" x2="1758.5" y2="770.7" stroke="#a8a8a8" stroke-width="6.9"/><line x1="1786.5" y1="750.9" x2="1808.5" y2="770.7" stroke="#7c7c7c" stroke-width="9.5"/><line x1="1786.5" y1="750.9" x2="1808.5" y2="770.7" stroke="#a8a8a8" stroke-width="6.9"/><line x1="1621.5" y1="796.5" x2="1599.5" y2="821.5" stroke="#7c7c7c" stroke-width="9.5"/><line x1="1621.5" y1="796.5" x2="1599.5" y2="821.5" stroke="#a8a8a8" stroke-width="6.9"/><line x1="1621.5" y1="796.5" x2="1649.5" y2="821.5" stroke="#7c7c7c" stroke-width="9.5"/><line x1="1621.5" y1="796.5" x2="1649.5" y2="821.5" stroke="#a8a8a8" stroke-width="6.9"/><line x1="1677.5" y1="796.5" x2="1649.5" y2="821.5" stroke="#7c7c7c" stroke-width="9.5"/><line x1="1677.5" y1="796.5" x2="1649.5" y2="821.5" stroke="#a8a8a8" stroke-width="6.9"/><line x1="1677.5" y1="796.5" x2="1704.0" y2="821.5" stroke="#7c7c7c" stroke-width="9.5"/><line x1="1677.5" y1="796.5" x2="1704.0" y2="821.5" stroke="#a8a8a8" stroke-width="6.9"/><line x1="1731.5" y1="796.5" x2="1704.0" y2="821.5" stroke="#7c7c7c" stroke-width="9.5"/><line x1="1731.5" y1="796.5" x2="1704.0" y2="821.5" stroke="#a8a8a8" stroke-width="6.9"/><line x1="1731.5" y1="796.5" x2="1758.5" y2="821.5" stroke="#7c7c7c" stroke-width="9.5"/><line x1="1731.5" y1="796.5" x2="1758.5" y2="821.5" stroke="#a8a8a8" stroke-width="6.9"/><line x1="1786.5" y1="796.5" x2="1758.5" y2="821.5" stroke="#7c7c7c" stroke-width="9.5"/><line x1="1786.5" y1="796.5" x2="1758.5" y2="821.5" stroke="#a8a8a8" stroke-width="6.9"/><line x1="1786.5" y1="796.5" x2="1808.5" y2="821.5" stroke="#7c7c7c" stroke-width="9.5"/><line x1="1786.5" y1="796.5" x2="1808.5" y2="821.5" stroke="#a8a8a8" stroke-width="6.9"/><line x1="1621.5" y1="846.6" x2="1599.5" y2="871.6" stroke="#7c7c7c" stroke-width="9.5"/><line x1="1621.5" y1="846.6" x2="1599.5" y2="871.6" stroke="#a8a8a8" stroke-width="6.9"/><line x1="1621.5" y1="846.6" x2="1649.5" y2="871.6" stroke="#7c7c7c" stroke-width="9.5"/><line x1="1621.5" y1="846.6" x2="1649.5" y2="871.6" stroke="#a8a8a8" stroke-width="6.9"/><line x1="1677.5" y1="846.6" x2="1649.5" y2="871.6" stroke="#7c7c7c" stroke-width="9.5"/><line x1="1677.5" y1="846.6" x2="1649.5" y2="871.6" stroke="#a8a8a8" stroke-width="6.9"/><line x1="1677.5" y1="846.6" x2="1704.0" y2="871.6" stroke="#7c7c7c" stroke-width="9.5"/><line x1="1677.5" y1="846.6" x2="1704.0" y2="871.6" stroke="#a8a8a8" stroke-width="6.9"/><line x1="1731.5" y1="846.6" x2="1704.0" y2="871.6" stroke="#7c7c7c" stroke-width="9.5"/><line x1="1731.5" y1="846.6" x2="1704.0" y2="871.6" stroke="#a8a8a8" stroke-width="6.9"/><line x1="1731.5" y1="846.6" x2="1758.5" y2="871.6" stroke="#7c7c7c" stroke-width="9.5"/><line x1="1731.5" y1="846.6" x2="1758.5" y2="871.6" stroke="#a8a8a8" stroke-width="6.9"/><line x1="1786.5" y1="846.6" x2="1758.5" y2="871.6" stroke="#7c7c7c" stroke-width="9.5"/><line x1="1786.5" y1="846.6" x2="1758.5" y2="871.6" stroke="#a8a8a8" stroke-width="6.9"/><line x1="1786.5" y1="846.6" x2="1808.5" y2="871.6" stroke="#7c7c7c" stroke-width="9.5"/><line x1="1786.5" y1="846.6" x2="1808.5" y2="871.6" stroke="#a8a8a8" stroke-width="6.9"/><circle cx="1599.5" cy="770.7" r="13.2" fill="url(#sphG)" stroke="#6d6d6d" stroke-width="0.9"/><circle cx="1649.5" cy="770.7" r="13.2" fill="url(#sphG)" stroke="#6d6d6d" stroke-width="0.9"/><circle cx="1704.0" cy="770.7" r="13.2" fill="url(#sphG)" stroke="#6d6d6d" stroke-width="0.9"/><circle cx="1758.5" cy="770.7" r="13.2" fill="url(#sphG)" stroke="#6d6d6d" stroke-width="0.9"/><circle cx="1808.5" cy="770.7" r="13.2" fill="url(#sphG)" stroke="#6d6d6d" stroke-width="0.9"/><circle cx="1599.5" cy="821.5" r="13.2" fill="url(#sphG)" stroke="#6d6d6d" stroke-width="0.9"/><circle cx="1649.5" cy="821.5" r="13.2" fill="url(#sphG)" stroke="#6d6d6d" stroke-width="0.9"/><circle cx="1704.0" cy="821.5" r="13.2" fill="url(#sphG)" stroke="#6d6d6d" stroke-width="0.9"/><circle cx="1758.5" cy="821.5" r="13.2" fill="url(#sphG)" stroke="#6d6d6d" stroke-width="0.9"/><circle cx="1808.5" cy="821.5" r="13.2" fill="url(#sphG)" stroke="#6d6d6d" stroke-width="0.9"/><circle cx="1599.5" cy="871.6" r="13.2" fill="url(#sphG)" stroke="#6d6d6d" stroke-width="0.9"/><circle cx="1649.5" cy="871.6" r="13.2" fill="url(#sphG)" stroke="#6d6d6d" stroke-width="0.9"/><circle cx="1704.0" cy="871.6" r="13.2" fill="url(#sphG)" stroke="#6d6d6d" stroke-width="0.9"/><circle cx="1758.5" cy="871.6" r="13.2" fill="url(#sphG)" stroke="#6d6d6d" stroke-width="0.9"/><circle cx="1808.5" cy="871.6" r="13.2" fill="url(#sphG)" stroke="#6d6d6d" stroke-width="0.9"/><circle cx="1621.5" cy="750.9" r="13.2" fill="url(#sphG)" stroke="#6d6d6d" stroke-width="0.9"/><circle cx="1677.5" cy="750.9" r="13.2" fill="url(#sphG)" stroke="#6d6d6d" stroke-width="0.9"/><circle cx="1731.5" cy="750.9" r="13.2" fill="url(#sphG)" stroke="#6d6d6d" stroke-width="0.9"/><circle cx="1786.5" cy="750.9" r="13.2" fill="url(#sphG)" stroke="#6d6d6d" stroke-width="0.9"/><circle cx="1621.5" cy="796.5" r="13.2" fill="url(#sphG)" stroke="#6d6d6d" stroke-width="0.9"/><circle cx="1677.5" cy="796.5" r="13.2" fill="url(#sphG)" stroke="#6d6d6d" stroke-width="0.9"/><circle cx="1731.5" cy="796.5" r="13.2" fill="url(#sphG)" stroke="#6d6d6d" stroke-width="0.9"/><circle cx="1786.5" cy="796.5" r="13.2" fill="url(#sphG)" stroke="#6d6d6d" stroke-width="0.9"/><circle cx="1621.5" cy="846.6" r="13.2" fill="url(#sphG)" stroke="#6d6d6d" stroke-width="0.9"/><circle cx="1677.5" cy="846.6" r="13.2" fill="url(#sphG)" stroke="#6d6d6d" stroke-width="0.9"/><circle cx="1731.5" cy="846.6" r="13.2" fill="url(#sphG)" stroke="#6d6d6d" stroke-width="0.9"/><circle cx="1786.5" cy="846.6" r="13.2" fill="url(#sphG)" stroke="#6d6d6d" stroke-width="0.9"/><circle cx="1621.5" cy="893.7" r="13.2" fill="url(#sphG)" stroke="#6d6d6d" stroke-width="0.9"/><circle cx="1677.5" cy="893.7" r="13.2" fill="url(#sphG)" stroke="#6d6d6d" stroke-width="0.9"/><circle cx="1731.5" cy="893.7" r="13.2" fill="url(#sphG)" stroke="#6d6d6d" stroke-width="0.9"/><circle cx="1786.5" cy="893.7" r="13.2" fill="url(#sphG)" stroke="#6d6d6d" stroke-width="0.9"/><circle cx="1758.5" cy="821.5" r="14" fill="url(#sphG)" stroke="#6d6d6d" stroke-width="0.9"/><circle cx="1758.5" cy="821.5" r="8.8" fill="url(#sphC)" stroke="#4f9c98" stroke-width="0.9"/></g><rect x="1593.5" y="744.9" width="222.4" height="152.7" fill="none" stroke="#777" stroke-width="4" stroke-dasharray="15.5 14.5"/><line x1="1704.7" y1="821.0" x2="1737.5" y2="821.0" stroke="#000" stroke-width="2.2"/><path d="M1745.5,821.0 L1721.5,809.0 L1730.6,821.0 L1721.5,833.0 Z" fill="#000"/><path d="M1492.4,819.0 L1537.3,819.0 L1537.3,809.8 L1557.8,829.7 L1537.3,849.6 L1537.3,839.4 L1492.4,839.4 Z" fill="#D9D9D9"/>
<path d="M1222.7,1044.9 L1264.2,1052.7 L1305.7,1054.7 L1347.3,1054.1 L1388.8,1050.6 L1430.3,1039.4 L1471.9,1046.9 L1513.4,1047.3 L1554.9,1053.3 L1596.5,1043.3 L1638.0,1043.5 L1679.5,1054.1 L1721.1,1054.5 L1762.6,1051.4 L1804.1,1045.3" fill="none" stroke="#BDBDBD" stroke-width="1.2" stroke-dasharray="10 9"/>
<circle cx="1222.7" cy="1044.9" r="8.3" fill="#fff" stroke="#ABABAB" stroke-width="3"/><ellipse cx="1222.7" cy="1043.9" rx="2.4" ry="1.5" fill="#ABABAB"/>
<circle cx="1264.2" cy="1052.7" r="8.3" fill="#fff" stroke="#ABABAB" stroke-width="3"/><ellipse cx="1264.2" cy="1051.7" rx="2.4" ry="1.5" fill="#ABABAB"/>
<circle cx="1305.7" cy="1054.7" r="8.3" fill="#fff" stroke="#ABABAB" stroke-width="3"/><ellipse cx="1305.7" cy="1053.7" rx="2.4" ry="1.5" fill="#ABABAB"/>
<circle cx="1347.3" cy="1054.1" r="8.3" fill="#fff" stroke="#ABABAB" stroke-width="3"/><ellipse cx="1347.3" cy="1053.1" rx="2.4" ry="1.5" fill="#ABABAB"/>
<circle cx="1388.8" cy="1050.6" r="8.3" fill="#fff" stroke="#ABABAB" stroke-width="3"/><ellipse cx="1388.8" cy="1049.6" rx="2.4" ry="1.5" fill="#ABABAB"/>
<circle cx="1430.3" cy="1039.4" r="8.3" fill="#fff" stroke="#ABABAB" stroke-width="3"/><ellipse cx="1430.3" cy="1038.4" rx="2.4" ry="1.5" fill="#ABABAB"/>
<circle cx="1471.9" cy="1046.9" r="8.3" fill="#fff" stroke="#ABABAB" stroke-width="3"/><ellipse cx="1471.9" cy="1045.9" rx="2.4" ry="1.5" fill="#ABABAB"/>
<circle cx="1513.4" cy="1047.3" r="8.3" fill="#fff" stroke="#ABABAB" stroke-width="3"/><ellipse cx="1513.4" cy="1046.3" rx="2.4" ry="1.5" fill="#ABABAB"/>
<circle cx="1554.9" cy="1053.3" r="8.3" fill="#fff" stroke="#ABABAB" stroke-width="3"/><ellipse cx="1554.9" cy="1052.3" rx="2.4" ry="1.5" fill="#ABABAB"/>
<circle cx="1596.5" cy="1043.3" r="8.3" fill="#fff" stroke="#ABABAB" stroke-width="3"/><ellipse cx="1596.5" cy="1042.3" rx="2.4" ry="1.5" fill="#ABABAB"/>
<circle cx="1638.0" cy="1043.5" r="8.3" fill="#fff" stroke="#ABABAB" stroke-width="3"/><ellipse cx="1638.0" cy="1042.5" rx="2.4" ry="1.5" fill="#ABABAB"/>
<circle cx="1679.5" cy="1054.1" r="8.3" fill="#fff" stroke="#ABABAB" stroke-width="3"/><ellipse cx="1679.5" cy="1053.1" rx="2.4" ry="1.5" fill="#ABABAB"/>
<circle cx="1721.1" cy="1054.5" r="8.3" fill="#fff" stroke="#ABABAB" stroke-width="3"/><ellipse cx="1721.1" cy="1053.5" rx="2.4" ry="1.5" fill="#ABABAB"/>
<circle cx="1762.6" cy="1051.4" r="8.3" fill="#fff" stroke="#ABABAB" stroke-width="3"/><ellipse cx="1762.6" cy="1050.4" rx="2.4" ry="1.5" fill="#ABABAB"/>
<circle cx="1804.1" cy="1045.3" r="8.3" fill="#fff" stroke="#ABABAB" stroke-width="3"/><ellipse cx="1804.1" cy="1044.3" rx="2.4" ry="1.5" fill="#ABABAB"/>
<path d="M1222.7,1014.3 C1229.6,1016.0 1250.4,1021.7 1264.2,1024.5 C1278.0,1027.3 1291.9,1032.0 1305.7,1031.0 C1319.6,1030.0 1333.4,1025.7 1347.3,1018.5 C1361.1,1011.3 1375.0,998.7 1388.8,988.0 C1402.6,977.3 1416.5,962.1 1430.3,954.1 C1444.2,946.1 1458.0,943.4 1471.9,939.8 C1485.7,936.2 1499.6,933.1 1513.4,932.7 C1527.2,932.3 1541.1,933.1 1554.9,937.5 C1568.8,941.9 1582.6,951.9 1596.5,959.2 C1610.3,966.6 1624.2,971.8 1638.0,981.6 C1651.8,991.4 1665.7,1009.9 1679.5,1018.0 C1693.4,1026.2 1707.2,1029.8 1721.1,1030.5 C1734.9,1031.2 1748.8,1025.0 1762.6,1022.5 C1776.4,1020.0 1797.2,1016.5 1804.1,1015.3" fill="none" stroke="#7FC8EA" stroke-width="1.8" stroke-dasharray="7 5"/>
<circle cx="1222.7" cy="1014.3" r="8.8" fill="#fff" stroke="#93D3F0" stroke-width="2.4"/>
<circle cx="1264.2" cy="1024.5" r="8.8" fill="#fff" stroke="#93D3F0" stroke-width="2.4"/>
<circle cx="1305.7" cy="1031.0" r="8.8" fill="#fff" stroke="#93D3F0" stroke-width="2.4"/>
<circle cx="1347.3" cy="1018.5" r="8.8" fill="#fff" stroke="#93D3F0" stroke-width="2.4"/>
<circle cx="1388.8" cy="988.0" r="8.8" fill="#fff" stroke="#93D3F0" stroke-width="2.4"/>
<circle cx="1430.3" cy="954.1" r="8.8" fill="#fff" stroke="#93D3F0" stroke-width="2.4"/>
<circle cx="1471.9" cy="939.8" r="8.8" fill="#fff" stroke="#93D3F0" stroke-width="2.4"/>
<circle cx="1513.4" cy="932.7" r="8.8" fill="#fff" stroke="#93D3F0" stroke-width="2.4"/>
<circle cx="1554.9" cy="937.5" r="8.8" fill="#fff" stroke="#93D3F0" stroke-width="2.4"/>
<circle cx="1596.5" cy="959.2" r="8.8" fill="#fff" stroke="#93D3F0" stroke-width="2.4"/>
<circle cx="1638.0" cy="981.6" r="8.8" fill="#fff" stroke="#93D3F0" stroke-width="2.4"/>
<circle cx="1679.5" cy="1018.0" r="8.8" fill="#fff" stroke="#93D3F0" stroke-width="2.4"/>
<circle cx="1721.1" cy="1030.5" r="8.8" fill="#fff" stroke="#93D3F0" stroke-width="2.4"/>
<circle cx="1762.6" cy="1022.5" r="8.8" fill="#fff" stroke="#93D3F0" stroke-width="2.4"/>
<circle cx="1804.1" cy="1015.3" r="8.8" fill="#fff" stroke="#93D3F0" stroke-width="2.4"/>
<path d="M1222.7,1008.2 C1229.6,1010.8 1250.4,1019.9 1264.2,1023.5 C1278.0,1027.1 1291.9,1030.6 1305.7,1029.6 C1319.6,1028.6 1333.4,1024.4 1347.3,1017.3 C1361.1,1010.1 1375.0,998.8 1388.8,986.7 C1402.6,974.6 1416.5,953.4 1430.3,944.9 C1444.2,936.4 1458.0,938.2 1471.9,935.7 C1485.7,933.2 1499.6,929.5 1513.4,929.6 C1527.2,929.7 1541.1,932.7 1554.9,936.3 C1568.8,939.9 1582.6,944.6 1596.5,951.0 C1610.3,957.4 1624.2,963.5 1638.0,974.5 C1651.8,985.5 1665.7,1007.6 1679.5,1016.7 C1693.4,1025.8 1707.2,1028.2 1721.1,1029.0 C1734.9,1029.8 1748.8,1025.1 1762.6,1021.8 C1776.4,1018.5 1797.2,1011.3 1804.1,1009.2" fill="none" stroke="#7FC8EA" stroke-width="1.8"/>
<circle cx="1222.7" cy="1008.2" r="9.5" fill="url(#sphB)" stroke="#86CBEB" stroke-width="1"/>
<circle cx="1264.2" cy="1023.5" r="9.5" fill="url(#sphB)" stroke="#86CBEB" stroke-width="1"/>
<circle cx="1305.7" cy="1029.6" r="9.5" fill="url(#sphB)" stroke="#86CBEB" stroke-width="1"/>
<circle cx="1347.3" cy="1017.3" r="9.5" fill="url(#sphB)" stroke="#86CBEB" stroke-width="1"/>
<circle cx="1388.8" cy="986.7" r="9.5" fill="url(#sphB)" stroke="#86CBEB" stroke-width="1"/>
<circle cx="1430.3" cy="944.9" r="9.5" fill="url(#sphB)" stroke="#86CBEB" stroke-width="1"/>
<circle cx="1471.9" cy="935.7" r="9.5" fill="url(#sphB)" stroke="#86CBEB" stroke-width="1"/>
<circle cx="1513.4" cy="929.6" r="9.5" fill="url(#sphB)" stroke="#86CBEB" stroke-width="1"/>
<circle cx="1554.9" cy="936.3" r="9.5" fill="url(#sphB)" stroke="#86CBEB" stroke-width="1"/>
<circle cx="1596.5" cy="951.0" r="9.5" fill="url(#sphB)" stroke="#86CBEB" stroke-width="1"/>
<circle cx="1638.0" cy="974.5" r="9.5" fill="url(#sphB)" stroke="#86CBEB" stroke-width="1"/>
<circle cx="1679.5" cy="1016.7" r="9.5" fill="url(#sphB)" stroke="#86CBEB" stroke-width="1"/>
<circle cx="1721.1" cy="1029.0" r="9.5" fill="url(#sphB)" stroke="#86CBEB" stroke-width="1"/>
<circle cx="1762.6" cy="1021.8" r="9.5" fill="url(#sphB)" stroke="#86CBEB" stroke-width="1"/>
<circle cx="1804.1" cy="1009.2" r="9.5" fill="url(#sphB)" stroke="#86CBEB" stroke-width="1"/>
</g>
<line x1="1707.5" y1="670.7" x2="1780.5" y2="670.7" stroke="#7FC8EA" stroke-width="1.8"/>
<circle cx="1744.0" cy="670.7" r="9.5" fill="url(#sphB)" stroke="#86CBEB" stroke-width="1"/>
<line x1="1707.5" y1="710.4" x2="1780.5" y2="710.4" stroke="#7FC8EA" stroke-width="1.8" stroke-dasharray="7 5"/>
<circle cx="1744.0" cy="710.4" r="8.8" fill="#fff" stroke="#93D3F0" stroke-width="2.4"/>
<text x="1807.5" y="681.5" font-size="32" fill="#000">MLP</text>
<text x="1807.5" y="721.2" font-size="32" fill="#000">DFT</text>
<line x1="1139.6" y1="1107.2" x2="1139.6" y2="1117.2" stroke="#000" stroke-width="2"/>
<text x="1139.6" y="1148.7" font-size="31.5" text-anchor="middle">-0.5</text>
<line x1="1181.1" y1="1107.2" x2="1181.1" y2="1112.0" stroke="#000" stroke-width="2"/>
<line x1="1222.7" y1="1107.2" x2="1222.7" y2="1117.2" stroke="#000" stroke-width="2"/>
<text x="1222.7" y="1148.7" font-size="31.5" text-anchor="middle">0.0</text>
<line x1="1264.2" y1="1107.2" x2="1264.2" y2="1112.0" stroke="#000" stroke-width="2"/>
<line x1="1305.7" y1="1107.2" x2="1305.7" y2="1117.2" stroke="#000" stroke-width="2"/>
<text x="1305.7" y="1148.7" font-size="31.5" text-anchor="middle">0.5</text>
<line x1="1347.3" y1="1107.2" x2="1347.3" y2="1112.0" stroke="#000" stroke-width="2"/>
<line x1="1388.8" y1="1107.2" x2="1388.8" y2="1117.2" stroke="#000" stroke-width="2"/>
<text x="1388.8" y="1148.7" font-size="31.5" text-anchor="middle">1.0</text>
<line x1="1430.3" y1="1107.2" x2="1430.3" y2="1112.0" stroke="#000" stroke-width="2"/>
<line x1="1471.9" y1="1107.2" x2="1471.9" y2="1117.2" stroke="#000" stroke-width="2"/>
<text x="1471.9" y="1148.7" font-size="31.5" text-anchor="middle">1.5</text>
<line x1="1513.4" y1="1107.2" x2="1513.4" y2="1112.0" stroke="#000" stroke-width="2"/>
<line x1="1554.9" y1="1107.2" x2="1554.9" y2="1117.2" stroke="#000" stroke-width="2"/>
<text x="1554.9" y="1148.7" font-size="31.5" text-anchor="middle">2.0</text>
<line x1="1596.5" y1="1107.2" x2="1596.5" y2="1112.0" stroke="#000" stroke-width="2"/>
<line x1="1638.0" y1="1107.2" x2="1638.0" y2="1117.2" stroke="#000" stroke-width="2"/>
<text x="1638.0" y="1148.7" font-size="31.5" text-anchor="middle">2.5</text>
<line x1="1679.5" y1="1107.2" x2="1679.5" y2="1112.0" stroke="#000" stroke-width="2"/>
<line x1="1721.1" y1="1107.2" x2="1721.1" y2="1117.2" stroke="#000" stroke-width="2"/>
<text x="1721.1" y="1148.7" font-size="31.5" text-anchor="middle">3.0</text>
<line x1="1762.6" y1="1107.2" x2="1762.6" y2="1112.0" stroke="#000" stroke-width="2"/>
<line x1="1804.1" y1="1107.2" x2="1804.1" y2="1117.2" stroke="#000" stroke-width="2"/>
<text x="1804.1" y="1148.7" font-size="31.5" text-anchor="middle">3.5</text>
<line x1="1845.7" y1="1107.2" x2="1845.7" y2="1112.0" stroke="#000" stroke-width="2"/>
<line x1="1887.2" y1="1107.2" x2="1887.2" y2="1117.2" stroke="#000" stroke-width="2"/>
<text x="1887.2" y="1148.7" font-size="31.5" text-anchor="middle">4.0</text>
<line x1="1130.1" y1="1107.2" x2="1139.6" y2="1107.2" stroke="#86C5EB" stroke-width="2"/>
<text x="1123.1" y="1116.7" font-size="31.5" text-anchor="end" fill="#86C5EB">-6.70</text>
<line x1="1135.1" y1="1068.3" x2="1139.6" y2="1068.3" stroke="#86C5EB" stroke-width="2"/>
<line x1="1130.1" y1="1029.4" x2="1139.6" y2="1029.4" stroke="#86C5EB" stroke-width="2"/>
<text x="1123.1" y="1038.9" font-size="31.5" text-anchor="end" fill="#86C5EB">-6.65</text>
<line x1="1135.1" y1="990.4" x2="1139.6" y2="990.4" stroke="#86C5EB" stroke-width="2"/>
<line x1="1130.1" y1="951.5" x2="1139.6" y2="951.5" stroke="#86C5EB" stroke-width="2"/>
<text x="1123.1" y="961.0" font-size="31.5" text-anchor="end" fill="#86C5EB">-6.60</text>
<line x1="1135.1" y1="912.6" x2="1139.6" y2="912.6" stroke="#86C5EB" stroke-width="2"/>
<line x1="1130.1" y1="873.7" x2="1139.6" y2="873.7" stroke="#86C5EB" stroke-width="2"/>
<text x="1123.1" y="883.2" font-size="31.5" text-anchor="end" fill="#86C5EB">-6.55</text>
<line x1="1135.1" y1="834.8" x2="1139.6" y2="834.8" stroke="#86C5EB" stroke-width="2"/>
<line x1="1130.1" y1="795.9" x2="1139.6" y2="795.9" stroke="#86C5EB" stroke-width="2"/>
<text x="1123.1" y="805.4" font-size="31.5" text-anchor="end" fill="#86C5EB">-6.50</text>
<line x1="1135.1" y1="757.0" x2="1139.6" y2="757.0" stroke="#86C5EB" stroke-width="2"/>
<line x1="1130.1" y1="718.0" x2="1139.6" y2="718.0" stroke="#86C5EB" stroke-width="2"/>
<text x="1123.1" y="727.5" font-size="31.5" text-anchor="end" fill="#86C5EB">-6.45</text>
<line x1="1135.1" y1="679.1" x2="1139.6" y2="679.1" stroke="#86C5EB" stroke-width="2"/>
<line x1="1130.1" y1="640.2" x2="1139.6" y2="640.2" stroke="#86C5EB" stroke-width="2"/>
<text x="1123.1" y="649.7" font-size="31.5" text-anchor="end" fill="#86C5EB">-6.40</text>
<line x1="1887.2" y1="1107.2" x2="1891.4" y2="1107.2" stroke="#777" stroke-width="1.6"/>
<line x1="1887.2" y1="1055.3" x2="1896.2" y2="1055.3" stroke="#777" stroke-width="1.6"/>
<text x="1902.2" y="1065.8" font-size="31.5" fill="#6E6E6E">0</text>
<line x1="1887.2" y1="1003.4" x2="1891.4" y2="1003.4" stroke="#777" stroke-width="1.6"/>
<line x1="1887.2" y1="951.5" x2="1896.2" y2="951.5" stroke="#777" stroke-width="1.6"/>
<text x="1902.2" y="962.0" font-size="31.5" fill="#6E6E6E">20</text>
<line x1="1887.2" y1="899.6" x2="1891.4" y2="899.6" stroke="#777" stroke-width="1.6"/>
<line x1="1887.2" y1="847.8" x2="1896.2" y2="847.8" stroke="#777" stroke-width="1.6"/>
<text x="1902.2" y="858.3" font-size="31.5" fill="#6E6E6E">40</text>
<line x1="1887.2" y1="795.9" x2="1891.4" y2="795.9" stroke="#777" stroke-width="1.6"/>
<line x1="1887.2" y1="744.0" x2="1896.2" y2="744.0" stroke="#777" stroke-width="1.6"/>
<text x="1902.2" y="754.5" font-size="31.5" fill="#6E6E6E">60</text>
<line x1="1887.2" y1="692.1" x2="1891.4" y2="692.1" stroke="#777" stroke-width="1.6"/>
<line x1="1887.2" y1="640.2" x2="1896.2" y2="640.2" stroke="#777" stroke-width="1.6"/>
<text x="1902.2" y="650.7" font-size="31.5" fill="#6E6E6E">80</text>
<line x1="1139.6" y1="640.2" x2="1888.5" y2="640.2" stroke="#000" stroke-width="2.6"/>
<line x1="1139.6" y1="1107.2" x2="1888.5" y2="1107.2" stroke="#000" stroke-width="2.6"/>
<line x1="1887.2" y1="640.2" x2="1887.2" y2="1107.2" stroke="#111" stroke-width="2.2"/>
<line x1="1139.6" y1="638.9" x2="1139.6" y2="1108.5" stroke="#86C5EB" stroke-width="2.6"/>
<text transform="translate(1036.6,873.7) rotate(-90)" font-size="34" text-anchor="middle" fill="#86C5EB">Energy (eV/atom)</text>
<text transform="translate(1976.2,873.7) rotate(-90)" font-size="34" text-anchor="middle" fill="#6E6E6E">Energy error (meV/atom)</text>
<text x="1513.4" y="1190.2" font-size="34" text-anchor="middle">Distance(Å)</text>
<text x="1000.7" y="614.8" font-size="45" font-weight="bold">(d)</text>
<g clip-path="url(#clipe)">
<g clip-path="url(#ib7)"><line x1="408.2" y1="1399.4" x2="605.8" y2="1399.4" stroke="#8a8a8a" stroke-width="13.0"/><line x1="408.2" y1="1399.4" x2="605.8" y2="1399.4" stroke="#c2c2c2" stroke-width="10.4"/><circle cx="412.5" cy="1399.4" r="11.0" fill="url(#sphG)" stroke="#6d6d6d" stroke-width="0.9"/><circle cx="478.6" cy="1399.4" r="11.0" fill="url(#sphG)" stroke="#6d6d6d" stroke-width="0.9"/><circle cx="545.9" cy="1399.4" r="11.0" fill="url(#sphG)" stroke="#6d6d6d" stroke-width="0.9"/><circle cx="421.2" cy="1399.4" r="15.6" fill="url(#sphG)" stroke="#6d6d6d" stroke-width="0.9"/><circle cx="464.4" cy="1399.4" r="15.6" fill="url(#sphG)" stroke="#6d6d6d" stroke-width="0.9"/><circle cx="488.5" cy="1399.4" r="15.6" fill="url(#sphG)" stroke="#6d6d6d" stroke-width="0.9"/><circle cx="533.4" cy="1399.4" r="15.6" fill="url(#sphG)" stroke="#6d6d6d" stroke-width="0.9"/><circle cx="558.4" cy="1399.4" r="15.6" fill="url(#sphG)" stroke="#6d6d6d" stroke-width="0.9"/><circle cx="599.6" cy="1399.4" r="15.6" fill="url(#sphG)" stroke="#6d6d6d" stroke-width="0.9"/><line x1="408.2" y1="1399.4" x2="605.8" y2="1399.4" stroke="#777" stroke-width="3" stroke-dasharray="10 8"/><line x1="408.2" y1="1484.2" x2="605.8" y2="1484.2" stroke="#8a8a8a" stroke-width="13.0"/><line x1="408.2" y1="1484.2" x2="605.8" y2="1484.2" stroke="#c2c2c2" stroke-width="10.4"/><circle cx="428.7" cy="1484.2" r="11.0" fill="url(#sphG)" stroke="#6d6d6d" stroke-width="0.9"/><circle cx="498.5" cy="1484.2" r="11.0" fill="url(#sphG)" stroke="#6d6d6d" stroke-width="0.9"/><circle cx="569.6" cy="1484.2" r="11.0" fill="url(#sphG)" stroke="#6d6d6d" stroke-width="0.9"/><circle cx="420.0" cy="1484.2" r="15.6" fill="url(#sphG)" stroke="#6d6d6d" stroke-width="0.9"/><circle cx="443.7" cy="1484.2" r="15.6" fill="url(#sphG)" stroke="#6d6d6d" stroke-width="0.9"/><circle cx="488.5" cy="1484.2" r="15.6" fill="url(#sphG)" stroke="#6d6d6d" stroke-width="0.9"/><circle cx="512.2" cy="1484.2" r="15.6" fill="url(#sphG)" stroke="#6d6d6d" stroke-width="0.9"/><circle cx="555.9" cy="1484.2" r="15.6" fill="url(#sphG)" stroke="#6d6d6d" stroke-width="0.9"/><circle cx="580.8" cy="1484.2" r="15.6" fill="url(#sphG)" stroke="#6d6d6d" stroke-width="0.9"/><line x1="408.2" y1="1484.2" x2="605.8" y2="1484.2" stroke="#777" stroke-width="3" stroke-dasharray="10 8"/></g><rect x="408.2" y="1356.2" width="197.6" height="162.9" fill="none" stroke="#777" stroke-width="4" stroke-dasharray="15.5 14.5"/><line x1="501.0" y1="1406.0" x2="501.0" y2="1478.0" stroke="#000" stroke-width="2.2"/><path d="M501.0,1401.0 L513.5,1424.0 L501.0,1414.8 L488.5,1424.0 Z" fill="#000"/><path d="M501.0,1483.0 L513.5,1460.0 L501.0,1469.2 L488.5,1460.0 Z" fill="#000"/><text x="537.0" y="1460.2" font-size="32" fill="#000">D</text><g clip-path="url(#ib8)"><line x1="584.2" y1="1366.3" x2="627.5" y2="1366.3" stroke="#8a8a8a" stroke-width="12.0"/><line x1="584.2" y1="1366.3" x2="627.5" y2="1366.3" stroke="#c2c2c2" stroke-width="9.4"/><line x1="670.8" y1="1366.3" x2="714.1" y2="1366.3" stroke="#8a8a8a" stroke-width="12.0"/><line x1="670.8" y1="1366.3" x2="714.1" y2="1366.3" stroke="#c2c2c2" stroke-width="9.4"/><line x1="714.1" y1="1366.3" x2="757.4" y2="1366.3" stroke="#8a8a8a" stroke-width="12.0"/><line x1="714.1" y1="1366.3" x2="757.4" y2="1366.3" stroke="#c2c2c2" stroke-width="9.4"/><line x1="800.7" y1="1366.3" x2="844.0" y2="1366.3" stroke="#8a8a8a" stroke-width="12.0"/><line x1="800.7" y1="1366.3" x2="844.0" y2="1366.3" stroke="#c2c2c2" stroke-width="9.4"/><line x1="844.0" y1="1366.3" x2="887.3" y2="1366.3" stroke="#8a8a8a" stroke-width="12.0"/><line x1="844.0" y1="1366.3" x2="887.3" y2="1366.3" stroke="#c2c2c2" stroke-width="9.4"/><line x1="605.9" y1="1400.9" x2="649.1" y2="1400.9" stroke="#8a8a8a" stroke-width="12.0"/><line x1="605.9" y1="1400.9" x2="649.1" y2="1400.9" stroke="#c2c2c2" stroke-width="9.4"/><line x1="649.1" y1="1400.9" x2="692.4" y2="1400.9" stroke="#8a8a8a" stroke-width="12.0"/><line x1="649.1" y1="1400.9" x2="692.4" y2="1400.9" stroke="#c2c2c2" stroke-width="9.4"/><line x1="735.8" y1="1400.9" x2="779.0" y2="1400.9" stroke="#8a8a8a" stroke-width="12.0"/><line x1="735.8" y1="1400.9" x2="779.0" y2="1400.9" stroke="#c2c2c2" stroke-width="9.4"/><line x1="779.0" y1="1400.9" x2="822.4" y2="1400.9" stroke="#8a8a8a" stroke-width="12.0"/><line x1="779.0" y1="1400.9" x2="822.4" y2="1400.9" stroke="#c2c2c2" stroke-width="9.4"/><line x1="865.6" y1="1400.9" x2="908.9" y2="1400.9" stroke="#8a8a8a" stroke-width="12.0"/><line x1="865.6" y1="1400.9" x2="908.9" y2="1400.9" stroke="#c2c2c2" stroke-width="9.4"/><line x1="584.2" y1="1440.0" x2="627.5" y2="1440.0" stroke="#8a8a8a" stroke-width="12.0"/><line x1="584.2" y1="1440.0" x2="627.5" y2="1440.0" stroke="#c2c2c2" stroke-width="9.4"/><line x1="670.8" y1="1440.0" x2="714.1" y2="1440.0" stroke="#8a8a8a" stroke-width="12.0"/><line x1="670.8" y1="1440.0" x2="714.1" y2="1440.0" stroke="#c2c2c2" stroke-width="9.4"/><line x1="714.1" y1="1440.0" x2="757.4" y2="1440.0" stroke="#8a8a8a" stroke-width="12.0"/><line x1="714.1" y1="1440.0" x2="757.4" y2="1440.0" stroke="#c2c2c2" stroke-width="9.4"/><line x1="800.7" y1="1440.0" x2="844.0" y2="1440.0" stroke="#8a8a8a" stroke-width="12.0"/><line x1="800.7" y1="1440.0" x2="844.0" y2="1440.0" stroke="#c2c2c2" stroke-width="9.4"/><line x1="844.0" y1="1440.0" x2="887.3" y2="1440.0" stroke="#8a8a8a" stroke-width="12.0"/><line x1="844.0" y1="1440.0" x2="887.3" y2="1440.0" stroke="#c2c2c2" stroke-width="9.4"/><line x1="605.9" y1="1479.2" x2="649.1" y2="1479.2" stroke="#8a8a8a" stroke-width="12.0"/><line x1="605.9" y1="1479.2" x2="649.1" y2="1479.2" stroke="#c2c2c2" stroke-width="9.4"/><line x1="649.1" y1="1479.2" x2="692.4" y2="1479.2" stroke="#8a8a8a" stroke-width="12.0"/><line x1="649.1" y1="1479.2" x2="692.4" y2="1479.2" stroke="#c2c2c2" stroke-width="9.4"/><line x1="735.8" y1="1479.2" x2="779.0" y2="1479.2" stroke="#8a8a8a" stroke-width="12.0"/><line x1="735.8" y1="1479.2" x2="779.0" y2="1479.2" stroke="#c2c2c2" stroke-width="9.4"/><line x1="779.0" y1="1479.2" x2="822.4" y2="1479.2" stroke="#8a8a8a" stroke-width="12.0"/><line x1="779.0" y1="1479.2" x2="822.4" y2="1479.2" stroke="#c2c2c2" stroke-width="9.4"/><line x1="865.6" y1="1479.2" x2="908.9" y2="1479.2" stroke="#8a8a8a" stroke-width="12.0"/><line x1="865.6" y1="1479.2" x2="908.9" y2="1479.2" stroke="#c2c2c2" stroke-width="9.4"/><line x1="584.2" y1="1512.6" x2="627.5" y2="1512.6" stroke="#8a8a8a" stroke-width="12.0"/><line x1="584.2" y1="1512.6" x2="627.5" y2="1512.6" stroke="#c2c2c2" stroke-width="9.4"/><line x1="670.8" y1="1512.6" x2="714.1" y2="1512.6" stroke="#8a8a8a" stroke-width="12.0"/><line x1="670.8" y1="1512.6" x2="714.1" y2="1512.6" stroke="#c2c2c2" stroke-width="9.4"/><line x1="714.1" y1="1512.6" x2="757.4" y2="1512.6" stroke="#8a8a8a" stroke-width="12.0"/><line x1="714.1" y1="1512.6" x2="757.4" y2="1512.6" stroke="#c2c2c2" stroke-width="9.4"/><line x1="800.7" y1="1512.6" x2="844.0" y2="1512.6" stroke="#8a8a8a" stroke-width="12.0"/><line x1="800.7" y1="1512.6" x2="844.0" y2="1512.6" stroke="#c2c2c2" stroke-width="9.4"/><line x1="844.0" y1="1512.6" x2="887.3" y2="1512.6" stroke="#8a8a8a" stroke-width="12.0"/><line x1="844.0" y1="1512.6" x2="887.3" y2="1512.6" stroke="#c2c2c2" stroke-width="9.4"/><line x1="584.2" y1="1366.3" x2="605.9" y2="1400.9" stroke="#8a8a8a" stroke-width="12.0"/><line x1="584.2" y1="1366.3" x2="605.9" y2="1400.9" stroke="#c2c2c2" stroke-width="9.4"/><line x1="627.5" y1="1366.3" x2="649.1" y2="1400.9" stroke="#8a8a8a" stroke-width="12.0"/><line x1="627.5" y1="1366.3" x2="649.1" y2="1400.9" stroke="#c2c2c2" stroke-width="9.4"/><line x1="670.8" y1="1366.3" x2="649.1" y2="1400.9" stroke="#8a8a8a" stroke-width="12.0"/><line x1="670.8" y1="1366.3" x2="649.1" y2="1400.9" stroke="#c2c2c2" stroke-width="9.4"/><line x1="714.1" y1="1366.3" x2="735.8" y2="1400.9" stroke="#8a8a8a" stroke-width="12.0"/><line x1="714.1" y1="1366.3" x2="735.8" y2="1400.9" stroke="#c2c2c2" stroke-width="9.4"/><line x1="714.1" y1="1366.3" x2="692.4" y2="1400.9" stroke="#8a8a8a" stroke-width="12.0"/><line x1="714.1" y1="1366.3" x2="692.4" y2="1400.9" stroke="#c2c2c2" stroke-width="9.4"/><line x1="757.4" y1="1366.3" x2="779.0" y2="1400.9" stroke="#8a8a8a" stroke-width="12.0"/><line x1="757.4" y1="1366.3" x2="779.0" y2="1400.9" stroke="#c2c2c2" stroke-width="9.4"/><line x1="800.7" y1="1366.3" x2="779.0" y2="1400.9" stroke="#8a8a8a" stroke-width="12.0"/><line x1="800.7" y1="1366.3" x2="779.0" y2="1400.9" stroke="#c2c2c2" stroke-width="9.4"/><line x1="844.0" y1="1366.3" x2="865.6" y2="1400.9" stroke="#8a8a8a" stroke-width="12.0"/><line x1="844.0" y1="1366.3" x2="865.6" y2="1400.9" stroke="#c2c2c2" stroke-width="9.4"/><line x1="844.0" y1="1366.3" x2="822.4" y2="1400.9" stroke="#8a8a8a" stroke-width="12.0"/><line x1="844.0" y1="1366.3" x2="822.4" y2="1400.9" stroke="#c2c2c2" stroke-width="9.4"/><line x1="887.3" y1="1366.3" x2="908.9" y2="1400.9" stroke="#8a8a8a" stroke-width="12.0"/><line x1="887.3" y1="1366.3" x2="908.9" y2="1400.9" stroke="#c2c2c2" stroke-width="9.4"/><line x1="584.2" y1="1440.0" x2="605.9" y2="1400.9" stroke="#8a8a8a" stroke-width="12.0"/><line x1="584.2" y1="1440.0" x2="605.9" y2="1400.9" stroke="#c2c2c2" stroke-width="9.4"/><line x1="627.5" y1="1440.0" x2="649.1" y2="1400.9" stroke="#8a8a8a" stroke-width="12.0"/><line x1="627.5" y1="1440.0" x2="649.1" y2="1400.9" stroke="#c2c2c2" stroke-width="9.4"/><line x1="670.8" y1="1440.0" x2="649.1" y2="1400.9" stroke="#8a8a8a" stroke-width="12.0"/><line x1="670.8" y1="1440.0" x2="649.1" y2="1400.9" stroke="#c2c2c2" stroke-width="9.4"/><line x1="714.1" y1="1440.0" x2="735.8" y2="1400.9" stroke="#8a8a8a" stroke-width="12.0"/><line x1="714.1" y1="1440.0" x2="735.8" y2="1400.9" stroke="#c2c2c2" stroke-width="9.4"/><line x1="714.1" y1="1440.0" x2="692.4" y2="1400.9" stroke="#8a8a8a" stroke-width="12.0"/><line x1="714.1" y1="1440.0" x2="692.4" y2="1400.9" stroke="#c2c2c2" stroke-width="9.4"/><line x1="757.4" y1="1440.0" x2="779.0" y2="1400.9" stroke="#8a8a8a" stroke-width="12.0"/><line x1="757.4" y1="1440.0" x2="779.0" y2="1400.9" stroke="#c2c2c2" stroke-width="9.4"/><line x1="800.7" y1="1440.0" x2="779.0" y2="1400.9" stroke="#8a8a8a" stroke-width="12.0"/><line x1="800.7" y1="1440.0" x2="779.0" y2="1400.9" stroke="#c2c2c2" stroke-width="9.4"/><line x1="844.0" y1="1440.0" x2="865.6" y2="1400.9" stroke="#8a8a8a" stroke-width="12.0"/><line x1="844.0" y1="1440.0" x2="865.6" y2="1400.9" stroke="#c2c2c2" stroke-width="9.4"/><line x1="844.0" y1="1440.0" x2="822.4" y2="1400.9" stroke="#8a8a8a" stroke-width="12.0"/><line x1="844.0" y1="1440.0" x2="822.4" y2="1400.9" stroke="#c2c2c2" stroke-width="9.4"/><line x1="887.3" y1="1440.0" x2="908.9" y2="1400.9" stroke="#8a8a8a" stroke-width="12.0"/><line x1="887.3" y1="1440.0" x2="908.9" y2="1400.9" stroke="#c2c2c2" stroke-width="9.4"/><line x1="584.2" y1="1440.0" x2="605.9" y2="1479.2" stroke="#8a8a8a" stroke-width="12.0"/><line x1="584.2" y1="1440.0" x2="605.9" y2="1479.2" stroke="#c2c2c2" stroke-width="9.4"/><line x1="627.5" y1="1440.0" x2="649.1" y2="1479.2" stroke="#8a8a8a" stroke-width="12.0"/><line x1="627.5" y1="1440.0" x2="649.1" y2="1479.2" stroke="#c2c2c2" stroke-width="9.4"/><line x1="670.8" y1="1440.0" x2="649.1" y2="1479.2" stroke="#8a8a8a" stroke-width="12.0"/><line x1="670.8" y1="1440.0" x2="649.1" y2="1479.2" stroke="#c2c2c2" stroke-width="9.4"/><line x1="714.1" y1="1440.0" x2="735.8" y2="1479.2" stroke="#8a8a8a" stroke-width="12.0"/><line x1="714.1" y1="1440.0" x2="735.8" y2="1479.2" stroke="#c2c2c2" stroke-width="9.4"/><line x1="714.1" y1="1440.0" x2="692.4" y2="1479.2" stroke="#8a8a8a" stroke-width="12.0"/><line x1="714.1" y1="1440.0" x2="692.4" y2="1479.2" stroke="#c2c2c2" stroke-width="9.4"/><line x1="757.4" y1="1440.0" x2="779.0" y2="1479.2" stroke="#8a8a8a" stroke-width="12.0"/><line x1="757.4" y1="1440.0" x2="779.0" y2="1479.2" stroke="#c2c2c2" stroke-width="9.4"/><line x1="800.7" y1="1440.0" x2="779.0" y2="1479.2" stroke="#8a8a8a" stroke-width="12.0"/><line x1="800.7" y1="1440.0" x2="779.0" y2="1479.2" stroke="#c2c2c2" stroke-width="9.4"/><line x1="844.0" y1="1440.0" x2="865.6" y2="1479.2" stroke="#8a8a8a" stroke-width="12.0"/><line x1="844.0" y1="1440.0" x2="865.6" y2="1479.2" stroke="#c2c2c2" stroke-width="9.4"/><line x1="844.0" y1="1440.0" x2="822.4" y2="1479.2" stroke="#8a8a8a" stroke-width="12.0"/><line x1="844.0" y1="1440.0" x2="822.4" y2="1479.2" stroke="#c2c2c2" stroke-width="9.4"/><line x1="887.3" y1="1440.0" x2="908.9" y2="1479.2" stroke="#8a8a8a" stroke-width="12.0"/><line x1="887.3" y1="1440.0" x2="908.9" y2="1479.2" stroke="#c2c2c2" stroke-width="9.4"/><line x1="584.2" y1="1512.6" x2="605.9" y2="1479.2" stroke="#8a8a8a" stroke-width="12.0"/><line x1="584.2" y1="1512.6" x2="605.9" y2="1479.2" stroke="#c2c2c2" stroke-width="9.4"/><line x1="627.5" y1="1512.6" x2="649.1" y2="1479.2" stroke="#8a8a8a" stroke-width="12.0"/><line x1="627.5" y1="1512.6" x2="649.1" y2="1479.2" stroke="#c2c2c2" stroke-width="9.4"/><line x1="670.8" y1="1512.6" x2="649.1" y2="1479.2" stroke="#8a8a8a" stroke-width="12.0"/><line x1="670.8" y1="1512.6" x2="649.1" y2="1479.2" stroke="#c2c2c2" stroke-width="9.4"/><line x1="714.1" y1="1512.6" x2="735.8" y2="1479.2" stroke="#8a8a8a" stroke-width="12.0"/><line x1="714.1" y1="1512.6" x2="735.8" y2="1479.2" stroke="#c2c2c2" stroke-width="9.4"/><line x1="714.1" y1="1512.6" x2="692.4" y2="1479.2" stroke="#8a8a8a" stroke-width="12.0"/><line x1="714.1" y1="1512.6" x2="692.4" y2="1479.2" stroke="#c2c2c2" stroke-width="9.4"/><line x1="757.4" y1="1512.6" x2="779.0" y2="1479.2" stroke="#8a8a8a" stroke-width="12.0"/><line x1="757.4" y1="1512.6" x2="779.0" y2="1479.2" stroke="#c2c2c2" stroke-width="9.4"/><line x1="800.7" y1="1512.6" x2="779.0" y2="1479.2" stroke="#8a8a8a" stroke-width="12.0"/><line x1="800.7" y1="1512.6" x2="779.0" y2="1479.2" stroke="#c2c2c2" stroke-width="9.4"/><line x1="844.0" y1="1512.6" x2="865.6" y2="1479.2" stroke="#8a8a8a" stroke-width="12.0"/><line x1="844.0" y1="1512.6" x2="865.6" y2="1479.2" stroke="#c2c2c2" stroke-width="9.4"/><line x1="844.0" y1="1512.6" x2="822.4" y2="1479.2" stroke="#8a8a8a" stroke-width="12.0"/><line x1="844.0" y1="1512.6" x2="822.4" y2="1479.2" stroke="#c2c2c2" stroke-width="9.4"/><line x1="887.3" y1="1512.6" x2="908.9" y2="1479.2" stroke="#8a8a8a" stroke-width="12.0"/><line x1="887.3" y1="1512.6" x2="908.9" y2="1479.2" stroke="#c2c2c2" stroke-width="9.4"/><circle cx="584.2" cy="1366.3" r="13.6" fill="url(#sphG)" stroke="#6d6d6d" stroke-width="0.9"/><circle cx="627.5" cy="1366.3" r="13.6" fill="url(#sphG)" stroke="#6d6d6d" stroke-width="0.9"/><circle cx="670.8" cy="1366.3" r="13.6" fill="url(#sphG)" stroke="#6d6d6d" stroke-width="0.9"/><circle cx="714.1" cy="1366.3" r="13.6" fill="url(#sphG)" stroke="#6d6d6d" stroke-width="0.9"/><circle cx="757.4" cy="1366.3" r="13.6" fill="url(#sphG)" stroke="#6d6d6d" stroke-width="0.9"/><circle cx="800.7" cy="1366.3" r="13.6" fill="url(#sphG)" stroke="#6d6d6d" stroke-width="0.9"/><circle cx="844.0" cy="1366.3" r="13.6" fill="url(#sphG)" stroke="#6d6d6d" stroke-width="0.9"/><circle cx="887.3" cy="1366.3" r="13.6" fill="url(#sphG)" stroke="#6d6d6d" stroke-width="0.9"/><circle cx="584.2" cy="1440.0" r="13.6" fill="url(#sphG)" stroke="#6d6d6d" stroke-width="0.9"/><circle cx="627.5" cy="1440.0" r="13.6" fill="url(#sphG)" stroke="#6d6d6d" stroke-width="0.9"/><circle cx="670.8" cy="1440.0" r="13.6" fill="url(#sphG)" stroke="#6d6d6d" stroke-width="0.9"/><circle cx="714.1" cy="1440.0" r="13.6" fill="url(#sphG)" stroke="#6d6d6d" stroke-width="0.9"/><circle cx="757.4" cy="1440.0" r="13.6" fill="url(#sphG)" stroke="#6d6d6d" stroke-width="0.9"/><circle cx="800.7" cy="1440.0" r="13.6" fill="url(#sphG)" stroke="#6d6d6d" stroke-width="0.9"/><circle cx="844.0" cy="1440.0" r="13.6" fill="url(#sphG)" stroke="#6d6d6d" stroke-width="0.9"/><circle cx="887.3" cy="1440.0" r="13.6" fill="url(#sphG)" stroke="#6d6d6d" stroke-width="0.9"/><circle cx="584.2" cy="1512.6" r="13.6" fill="url(#sphG)" stroke="#6d6d6d" stroke-width="0.9"/><circle cx="627.5" cy="1512.6" r="13.6" fill="url(#sphG)" stroke="#6d6d6d" stroke-width="0.9"/><circle cx="670.8" cy="1512.6" r="13.6" fill="url(#sphG)" stroke="#6d6d6d" stroke-width="0.9"/><circle cx="714.1" cy="1512.6" r="13.6" fill="url(#sphG)" stroke="#6d6d6d" stroke-width="0.9"/><circle cx="757.4" cy="1512.6" r="13.6" fill="url(#sphG)" stroke="#6d6d6d" stroke-width="0.9"/><circle cx="800.7" cy="1512.6" r="13.6" fill="url(#sphG)" stroke="#6d6d6d" stroke-width="0.9"/><circle cx="844.0" cy="1512.6" r="13.6" fill="url(#sphG)" stroke="#6d6d6d" stroke-width="0.9"/><circle cx="887.3" cy="1512.6" r="13.6" fill="url(#sphG)" stroke="#6d6d6d" stroke-width="0.9"/><circle cx="605.9" cy="1400.9" r="13.6" fill="url(#sphG)" stroke="#6d6d6d" stroke-width="0.9"/><circle cx="649.1" cy="1400.9" r="13.6" fill="url(#sphG)" stroke="#6d6d6d" stroke-width="0.9"/><circle cx="692.4" cy="1400.9" r="13.6" fill="url(#sphG)" stroke="#6d6d6d" stroke-width="0.9"/><circle cx="735.8" cy="1400.9" r="13.6" fill="url(#sphG)" stroke="#6d6d6d" stroke-width="0.9"/><circle cx="779.0" cy="1400.9" r="13.6" fill="url(#sphG)" stroke="#6d6d6d" stroke-width="0.9"/><circle cx="822.4" cy="1400.9" r="13.6" fill="url(#sphG)" stroke="#6d6d6d" stroke-width="0.9"/><circle cx="865.6" cy="1400.9" r="13.6" fill="url(#sphG)" stroke="#6d6d6d" stroke-width="0.9"/><circle cx="908.9" cy="1400.9" r="13.6" fill="url(#sphG)" stroke="#6d6d6d" stroke-width="0.9"/><circle cx="605.9" cy="1479.2" r="13.6" fill="url(#sphG)" stroke="#6d6d6d" stroke-width="0.9"/><circle cx="649.1" cy="1479.2" r="13.6" fill="url(#sphG)" stroke="#6d6d6d" stroke-width="0.9"/><circle cx="692.4" cy="1479.2" r="13.6" fill="url(#sphG)" stroke="#6d6d6d" stroke-width="0.9"/><circle cx="735.8" cy="1479.2" r="13.6" fill="url(#sphG)" stroke="#6d6d6d" stroke-width="0.9"/><circle cx="779.0" cy="1479.2" r="13.6" fill="url(#sphG)" stroke="#6d6d6d" stroke-width="0.9"/><circle cx="822.4" cy="1479.2" r="13.6" fill="url(#sphG)" stroke="#6d6d6d" stroke-width="0.9"/><circle cx="865.6" cy="1479.2" r="13.6" fill="url(#sphG)" stroke="#6d6d6d" stroke-width="0.9"/><circle cx="908.9" cy="1479.2" r="13.6" fill="url(#sphG)" stroke="#6d6d6d" stroke-width="0.9"/></g><rect x="627.5" y="1358.0" width="196.5" height="163.6" fill="none" stroke="#777" stroke-width="4" stroke-dasharray="15.5 14.5"/>
<path d="M220.1,1605.1 L302.9,1627.6 L385.8,1618.6 L468.6,1610.6 L551.4,1599.0 L634.2,1608.0 L717.1,1614.2 L799.9,1614.2" fill="none" stroke="#BDBDBD" stroke-width="1.2"/>
<circle cx="220.1" cy="1605.1" r="8.3" fill="#fff" stroke="#ABABAB" stroke-width="3"/><ellipse cx="220.1" cy="1604.1" rx="2.4" ry="1.5" fill="#ABABAB"/>
<circle cx="302.9" cy="1627.6" r="8.3" fill="#fff" stroke="#ABABAB" stroke-width="3"/><ellipse cx="302.9" cy="1626.6" rx="2.4" ry="1.5" fill="#ABABAB"/>
<circle cx="385.8" cy="1618.6" r="8.3" fill="#fff" stroke="#ABABAB" stroke-width="3"/><ellipse cx="385.8" cy="1617.6" rx="2.4" ry="1.5" fill="#ABABAB"/>
<circle cx="468.6" cy="1610.6" r="8.3" fill="#fff" stroke="#ABABAB" stroke-width="3"/><ellipse cx="468.6" cy="1609.6" rx="2.4" ry="1.5" fill="#ABABAB"/>
<circle cx="551.4" cy="1599.0" r="8.3" fill="#fff" stroke="#ABABAB" stroke-width="3"/><ellipse cx="551.4" cy="1598.0" rx="2.4" ry="1.5" fill="#ABABAB"/>
<circle cx="634.2" cy="1608.0" r="8.3" fill="#fff" stroke="#ABABAB" stroke-width="3"/><ellipse cx="634.2" cy="1607.0" rx="2.4" ry="1.5" fill="#ABABAB"/>
<circle cx="717.1" cy="1614.2" r="8.3" fill="#fff" stroke="#ABABAB" stroke-width="3"/><ellipse cx="717.1" cy="1613.2" rx="2.4" ry="1.5" fill="#ABABAB"/>
<circle cx="799.9" cy="1614.2" r="8.3" fill="#fff" stroke="#ABABAB" stroke-width="3"/><ellipse cx="799.9" cy="1613.2" rx="2.4" ry="1.5" fill="#ABABAB"/>
<path d="M220.1,1336.5 C233.9,1360.4 275.3,1442.8 302.9,1480.0 C330.6,1517.2 358.2,1539.2 385.8,1559.8 C413.4,1580.3 441.0,1592.7 468.6,1603.3 C496.2,1613.9 523.8,1618.8 551.4,1623.3 C579.0,1627.8 606.6,1629.0 634.2,1630.5 C661.8,1632.0 689.4,1632.1 717.1,1632.4 C744.7,1632.7 786.1,1632.4 799.9,1632.4" fill="none" stroke="#D9646F" stroke-width="1.8" stroke-dasharray="7 5"/>
<circle cx="220.1" cy="1336.5" r="8.8" fill="#fff" stroke="#E27A86" stroke-width="2.4"/>
<circle cx="302.9" cy="1480.0" r="8.8" fill="#fff" stroke="#E27A86" stroke-width="2.4"/>
<circle cx="385.8" cy="1559.8" r="8.8" fill="#fff" stroke="#E27A86" stroke-width="2.4"/>
<circle cx="468.6" cy="1603.3" r="8.8" fill="#fff" stroke="#E27A86" stroke-width="2.4"/>
<circle cx="551.4" cy="1623.3" r="8.8" fill="#fff" stroke="#E27A86" stroke-width="2.4"/>
<circle cx="634.2" cy="1630.5" r="8.8" fill="#fff" stroke="#E27A86" stroke-width="2.4"/>
<circle cx="717.1" cy="1632.4" r="8.8" fill="#fff" stroke="#E27A86" stroke-width="2.4"/>
<circle cx="799.9" cy="1632.4" r="8.8" fill="#fff" stroke="#E27A86" stroke-width="2.4"/>
<path d="M220.1,1331.4 C233.9,1355.9 275.3,1440.8 302.9,1478.3 C330.6,1515.8 358.2,1536.6 385.8,1556.2 C413.4,1575.8 441.0,1586.4 468.6,1596.1 C496.2,1605.8 523.8,1609.2 551.4,1614.2 C579.0,1619.2 606.6,1623.8 634.2,1626.2 C661.8,1628.6 689.4,1628.5 717.1,1628.7 C744.7,1628.9 786.1,1627.8 799.9,1627.6" fill="none" stroke="#D9646F" stroke-width="1.8"/>
<circle cx="220.1" cy="1331.4" r="9.5" fill="url(#sphR)" stroke="#E2707D" stroke-width="1"/>
<circle cx="302.9" cy="1478.3" r="9.5" fill="url(#sphR)" stroke="#E2707D" stroke-width="1"/>
<circle cx="385.8" cy="1556.2" r="9.5" fill="url(#sphR)" stroke="#E2707D" stroke-width="1"/>
<circle cx="468.6" cy="1596.1" r="9.5" fill="url(#sphR)" stroke="#E2707D" stroke-width="1"/>
<circle cx="551.4" cy="1614.2" r="9.5" fill="url(#sphR)" stroke="#E2707D" stroke-width="1"/>
<circle cx="634.2" cy="1626.2" r="9.5" fill="url(#sphR)" stroke="#E2707D" stroke-width="1"/>
<circle cx="717.1" cy="1628.7" r="9.5" fill="url(#sphR)" stroke="#E2707D" stroke-width="1"/>
<circle cx="799.9" cy="1627.6" r="9.5" fill="url(#sphR)" stroke="#E2707D" stroke-width="1"/>
</g>
<line x1="704.0" y1="1256.2" x2="777.0" y2="1256.2" stroke="#D9646F" stroke-width="1.8"/>
<circle cx="740.5" cy="1256.2" r="9.5" fill="url(#sphR)" stroke="#E2707D" stroke-width="1"/>
<line x1="704.0" y1="1295.9" x2="777.0" y2="1295.9" stroke="#D9646F" stroke-width="1.8" stroke-dasharray="7 5"/>
<circle cx="740.5" cy="1295.9" r="8.8" fill="#fff" stroke="#E27A86" stroke-width="2.4"/>
<text x="804.0" y="1267.0" font-size="32" fill="#000">MLP</text>
<text x="804.0" y="1306.7" font-size="32" fill="#000">DFT</text>
<line x1="137.3" y1="1691.7" x2="137.3" y2="1696.5" stroke="#000" stroke-width="2"/>
<line x1="178.7" y1="1691.7" x2="178.7" y2="1701.7" stroke="#000" stroke-width="2"/>
<text x="178.7" y="1733.2" font-size="31.5" text-anchor="middle">2.0</text>
<line x1="220.1" y1="1691.7" x2="220.1" y2="1696.5" stroke="#000" stroke-width="2"/>
<line x1="261.5" y1="1691.7" x2="261.5" y2="1701.7" stroke="#000" stroke-width="2"/>
<text x="261.5" y="1733.2" font-size="31.5" text-anchor="middle">2.2</text>
<line x1="302.9" y1="1691.7" x2="302.9" y2="1696.5" stroke="#000" stroke-width="2"/>
<line x1="344.4" y1="1691.7" x2="344.4" y2="1701.7" stroke="#000" stroke-width="2"/>
<text x="344.4" y="1733.2" font-size="31.5" text-anchor="middle">2.4</text>
<line x1="385.8" y1="1691.7" x2="385.8" y2="1696.5" stroke="#000" stroke-width="2"/>
<line x1="427.2" y1="1691.7" x2="427.2" y2="1701.7" stroke="#000" stroke-width="2"/>
<text x="427.2" y="1733.2" font-size="31.5" text-anchor="middle">2.6</text>
<line x1="468.6" y1="1691.7" x2="468.6" y2="1696.5" stroke="#000" stroke-width="2"/>
<line x1="510.0" y1="1691.7" x2="510.0" y2="1701.7" stroke="#000" stroke-width="2"/>
<text x="510.0" y="1733.2" font-size="31.5" text-anchor="middle">2.8</text>
<line x1="551.4" y1="1691.7" x2="551.4" y2="1696.5" stroke="#000" stroke-width="2"/>
<line x1="592.8" y1="1691.7" x2="592.8" y2="1701.7" stroke="#000" stroke-width="2"/>
<text x="592.8" y="1733.2" font-size="31.5" text-anchor="middle">3.0</text>
<line x1="634.2" y1="1691.7" x2="634.2" y2="1696.5" stroke="#000" stroke-width="2"/>
<line x1="675.6" y1="1691.7" x2="675.6" y2="1701.7" stroke="#000" stroke-width="2"/>
<text x="675.6" y="1733.2" font-size="31.5" text-anchor="middle">3.2</text>
<line x1="717.1" y1="1691.7" x2="717.1" y2="1696.5" stroke="#000" stroke-width="2"/>
<line x1="758.5" y1="1691.7" x2="758.5" y2="1701.7" stroke="#000" stroke-width="2"/>
<text x="758.5" y="1733.2" font-size="31.5" text-anchor="middle">3.4</text>
<line x1="799.9" y1="1691.7" x2="799.9" y2="1696.5" stroke="#000" stroke-width="2"/>
<line x1="841.3" y1="1691.7" x2="841.3" y2="1701.7" stroke="#000" stroke-width="2"/>
<text x="841.3" y="1733.2" font-size="31.5" text-anchor="middle">3.6</text>
<line x1="882.7" y1="1691.7" x2="882.7" y2="1696.5" stroke="#000" stroke-width="2"/>
<line x1="132.8" y1="1691.7" x2="137.3" y2="1691.7" stroke="#D0626F" stroke-width="2"/>
<line x1="127.8" y1="1655.8" x2="137.3" y2="1655.8" stroke="#D0626F" stroke-width="2"/>
<text x="120.8" y="1665.3" font-size="31.5" text-anchor="end" fill="#D0626F">-8.2</text>
<line x1="132.8" y1="1620.0" x2="137.3" y2="1620.0" stroke="#D0626F" stroke-width="2"/>
<line x1="127.8" y1="1584.1" x2="137.3" y2="1584.1" stroke="#D0626F" stroke-width="2"/>
<text x="120.8" y="1593.6" font-size="31.5" text-anchor="end" fill="#D0626F">-8.0</text>
<line x1="132.8" y1="1548.3" x2="137.3" y2="1548.3" stroke="#D0626F" stroke-width="2"/>
<line x1="127.8" y1="1512.4" x2="137.3" y2="1512.4" stroke="#D0626F" stroke-width="2"/>
<text x="120.8" y="1521.9" font-size="31.5" text-anchor="end" fill="#D0626F">-7.8</text>
<line x1="132.8" y1="1476.6" x2="137.3" y2="1476.6" stroke="#D0626F" stroke-width="2"/>
<line x1="127.8" y1="1440.7" x2="137.3" y2="1440.7" stroke="#D0626F" stroke-width="2"/>
<text x="120.8" y="1450.2" font-size="31.5" text-anchor="end" fill="#D0626F">-7.6</text>
<line x1="132.8" y1="1404.9" x2="137.3" y2="1404.9" stroke="#D0626F" stroke-width="2"/>
<line x1="127.8" y1="1369.0" x2="137.3" y2="1369.0" stroke="#D0626F" stroke-width="2"/>
<text x="120.8" y="1378.5" font-size="31.5" text-anchor="end" fill="#D0626F">-7.4</text>
<line x1="132.8" y1="1333.2" x2="137.3" y2="1333.2" stroke="#D0626F" stroke-width="2"/>
<line x1="127.8" y1="1297.3" x2="137.3" y2="1297.3" stroke="#D0626F" stroke-width="2"/>
<text x="120.8" y="1306.8" font-size="31.5" text-anchor="end" fill="#D0626F">-7.2</text>
<line x1="132.8" y1="1261.5" x2="137.3" y2="1261.5" stroke="#D0626F" stroke-width="2"/>
<line x1="127.8" y1="1225.6" x2="137.3" y2="1225.6" stroke="#D0626F" stroke-width="2"/>
<text x="120.8" y="1235.1" font-size="31.5" text-anchor="end" fill="#D0626F">-7.0</text>
<line x1="882.7" y1="1691.7" x2="886.9" y2="1691.7" stroke="#777" stroke-width="1.6"/>
<line x1="882.7" y1="1639.9" x2="891.7" y2="1639.9" stroke="#777" stroke-width="1.6"/>
<text x="897.7" y="1650.4" font-size="31.5" fill="#6E6E6E">0</text>
<line x1="882.7" y1="1588.1" x2="886.9" y2="1588.1" stroke="#777" stroke-width="1.6"/>
<line x1="882.7" y1="1536.3" x2="891.7" y2="1536.3" stroke="#777" stroke-width="1.6"/>
<text x="897.7" y="1546.8" font-size="31.5" fill="#6E6E6E">20</text>
<line x1="882.7" y1="1484.5" x2="886.9" y2="1484.5" stroke="#777" stroke-width="1.6"/>
<line x1="882.7" y1="1432.8" x2="891.7" y2="1432.8" stroke="#777" stroke-width="1.6"/>
<text x="897.7" y="1443.3" font-size="31.5" fill="#6E6E6E">40</text>
<line x1="882.7" y1="1381.0" x2="886.9" y2="1381.0" stroke="#777" stroke-width="1.6"/>
<line x1="882.7" y1="1329.2" x2="891.7" y2="1329.2" stroke="#777" stroke-width="1.6"/>
<text x="897.7" y="1339.7" font-size="31.5" fill="#6E6E6E">60</text>
<line x1="882.7" y1="1277.4" x2="886.9" y2="1277.4" stroke="#777" stroke-width="1.6"/>
<line x1="882.7" y1="1225.6" x2="891.7" y2="1225.6" stroke="#777" stroke-width="1.6"/>
<text x="897.7" y="1236.1" font-size="31.5" fill="#6E6E6E">80</text>
<line x1="137.3" y1="1225.6" x2="884.0" y2="1225.6" stroke="#000" stroke-width="2.6"/>
<line x1="137.3" y1="1691.7" x2="884.0" y2="1691.7" stroke="#000" stroke-width="2.6"/>
<line x1="882.7" y1="1225.6" x2="882.7" y2="1691.7" stroke="#111" stroke-width="2.2"/>
<line x1="137.3" y1="1224.3" x2="137.3" y2="1693.0" stroke="#D0626F" stroke-width="2.6"/>
<text transform="translate(51.3,1458.7) rotate(-90)" font-size="34" text-anchor="middle" fill="#D0626F">Energy (eV/atom)</text>
<text transform="translate(970.7,1458.7) rotate(-90)" font-size="34" text-anchor="middle" fill="#6E6E6E">Energy error (meV/atom)</text>
<text x="510.0" y="1775.7" font-size="34" text-anchor="middle">Distance(Å)</text>
<text x="8.9" y="1211.1" font-size="45" font-weight="bold">(e)</text>
<g clip-path="url(#clipf)">
<g clip-path="url(#ib9)"><rect x="1603.6" y="1372.0" width="207.5" height="122.0" fill="#F3F3F3"/><line x1="1578.4" y1="1368.2" x2="1578.4" y2="1387.2" stroke="#dcdcdc" stroke-width="5.2"/><line x1="1578.4" y1="1368.2" x2="1578.4" y2="1387.2" stroke="#e9e9e9" stroke-width="2.6"/><line x1="1619.3" y1="1368.2" x2="1619.3" y2="1387.2" stroke="#dcdcdc" stroke-width="5.2"/><line x1="1619.3" y1="1368.2" x2="1619.3" y2="1387.2" stroke="#e9e9e9" stroke-width="2.6"/><line x1="1660.1" y1="1368.2" x2="1660.1" y2="1387.2" stroke="#dcdcdc" stroke-width="5.2"/><line x1="1660.1" y1="1368.2" x2="1660.1" y2="1387.2" stroke="#e9e9e9" stroke-width="2.6"/><line x1="1700.9" y1="1368.2" x2="1700.9" y2="1387.2" stroke="#dcdcdc" stroke-width="5.2"/><line x1="1700.9" y1="1368.2" x2="1700.9" y2="1387.2" stroke="#e9e9e9" stroke-width="2.6"/><line x1="1742.4" y1="1368.2" x2="1742.4" y2="1387.2" stroke="#dcdcdc" stroke-width="5.2"/><line x1="1742.4" y1="1368.2" x2="1742.4" y2="1387.2" stroke="#e9e9e9" stroke-width="2.6"/><line x1="1783.2" y1="1368.2" x2="1783.2" y2="1387.2" stroke="#dcdcdc" stroke-width="5.2"/><line x1="1783.2" y1="1368.2" x2="1783.2" y2="1387.2" stroke="#e9e9e9" stroke-width="2.6"/><line x1="1824.0" y1="1368.2" x2="1824.0" y2="1387.2" stroke="#dcdcdc" stroke-width="5.2"/><line x1="1824.0" y1="1368.2" x2="1824.0" y2="1387.2" stroke="#e9e9e9" stroke-width="2.6"/><line x1="1592.7" y1="1396.1" x2="1592.7" y2="1423.9" stroke="#dcdcdc" stroke-width="5.2"/><line x1="1592.7" y1="1396.1" x2="1592.7" y2="1423.9" stroke="#e9e9e9" stroke-width="2.6"/><line x1="1633.5" y1="1396.1" x2="1633.5" y2="1423.9" stroke="#dcdcdc" stroke-width="5.2"/><line x1="1633.5" y1="1396.1" x2="1633.5" y2="1423.9" stroke="#e9e9e9" stroke-width="2.6"/><line x1="1673.7" y1="1396.1" x2="1673.7" y2="1423.9" stroke="#dcdcdc" stroke-width="5.2"/><line x1="1673.7" y1="1396.1" x2="1673.7" y2="1423.9" stroke="#e9e9e9" stroke-width="2.6"/><line x1="1714.5" y1="1396.1" x2="1714.5" y2="1423.9" stroke="#dcdcdc" stroke-width="5.2"/><line x1="1714.5" y1="1396.1" x2="1714.5" y2="1423.9" stroke="#e9e9e9" stroke-width="2.6"/><line x1="1755.3" y1="1396.1" x2="1755.3" y2="1423.9" stroke="#dcdcdc" stroke-width="5.2"/><line x1="1755.3" y1="1396.1" x2="1755.3" y2="1423.9" stroke="#e9e9e9" stroke-width="2.6"/><line x1="1795.4" y1="1396.1" x2="1795.4" y2="1423.9" stroke="#dcdcdc" stroke-width="5.2"/><line x1="1795.4" y1="1396.1" x2="1795.4" y2="1423.9" stroke="#e9e9e9" stroke-width="2.6"/><line x1="1836.3" y1="1396.1" x2="1836.3" y2="1423.9" stroke="#dcdcdc" stroke-width="5.2"/><line x1="1836.3" y1="1396.1" x2="1836.3" y2="1423.9" stroke="#e9e9e9" stroke-width="2.6"/><line x1="1566.9" y1="1430.7" x2="1566.9" y2="1460.7" stroke="#dcdcdc" stroke-width="5.2"/><line x1="1566.9" y1="1430.7" x2="1566.9" y2="1460.7" stroke="#e9e9e9" stroke-width="2.6"/><line x1="1607.7" y1="1430.7" x2="1607.7" y2="1460.7" stroke="#dcdcdc" stroke-width="5.2"/><line x1="1607.7" y1="1430.7" x2="1607.7" y2="1460.7" stroke="#e9e9e9" stroke-width="2.6"/><line x1="1646.5" y1="1430.7" x2="1646.5" y2="1460.7" stroke="#dcdcdc" stroke-width="5.2"/><line x1="1646.5" y1="1430.7" x2="1646.5" y2="1460.7" stroke="#e9e9e9" stroke-width="2.6"/><line x1="1687.3" y1="1430.7" x2="1687.3" y2="1460.7" stroke="#dcdcdc" stroke-width="5.2"/><line x1="1687.3" y1="1430.7" x2="1687.3" y2="1460.7" stroke="#e9e9e9" stroke-width="2.6"/><line x1="1727.4" y1="1430.7" x2="1727.4" y2="1460.7" stroke="#dcdcdc" stroke-width="5.2"/><line x1="1727.4" y1="1430.7" x2="1727.4" y2="1460.7" stroke="#e9e9e9" stroke-width="2.6"/><line x1="1768.2" y1="1430.7" x2="1768.2" y2="1460.7" stroke="#dcdcdc" stroke-width="5.2"/><line x1="1768.2" y1="1430.7" x2="1768.2" y2="1460.7" stroke="#e9e9e9" stroke-width="2.6"/><line x1="1807.7" y1="1430.7" x2="1807.7" y2="1460.7" stroke="#dcdcdc" stroke-width="5.2"/><line x1="1807.7" y1="1430.7" x2="1807.7" y2="1460.7" stroke="#e9e9e9" stroke-width="2.6"/><line x1="1848.5" y1="1430.7" x2="1848.5" y2="1460.7" stroke="#dcdcdc" stroke-width="5.2"/><line x1="1848.5" y1="1430.7" x2="1848.5" y2="1460.7" stroke="#e9e9e9" stroke-width="2.6"/><line x1="1578.4" y1="1469.5" x2="1578.4" y2="1497.4" stroke="#dcdcdc" stroke-width="5.2"/><line x1="1578.4" y1="1469.5" x2="1578.4" y2="1497.4" stroke="#e9e9e9" stroke-width="2.6"/><line x1="1619.3" y1="1469.5" x2="1619.3" y2="1497.4" stroke="#dcdcdc" stroke-width="5.2"/><line x1="1619.3" y1="1469.5" x2="1619.3" y2="1497.4" stroke="#e9e9e9" stroke-width="2.6"/><line x1="1660.1" y1="1469.5" x2="1660.1" y2="1497.4" stroke="#dcdcdc" stroke-width="5.2"/><line x1="1660.1" y1="1469.5" x2="1660.1" y2="1497.4" stroke="#e9e9e9" stroke-width="2.6"/><line x1="1700.9" y1="1469.5" x2="1700.9" y2="1497.4" stroke="#dcdcdc" stroke-width="5.2"/><line x1="1700.9" y1="1469.5" x2="1700.9" y2="1497.4" stroke="#e9e9e9" stroke-width="2.6"/><line x1="1742.4" y1="1469.5" x2="1742.4" y2="1497.4" stroke="#dcdcdc" stroke-width="5.2"/><line x1="1742.4" y1="1469.5" x2="1742.4" y2="1497.4" stroke="#e9e9e9" stroke-width="2.6"/><line x1="1783.2" y1="1469.5" x2="1783.2" y2="1497.4" stroke="#dcdcdc" stroke-width="5.2"/><line x1="1783.2" y1="1469.5" x2="1783.2" y2="1497.4" stroke="#e9e9e9" stroke-width="2.6"/><line x1="1824.0" y1="1469.5" x2="1824.0" y2="1497.4" stroke="#dcdcdc" stroke-width="5.2"/><line x1="1824.0" y1="1469.5" x2="1824.0" y2="1497.4" stroke="#e9e9e9" stroke-width="2.6"/><line x1="1566.9" y1="1460.7" x2="1578.4" y2="1469.5" stroke="#dcdcdc" stroke-width="5.2"/><line x1="1566.9" y1="1460.7" x2="1578.4" y2="1469.5" stroke="#e9e9e9" stroke-width="2.6"/><line x1="1607.7" y1="1460.7" x2="1619.3" y2="1469.5" stroke="#dcdcdc" stroke-width="5.2"/><line x1="1607.7" y1="1460.7" x2="1619.3" y2="1469.5" stroke="#e9e9e9" stroke-width="2.6"/><line x1="1646.5" y1="1460.7" x2="1660.1" y2="1469.5" stroke="#dcdcdc" stroke-width="5.2"/><line x1="1646.5" y1="1460.7" x2="1660.1" y2="1469.5" stroke="#e9e9e9" stroke-width="2.6"/><line x1="1687.3" y1="1460.7" x2="1700.9" y2="1469.5" stroke="#dcdcdc" stroke-width="5.2"/><line x1="1687.3" y1="1460.7" x2="1700.9" y2="1469.5" stroke="#e9e9e9" stroke-width="2.6"/><line x1="1727.4" y1="1460.7" x2="1742.4" y2="1469.5" stroke="#dcdcdc" stroke-width="5.2"/><line x1="1727.4" y1="1460.7" x2="1742.4" y2="1469.5" stroke="#e9e9e9" stroke-width="2.6"/><line x1="1768.2" y1="1460.7" x2="1783.2" y2="1469.5" stroke="#dcdcdc" stroke-width="5.2"/><line x1="1768.2" y1="1460.7" x2="1783.2" y2="1469.5" stroke="#e9e9e9" stroke-width="2.6"/><line x1="1807.7" y1="1460.7" x2="1824.0" y2="1469.5" stroke="#dcdcdc" stroke-width="5.2"/><line x1="1807.7" y1="1460.7" x2="1824.0" y2="1469.5" stroke="#e9e9e9" stroke-width="2.6"/><line x1="1578.4" y1="1469.5" x2="1607.7" y2="1460.7" stroke="#dcdcdc" stroke-width="5.2"/><line x1="1578.4" y1="1469.5" x2="1607.7" y2="1460.7" stroke="#e9e9e9" stroke-width="2.6"/><line x1="1619.3" y1="1469.5" x2="1646.5" y2="1460.7" stroke="#dcdcdc" stroke-width="5.2"/><line x1="1619.3" y1="1469.5" x2="1646.5" y2="1460.7" stroke="#e9e9e9" stroke-width="2.6"/><line x1="1660.1" y1="1469.5" x2="1687.3" y2="1460.7" stroke="#dcdcdc" stroke-width="5.2"/><line x1="1660.1" y1="1469.5" x2="1687.3" y2="1460.7" stroke="#e9e9e9" stroke-width="2.6"/><line x1="1700.9" y1="1469.5" x2="1727.4" y2="1460.7" stroke="#dcdcdc" stroke-width="5.2"/><line x1="1700.9" y1="1469.5" x2="1727.4" y2="1460.7" stroke="#e9e9e9" stroke-width="2.6"/><line x1="1742.4" y1="1469.5" x2="1768.2" y2="1460.7" stroke="#dcdcdc" stroke-width="5.2"/><line x1="1742.4" y1="1469.5" x2="1768.2" y2="1460.7" stroke="#e9e9e9" stroke-width="2.6"/><line x1="1783.2" y1="1469.5" x2="1807.7" y2="1460.7" stroke="#dcdcdc" stroke-width="5.2"/><line x1="1783.2" y1="1469.5" x2="1807.7" y2="1460.7" stroke="#e9e9e9" stroke-width="2.6"/><line x1="1824.0" y1="1469.5" x2="1848.5" y2="1460.7" stroke="#dcdcdc" stroke-width="5.2"/><line x1="1824.0" y1="1469.5" x2="1848.5" y2="1460.7" stroke="#e9e9e9" stroke-width="2.6"/><circle cx="1578.4" cy="1387.2" r="7.3" fill="#E2E2E2" stroke="#d4d4d4" stroke-width="0.8"/><circle cx="1619.3" cy="1387.2" r="7.3" fill="#E2E2E2" stroke="#d4d4d4" stroke-width="0.8"/><circle cx="1660.1" cy="1387.2" r="7.3" fill="#E2E2E2" stroke="#d4d4d4" stroke-width="0.8"/><circle cx="1700.9" cy="1387.2" r="7.3" fill="#E2E2E2" stroke="#d4d4d4" stroke-width="0.8"/><circle cx="1742.4" cy="1387.2" r="7.3" fill="#E2E2E2" stroke="#d4d4d4" stroke-width="0.8"/><circle cx="1783.2" cy="1387.2" r="7.3" fill="#E2E2E2" stroke="#d4d4d4" stroke-width="0.8"/><circle cx="1824.0" cy="1387.2" r="7.3" fill="#E2E2E2" stroke="#d4d4d4" stroke-width="0.8"/><circle cx="1592.7" cy="1423.9" r="7.3" fill="#E2E2E2" stroke="#d4d4d4" stroke-width="0.8"/><circle cx="1633.5" cy="1423.9" r="7.3" fill="#E2E2E2" stroke="#d4d4d4" stroke-width="0.8"/><circle cx="1673.7" cy="1423.9" r="7.3" fill="#E2E2E2" stroke="#d4d4d4" stroke-width="0.8"/><circle cx="1714.5" cy="1423.9" r="7.3" fill="#E2E2E2" stroke="#d4d4d4" stroke-width="0.8"/><circle cx="1755.3" cy="1423.9" r="7.3" fill="#E2E2E2" stroke="#d4d4d4" stroke-width="0.8"/><circle cx="1795.4" cy="1423.9" r="7.3" fill="#E2E2E2" stroke="#d4d4d4" stroke-width="0.8"/><circle cx="1836.3" cy="1423.9" r="7.3" fill="#E2E2E2" stroke="#d4d4d4" stroke-width="0.8"/><circle cx="1566.9" cy="1460.7" r="7.3" fill="#E2E2E2" stroke="#d4d4d4" stroke-width="0.8"/><circle cx="1607.7" cy="1460.7" r="7.3" fill="#E2E2E2" stroke="#d4d4d4" stroke-width="0.8"/><circle cx="1646.5" cy="1460.7" r="7.3" fill="#E2E2E2" stroke="#d4d4d4" stroke-width="0.8"/><circle cx="1687.3" cy="1460.7" r="7.3" fill="#E2E2E2" stroke="#d4d4d4" stroke-width="0.8"/><circle cx="1727.4" cy="1460.7" r="7.3" fill="#E2E2E2" stroke="#d4d4d4" stroke-width="0.8"/><circle cx="1768.2" cy="1460.7" r="7.3" fill="#E2E2E2" stroke="#d4d4d4" stroke-width="0.8"/><circle cx="1807.7" cy="1460.7" r="7.3" fill="#E2E2E2" stroke="#d4d4d4" stroke-width="0.8"/><circle cx="1848.5" cy="1460.7" r="7.3" fill="#E2E2E2" stroke="#d4d4d4" stroke-width="0.8"/><circle cx="1578.4" cy="1469.5" r="7.3" fill="#E2E2E2" stroke="#d4d4d4" stroke-width="0.8"/><circle cx="1619.3" cy="1469.5" r="7.3" fill="#E2E2E2" stroke="#d4d4d4" stroke-width="0.8"/><circle cx="1660.1" cy="1469.5" r="7.3" fill="#E2E2E2" stroke="#d4d4d4" stroke-width="0.8"/><circle cx="1700.9" cy="1469.5" r="7.3" fill="#E2E2E2" stroke="#d4d4d4" stroke-width="0.8"/><circle cx="1742.4" cy="1469.5" r="7.3" fill="#E2E2E2" stroke="#d4d4d4" stroke-width="0.8"/><circle cx="1783.2" cy="1469.5" r="7.3" fill="#E2E2E2" stroke="#d4d4d4" stroke-width="0.8"/><circle cx="1824.0" cy="1469.5" r="7.3" fill="#E2E2E2" stroke="#d4d4d4" stroke-width="0.8"/><line x1="1592.7" y1="1368.2" x2="1592.7" y2="1396.1" stroke="#7e7e7e" stroke-width="5.2"/><line x1="1592.7" y1="1368.2" x2="1592.7" y2="1396.1" stroke="#a9a9a9" stroke-width="2.6"/><line x1="1633.5" y1="1368.2" x2="1633.5" y2="1396.1" stroke="#7e7e7e" stroke-width="5.2"/><line x1="1633.5" y1="1368.2" x2="1633.5" y2="1396.1" stroke="#a9a9a9" stroke-width="2.6"/><line x1="1673.7" y1="1368.2" x2="1673.7" y2="1396.1" stroke="#7e7e7e" stroke-width="5.2"/><line x1="1673.7" y1="1368.2" x2="1673.7" y2="1396.1" stroke="#a9a9a9" stroke-width="2.6"/><line x1="1714.5" y1="1368.2" x2="1714.5" y2="1396.1" stroke="#7e7e7e" stroke-width="5.2"/><line x1="1714.5" y1="1368.2" x2="1714.5" y2="1396.1" stroke="#a9a9a9" stroke-width="2.6"/><line x1="1755.3" y1="1368.2" x2="1755.3" y2="1396.1" stroke="#7e7e7e" stroke-width="5.2"/><line x1="1755.3" y1="1368.2" x2="1755.3" y2="1396.1" stroke="#a9a9a9" stroke-width="2.6"/><line x1="1795.4" y1="1368.2" x2="1795.4" y2="1396.1" stroke="#7e7e7e" stroke-width="5.2"/><line x1="1795.4" y1="1368.2" x2="1795.4" y2="1396.1" stroke="#a9a9a9" stroke-width="2.6"/><line x1="1836.3" y1="1368.2" x2="1836.3" y2="1396.1" stroke="#7e7e7e" stroke-width="5.2"/><line x1="1836.3" y1="1368.2" x2="1836.3" y2="1396.1" stroke="#a9a9a9" stroke-width="2.6"/><line x1="1566.9" y1="1404.9" x2="1566.9" y2="1430.7" stroke="#7e7e7e" stroke-width="5.2"/><line x1="1566.9" y1="1404.9" x2="1566.9" y2="1430.7" stroke="#a9a9a9" stroke-width="2.6"/><line x1="1607.7" y1="1404.9" x2="1607.7" y2="1430.7" stroke="#7e7e7e" stroke-width="5.2"/><line x1="1607.7" y1="1404.9" x2="1607.7" y2="1430.7" stroke="#a9a9a9" stroke-width="2.6"/><line x1="1646.5" y1="1404.9" x2="1646.5" y2="1430.7" stroke="#7e7e7e" stroke-width="5.2"/><line x1="1646.5" y1="1404.9" x2="1646.5" y2="1430.7" stroke="#a9a9a9" stroke-width="2.6"/><line x1="1687.3" y1="1404.9" x2="1687.3" y2="1430.7" stroke="#7e7e7e" stroke-width="5.2"/><line x1="1687.3" y1="1404.9" x2="1687.3" y2="1430.7" stroke="#a9a9a9" stroke-width="2.6"/><line x1="1727.4" y1="1404.9" x2="1727.4" y2="1430.7" stroke="#7e7e7e" stroke-width="5.2"/><line x1="1727.4" y1="1404.9" x2="1727.4" y2="1430.7" stroke="#a9a9a9" stroke-width="2.6"/><line x1="1768.2" y1="1404.9" x2="1768.2" y2="1430.7" stroke="#7e7e7e" stroke-width="5.2"/><line x1="1768.2" y1="1404.9" x2="1768.2" y2="1430.7" stroke="#a9a9a9" stroke-width="2.6"/><line x1="1807.7" y1="1404.9" x2="1807.7" y2="1430.7" stroke="#7e7e7e" stroke-width="5.2"/><line x1="1807.7" y1="1404.9" x2="1807.7" y2="1430.7" stroke="#a9a9a9" stroke-width="2.6"/><line x1="1848.5" y1="1404.9" x2="1848.5" y2="1430.7" stroke="#7e7e7e" stroke-width="5.2"/><line x1="1848.5" y1="1404.9" x2="1848.5" y2="1430.7" stroke="#a9a9a9" stroke-width="2.6"/><line x1="1592.7" y1="1506.3" x2="1592.7" y2="1533.5" stroke="#7e7e7e" stroke-width="5.2"/><line x1="1592.7" y1="1506.3" x2="1592.7" y2="1533.5" stroke="#a9a9a9" stroke-width="2.6"/><line x1="1633.5" y1="1506.3" x2="1633.5" y2="1533.5" stroke="#7e7e7e" stroke-width="5.2"/><line x1="1633.5" y1="1506.3" x2="1633.5" y2="1533.5" stroke="#a9a9a9" stroke-width="2.6"/><line x1="1673.7" y1="1506.3" x2="1673.7" y2="1533.5" stroke="#7e7e7e" stroke-width="5.2"/><line x1="1673.7" y1="1506.3" x2="1673.7" y2="1533.5" stroke="#a9a9a9" stroke-width="2.6"/><line x1="1714.5" y1="1506.3" x2="1714.5" y2="1533.5" stroke="#7e7e7e" stroke-width="5.2"/><line x1="1714.5" y1="1506.3" x2="1714.5" y2="1533.5" stroke="#a9a9a9" stroke-width="2.6"/><line x1="1755.3" y1="1506.3" x2="1755.3" y2="1533.5" stroke="#7e7e7e" stroke-width="5.2"/><line x1="1755.3" y1="1506.3" x2="1755.3" y2="1533.5" stroke="#a9a9a9" stroke-width="2.6"/><line x1="1795.4" y1="1506.3" x2="1795.4" y2="1533.5" stroke="#7e7e7e" stroke-width="5.2"/><line x1="1795.4" y1="1506.3" x2="1795.4" y2="1533.5" stroke="#a9a9a9" stroke-width="2.6"/><line x1="1836.3" y1="1506.3" x2="1836.3" y2="1533.5" stroke="#7e7e7e" stroke-width="5.2"/><line x1="1836.3" y1="1506.3" x2="1836.3" y2="1533.5" stroke="#a9a9a9" stroke-width="2.6"/><line x1="1566.9" y1="1543.0" x2="1566.9" y2="1570.2" stroke="#7e7e7e" stroke-width="5.2"/><line x1="1566.9" y1="1543.0" x2="1566.9" y2="1570.2" stroke="#a9a9a9" stroke-width="2.6"/><line x1="1607.7" y1="1543.0" x2="1607.7" y2="1570.2" stroke="#7e7e7e" stroke-width="5.2"/><line x1="1607.7" y1="1543.0" x2="1607.7" y2="1570.2" stroke="#a9a9a9" stroke-width="2.6"/><line x1="1646.5" y1="1543.0" x2="1646.5" y2="1570.2" stroke="#7e7e7e" stroke-width="5.2"/><line x1="1646.5" y1="1543.0" x2="1646.5" y2="1570.2" stroke="#a9a9a9" stroke-width="2.6"/><line x1="1687.3" y1="1543.0" x2="1687.3" y2="1570.2" stroke="#7e7e7e" stroke-width="5.2"/><line x1="1687.3" y1="1543.0" x2="1687.3" y2="1570.2" stroke="#a9a9a9" stroke-width="2.6"/><line x1="1727.4" y1="1543.0" x2="1727.4" y2="1570.2" stroke="#7e7e7e" stroke-width="5.2"/><line x1="1727.4" y1="1543.0" x2="1727.4" y2="1570.2" stroke="#a9a9a9" stroke-width="2.6"/><line x1="1768.2" y1="1543.0" x2="1768.2" y2="1570.2" stroke="#7e7e7e" stroke-width="5.2"/><line x1="1768.2" y1="1543.0" x2="1768.2" y2="1570.2" stroke="#a9a9a9" stroke-width="2.6"/><line x1="1807.7" y1="1543.0" x2="1807.7" y2="1570.2" stroke="#7e7e7e" stroke-width="5.2"/><line x1="1807.7" y1="1543.0" x2="1807.7" y2="1570.2" stroke="#a9a9a9" stroke-width="2.6"/><line x1="1848.5" y1="1543.0" x2="1848.5" y2="1570.2" stroke="#7e7e7e" stroke-width="5.2"/><line x1="1848.5" y1="1543.0" x2="1848.5" y2="1570.2" stroke="#a9a9a9" stroke-width="2.6"/><line x1="1578.4" y1="1579.0" x2="1578.4" y2="1599.5" stroke="#7e7e7e" stroke-width="5.2"/><line x1="1578.4" y1="1579.0" x2="1578.4" y2="1599.5" stroke="#a9a9a9" stroke-width="2.6"/><line x1="1619.3" y1="1579.0" x2="1619.3" y2="1599.5" stroke="#7e7e7e" stroke-width="5.2"/><line x1="1619.3" y1="1579.0" x2="1619.3" y2="1599.5" stroke="#a9a9a9" stroke-width="2.6"/><line x1="1660.1" y1="1579.0" x2="1660.1" y2="1599.5" stroke="#7e7e7e" stroke-width="5.2"/><line x1="1660.1" y1="1579.0" x2="1660.1" y2="1599.5" stroke="#a9a9a9" stroke-width="2.6"/><line x1="1700.9" y1="1579.0" x2="1700.9" y2="1599.5" stroke="#7e7e7e" stroke-width="5.2"/><line x1="1700.9" y1="1579.0" x2="1700.9" y2="1599.5" stroke="#a9a9a9" stroke-width="2.6"/><line x1="1742.4" y1="1579.0" x2="1742.4" y2="1599.5" stroke="#7e7e7e" stroke-width="5.2"/><line x1="1742.4" y1="1579.0" x2="1742.4" y2="1599.5" stroke="#a9a9a9" stroke-width="2.6"/><line x1="1783.2" y1="1579.0" x2="1783.2" y2="1599.5" stroke="#7e7e7e" stroke-width="5.2"/><line x1="1783.2" y1="1579.0" x2="1783.2" y2="1599.5" stroke="#a9a9a9" stroke-width="2.6"/><line x1="1824.0" y1="1579.0" x2="1824.0" y2="1599.5" stroke="#7e7e7e" stroke-width="5.2"/><line x1="1824.0" y1="1579.0" x2="1824.0" y2="1599.5" stroke="#a9a9a9" stroke-width="2.6"/><line x1="1592.7" y1="1396.1" x2="1607.7" y2="1404.9" stroke="#7e7e7e" stroke-width="5.2"/><line x1="1592.7" y1="1396.1" x2="1607.7" y2="1404.9" stroke="#a9a9a9" stroke-width="2.6"/><line x1="1633.5" y1="1396.1" x2="1646.5" y2="1404.9" stroke="#7e7e7e" stroke-width="5.2"/><line x1="1633.5" y1="1396.1" x2="1646.5" y2="1404.9" stroke="#a9a9a9" stroke-width="2.6"/><line x1="1673.7" y1="1396.1" x2="1687.3" y2="1404.9" stroke="#7e7e7e" stroke-width="5.2"/><line x1="1673.7" y1="1396.1" x2="1687.3" y2="1404.9" stroke="#a9a9a9" stroke-width="2.6"/><line x1="1714.5" y1="1396.1" x2="1727.4" y2="1404.9" stroke="#7e7e7e" stroke-width="5.2"/><line x1="1714.5" y1="1396.1" x2="1727.4" y2="1404.9" stroke="#a9a9a9" stroke-width="2.6"/><line x1="1755.3" y1="1396.1" x2="1768.2" y2="1404.9" stroke="#7e7e7e" stroke-width="5.2"/><line x1="1755.3" y1="1396.1" x2="1768.2" y2="1404.9" stroke="#a9a9a9" stroke-width="2.6"/><line x1="1795.4" y1="1396.1" x2="1807.7" y2="1404.9" stroke="#7e7e7e" stroke-width="5.2"/><line x1="1795.4" y1="1396.1" x2="1807.7" y2="1404.9" stroke="#a9a9a9" stroke-width="2.6"/><line x1="1836.3" y1="1396.1" x2="1848.5" y2="1404.9" stroke="#7e7e7e" stroke-width="5.2"/><line x1="1836.3" y1="1396.1" x2="1848.5" y2="1404.9" stroke="#a9a9a9" stroke-width="2.6"/><line x1="1566.9" y1="1404.9" x2="1592.7" y2="1396.1" stroke="#7e7e7e" stroke-width="5.2"/><line x1="1566.9" y1="1404.9" x2="1592.7" y2="1396.1" stroke="#a9a9a9" stroke-width="2.6"/><line x1="1607.7" y1="1404.9" x2="1633.5" y2="1396.1" stroke="#7e7e7e" stroke-width="5.2"/><line x1="1607.7" y1="1404.9" x2="1633.5" y2="1396.1" stroke="#a9a9a9" stroke-width="2.6"/><line x1="1646.5" y1="1404.9" x2="1673.7" y2="1396.1" stroke="#7e7e7e" stroke-width="5.2"/><line x1="1646.5" y1="1404.9" x2="1673.7" y2="1396.1" stroke="#a9a9a9" stroke-width="2.6"/><line x1="1687.3" y1="1404.9" x2="1714.5" y2="1396.1" stroke="#7e7e7e" stroke-width="5.2"/><line x1="1687.3" y1="1404.9" x2="1714.5" y2="1396.1" stroke="#a9a9a9" stroke-width="2.6"/><line x1="1727.4" y1="1404.9" x2="1755.3" y2="1396.1" stroke="#7e7e7e" stroke-width="5.2"/><line x1="1727.4" y1="1404.9" x2="1755.3" y2="1396.1" stroke="#a9a9a9" stroke-width="2.6"/><line x1="1768.2" y1="1404.9" x2="1795.4" y2="1396.1" stroke="#7e7e7e" stroke-width="5.2"/><line x1="1768.2" y1="1404.9" x2="1795.4" y2="1396.1" stroke="#a9a9a9" stroke-width="2.6"/><line x1="1807.7" y1="1404.9" x2="1836.3" y2="1396.1" stroke="#7e7e7e" stroke-width="5.2"/><line x1="1807.7" y1="1404.9" x2="1836.3" y2="1396.1" stroke="#a9a9a9" stroke-width="2.6"/><line x1="1566.9" y1="1430.7" x2="1578.4" y2="1439.6" stroke="#7e7e7e" stroke-width="5.2"/><line x1="1566.9" y1="1430.7" x2="1578.4" y2="1439.6" stroke="#a9a9a9" stroke-width="2.6"/><line x1="1607.7" y1="1430.7" x2="1619.3" y2="1439.6" stroke="#7e7e7e" stroke-width="5.2"/><line x1="1607.7" y1="1430.7" x2="1619.3" y2="1439.6" stroke="#a9a9a9" stroke-width="2.6"/><line x1="1646.5" y1="1430.7" x2="1660.1" y2="1439.6" stroke="#7e7e7e" stroke-width="5.2"/><line x1="1646.5" y1="1430.7" x2="1660.1" y2="1439.6" stroke="#a9a9a9" stroke-width="2.6"/><line x1="1687.3" y1="1430.7" x2="1700.9" y2="1439.6" stroke="#7e7e7e" stroke-width="5.2"/><line x1="1687.3" y1="1430.7" x2="1700.9" y2="1439.6" stroke="#a9a9a9" stroke-width="2.6"/><line x1="1727.4" y1="1430.7" x2="1742.4" y2="1439.6" stroke="#7e7e7e" stroke-width="5.2"/><line x1="1727.4" y1="1430.7" x2="1742.4" y2="1439.6" stroke="#a9a9a9" stroke-width="2.6"/><line x1="1768.2" y1="1430.7" x2="1783.2" y2="1439.6" stroke="#7e7e7e" stroke-width="5.2"/><line x1="1768.2" y1="1430.7" x2="1783.2" y2="1439.6" stroke="#a9a9a9" stroke-width="2.6"/><line x1="1807.7" y1="1430.7" x2="1824.0" y2="1439.6" stroke="#7e7e7e" stroke-width="5.2"/><line x1="1807.7" y1="1430.7" x2="1824.0" y2="1439.6" stroke="#a9a9a9" stroke-width="2.6"/><line x1="1578.4" y1="1439.6" x2="1607.7" y2="1430.7" stroke="#7e7e7e" stroke-width="5.2"/><line x1="1578.4" y1="1439.6" x2="1607.7" y2="1430.7" stroke="#a9a9a9" stroke-width="2.6"/><line x1="1619.3" y1="1439.6" x2="1646.5" y2="1430.7" stroke="#7e7e7e" stroke-width="5.2"/><line x1="1619.3" y1="1439.6" x2="1646.5" y2="1430.7" stroke="#a9a9a9" stroke-width="2.6"/><line x1="1660.1" y1="1439.6" x2="1687.3" y2="1430.7" stroke="#7e7e7e" stroke-width="5.2"/><line x1="1660.1" y1="1439.6" x2="1687.3" y2="1430.7" stroke="#a9a9a9" stroke-width="2.6"/><line x1="1700.9" y1="1439.6" x2="1727.4" y2="1430.7" stroke="#7e7e7e" stroke-width="5.2"/><line x1="1700.9" y1="1439.6" x2="1727.4" y2="1430.7" stroke="#a9a9a9" stroke-width="2.6"/><line x1="1742.4" y1="1439.6" x2="1768.2" y2="1430.7" stroke="#7e7e7e" stroke-width="5.2"/><line x1="1742.4" y1="1439.6" x2="1768.2" y2="1430.7" stroke="#a9a9a9" stroke-width="2.6"/><line x1="1783.2" y1="1439.6" x2="1807.7" y2="1430.7" stroke="#7e7e7e" stroke-width="5.2"/><line x1="1783.2" y1="1439.6" x2="1807.7" y2="1430.7" stroke="#a9a9a9" stroke-width="2.6"/><line x1="1824.0" y1="1439.6" x2="1848.5" y2="1430.7" stroke="#7e7e7e" stroke-width="5.2"/><line x1="1824.0" y1="1439.6" x2="1848.5" y2="1430.7" stroke="#a9a9a9" stroke-width="2.6"/><line x1="1578.4" y1="1497.4" x2="1592.7" y2="1506.3" stroke="#7e7e7e" stroke-width="5.2"/><line x1="1578.4" y1="1497.4" x2="1592.7" y2="1506.3" stroke="#a9a9a9" stroke-width="2.6"/><line x1="1619.3" y1="1497.4" x2="1633.5" y2="1506.3" stroke="#7e7e7e" stroke-width="5.2"/><line x1="1619.3" y1="1497.4" x2="1633.5" y2="1506.3" stroke="#a9a9a9" stroke-width="2.6"/><line x1="1660.1" y1="1497.4" x2="1673.7" y2="1506.3" stroke="#7e7e7e" stroke-width="5.2"/><line x1="1660.1" y1="1497.4" x2="1673.7" y2="1506.3" stroke="#a9a9a9" stroke-width="2.6"/><line x1="1700.9" y1="1497.4" x2="1714.5" y2="1506.3" stroke="#7e7e7e" stroke-width="5.2"/><line x1="1700.9" y1="1497.4" x2="1714.5" y2="1506.3" stroke="#a9a9a9" stroke-width="2.6"/><line x1="1742.4" y1="1497.4" x2="1755.3" y2="1506.3" stroke="#7e7e7e" stroke-width="5.2"/><line x1="1742.4" y1="1497.4" x2="1755.3" y2="1506.3" stroke="#a9a9a9" stroke-width="2.6"/><line x1="1783.2" y1="1497.4" x2="1795.4" y2="1506.3" stroke="#7e7e7e" stroke-width="5.2"/><line x1="1783.2" y1="1497.4" x2="1795.4" y2="1506.3" stroke="#a9a9a9" stroke-width="2.6"/><line x1="1824.0" y1="1497.4" x2="1836.3" y2="1506.3" stroke="#7e7e7e" stroke-width="5.2"/><line x1="1824.0" y1="1497.4" x2="1836.3" y2="1506.3" stroke="#a9a9a9" stroke-width="2.6"/><line x1="1592.7" y1="1506.3" x2="1619.3" y2="1497.4" stroke="#7e7e7e" stroke-width="5.2"/><line x1="1592.7" y1="1506.3" x2="1619.3" y2="1497.4" stroke="#a9a9a9" stroke-width="2.6"/><line x1="1633.5" y1="1506.3" x2="1660.1" y2="1497.4" stroke="#7e7e7e" stroke-width="5.2"/><line x1="1633.5" y1="1506.3" x2="1660.1" y2="1497.4" stroke="#a9a9a9" stroke-width="2.6"/><line x1="1673.7" y1="1506.3" x2="1700.9" y2="1497.4" stroke="#7e7e7e" stroke-width="5.2"/><line x1="1673.7" y1="1506.3" x2="1700.9" y2="1497.4" stroke="#a9a9a9" stroke-width="2.6"/><line x1="1714.5" y1="1506.3" x2="1742.4" y2="1497.4" stroke="#7e7e7e" stroke-width="5.2"/><line x1="1714.5" y1="1506.3" x2="1742.4" y2="1497.4" stroke="#a9a9a9" stroke-width="2.6"/><line x1="1755.3" y1="1506.3" x2="1783.2" y2="1497.4" stroke="#7e7e7e" stroke-width="5.2"/><line x1="1755.3" y1="1506.3" x2="1783.2" y2="1497.4" stroke="#a9a9a9" stroke-width="2.6"/><line x1="1795.4" y1="1506.3" x2="1824.0" y2="1497.4" stroke="#7e7e7e" stroke-width="5.2"/><line x1="1795.4" y1="1506.3" x2="1824.0" y2="1497.4" stroke="#a9a9a9" stroke-width="2.6"/><line x1="1592.7" y1="1533.5" x2="1607.7" y2="1543.0" stroke="#7e7e7e" stroke-width="5.2"/><line x1="1592.7" y1="1533.5" x2="1607.7" y2="1543.0" stroke="#a9a9a9" stroke-width="2.6"/><line x1="1633.5" y1="1533.5" x2="1646.5" y2="1543.0" stroke="#7e7e7e" stroke-width="5.2"/><line x1="1633.5" y1="1533.5" x2="1646.5" y2="1543.0" stroke="#a9a9a9" stroke-width="2.6"/><line x1="1673.7" y1="1533.5" x2="1687.3" y2="1543.0" stroke="#7e7e7e" stroke-width="5.2"/><line x1="1673.7" y1="1533.5" x2="1687.3" y2="1543.0" stroke="#a9a9a9" stroke-width="2.6"/><line x1="1714.5" y1="1533.5" x2="1727.4" y2="1543.0" stroke="#7e7e7e" stroke-width="5.2"/><line x1="1714.5" y1="1533.5" x2="1727.4" y2="1543.0" stroke="#a9a9a9" stroke-width="2.6"/><line x1="1755.3" y1="1533.5" x2="1768.2" y2="1543.0" stroke="#7e7e7e" stroke-width="5.2"/><line x1="1755.3" y1="1533.5" x2="1768.2" y2="1543.0" stroke="#a9a9a9" stroke-width="2.6"/><line x1="1795.4" y1="1533.5" x2="1807.7" y2="1543.0" stroke="#7e7e7e" stroke-width="5.2"/><line x1="1795.4" y1="1533.5" x2="1807.7" y2="1543.0" stroke="#a9a9a9" stroke-width="2.6"/><line x1="1836.3" y1="1533.5" x2="1848.5" y2="1543.0" stroke="#7e7e7e" stroke-width="5.2"/><line x1="1836.3" y1="1533.5" x2="1848.5" y2="1543.0" stroke="#a9a9a9" stroke-width="2.6"/><line x1="1566.9" y1="1543.0" x2="1592.7" y2="1533.5" stroke="#7e7e7e" stroke-width="5.2"/><line x1="1566.9" y1="1543.0" x2="1592.7" y2="1533.5" stroke="#a9a9a9" stroke-width="2.6"/><line x1="1607.7" y1="1543.0" x2="1633.5" y2="1533.5" stroke="#7e7e7e" stroke-width="5.2"/><line x1="1607.7" y1="1543.0" x2="1633.5" y2="1533.5" stroke="#a9a9a9" stroke-width="2.6"/><line x1="1646.5" y1="1543.0" x2="1673.7" y2="1533.5" stroke="#7e7e7e" stroke-width="5.2"/><line x1="1646.5" y1="1543.0" x2="1673.7" y2="1533.5" stroke="#a9a9a9" stroke-width="2.6"/><line x1="1687.3" y1="1543.0" x2="1714.5" y2="1533.5" stroke="#7e7e7e" stroke-width="5.2"/><line x1="1687.3" y1="1543.0" x2="1714.5" y2="1533.5" stroke="#a9a9a9" stroke-width="2.6"/><line x1="1727.4" y1="1543.0" x2="1755.3" y2="1533.5" stroke="#7e7e7e" stroke-width="5.2"/><line x1="1727.4" y1="1543.0" x2="1755.3" y2="1533.5" stroke="#a9a9a9" stroke-width="2.6"/><line x1="1768.2" y1="1543.0" x2="1795.4" y2="1533.5" stroke="#7e7e7e" stroke-width="5.2"/><line x1="1768.2" y1="1543.0" x2="1795.4" y2="1533.5" stroke="#a9a9a9" stroke-width="2.6"/><line x1="1807.7" y1="1543.0" x2="1836.3" y2="1533.5" stroke="#7e7e7e" stroke-width="5.2"/><line x1="1807.7" y1="1543.0" x2="1836.3" y2="1533.5" stroke="#a9a9a9" stroke-width="2.6"/><line x1="1566.9" y1="1570.2" x2="1578.4" y2="1579.0" stroke="#7e7e7e" stroke-width="5.2"/><line x1="1566.9" y1="1570.2" x2="1578.4" y2="1579.0" stroke="#a9a9a9" stroke-width="2.6"/><line x1="1607.7" y1="1570.2" x2="1619.3" y2="1579.0" stroke="#7e7e7e" stroke-width="5.2"/><line x1="1607.7" y1="1570.2" x2="1619.3" y2="1579.0" stroke="#a9a9a9" stroke-width="2.6"/><line x1="1646.5" y1="1570.2" x2="1660.1" y2="1579.0" stroke="#7e7e7e" stroke-width="5.2"/><line x1="1646.5" y1="1570.2" x2="1660.1" y2="1579.0" stroke="#a9a9a9" stroke-width="2.6"/><line x1="1687.3" y1="1570.2" x2="1700.9" y2="1579.0" stroke="#7e7e7e" stroke-width="5.2"/><line x1="1687.3" y1="1570.2" x2="1700.9" y2="1579.0" stroke="#a9a9a9" stroke-width="2.6"/><line x1="1727.4" y1="1570.2" x2="1742.4" y2="1579.0" stroke="#7e7e7e" stroke-width="5.2"/><line x1="1727.4" y1="1570.2" x2="1742.4" y2="1579.0" stroke="#a9a9a9" stroke-width="2.6"/><line x1="1768.2" y1="1570.2" x2="1783.2" y2="1579.0" stroke="#7e7e7e" stroke-width="5.2"/><line x1="1768.2" y1="1570.2" x2="1783.2" y2="1579.0" stroke="#a9a9a9" stroke-width="2.6"/><line x1="1807.7" y1="1570.2" x2="1824.0" y2="1579.0" stroke="#7e7e7e" stroke-width="5.2"/><line x1="1807.7" y1="1570.2" x2="1824.0" y2="1579.0" stroke="#a9a9a9" stroke-width="2.6"/><line x1="1578.4" y1="1579.0" x2="1607.7" y2="1570.2" stroke="#7e7e7e" stroke-width="5.2"/><line x1="1578.4" y1="1579.0" x2="1607.7" y2="1570.2" stroke="#a9a9a9" stroke-width="2.6"/><line x1="1619.3" y1="1579.0" x2="1646.5" y2="1570.2" stroke="#7e7e7e" stroke-width="5.2"/><line x1="1619.3" y1="1579.0" x2="1646.5" y2="1570.2" stroke="#a9a9a9" stroke-width="2.6"/><line x1="1660.1" y1="1579.0" x2="1687.3" y2="1570.2" stroke="#7e7e7e" stroke-width="5.2"/><line x1="1660.1" y1="1579.0" x2="1687.3" y2="1570.2" stroke="#a9a9a9" stroke-width="2.6"/><line x1="1700.9" y1="1579.0" x2="1727.4" y2="1570.2" stroke="#7e7e7e" stroke-width="5.2"/><line x1="1700.9" y1="1579.0" x2="1727.4" y2="1570.2" stroke="#a9a9a9" stroke-width="2.6"/><line x1="1742.4" y1="1579.0" x2="1768.2" y2="1570.2" stroke="#7e7e7e" stroke-width="5.2"/><line x1="1742.4" y1="1579.0" x2="1768.2" y2="1570.2" stroke="#a9a9a9" stroke-width="2.6"/><line x1="1783.2" y1="1579.0" x2="1807.7" y2="1570.2" stroke="#7e7e7e" stroke-width="5.2"/><line x1="1783.2" y1="1579.0" x2="1807.7" y2="1570.2" stroke="#a9a9a9" stroke-width="2.6"/><line x1="1824.0" y1="1579.0" x2="1848.5" y2="1570.2" stroke="#7e7e7e" stroke-width="5.2"/><line x1="1824.0" y1="1579.0" x2="1848.5" y2="1570.2" stroke="#a9a9a9" stroke-width="2.6"/><circle cx="1592.7" cy="1396.1" r="7.4" fill="url(#sphD)" stroke="#555" stroke-width="0.8"/><circle cx="1633.5" cy="1396.1" r="7.4" fill="url(#sphD)" stroke="#555" stroke-width="0.8"/><circle cx="1673.7" cy="1396.1" r="7.4" fill="url(#sphD)" stroke="#555" stroke-width="0.8"/><circle cx="1714.5" cy="1396.1" r="7.4" fill="url(#sphD)" stroke="#555" stroke-width="0.8"/><circle cx="1755.3" cy="1396.1" r="7.4" fill="url(#sphD)" stroke="#555" stroke-width="0.8"/><circle cx="1795.4" cy="1396.1" r="7.4" fill="url(#sphD)" stroke="#555" stroke-width="0.8"/><circle cx="1836.3" cy="1396.1" r="7.4" fill="url(#sphD)" stroke="#555" stroke-width="0.8"/><circle cx="1566.9" cy="1404.9" r="7.4" fill="url(#sphD)" stroke="#555" stroke-width="0.8"/><circle cx="1607.7" cy="1404.9" r="7.4" fill="url(#sphD)" stroke="#555" stroke-width="0.8"/><circle cx="1646.5" cy="1404.9" r="7.4" fill="url(#sphD)" stroke="#555" stroke-width="0.8"/><circle cx="1687.3" cy="1404.9" r="7.4" fill="url(#sphD)" stroke="#555" stroke-width="0.8"/><circle cx="1727.4" cy="1404.9" r="7.4" fill="url(#sphD)" stroke="#555" stroke-width="0.8"/><circle cx="1768.2" cy="1404.9" r="7.4" fill="url(#sphD)" stroke="#555" stroke-width="0.8"/><circle cx="1807.7" cy="1404.9" r="7.4" fill="url(#sphD)" stroke="#555" stroke-width="0.8"/><circle cx="1848.5" cy="1404.9" r="7.4" fill="url(#sphD)" stroke="#555" stroke-width="0.8"/><circle cx="1566.9" cy="1430.7" r="7.4" fill="url(#sphD)" stroke="#555" stroke-width="0.8"/><circle cx="1607.7" cy="1430.7" r="7.4" fill="url(#sphD)" stroke="#555" stroke-width="0.8"/><circle cx="1646.5" cy="1430.7" r="7.4" fill="url(#sphD)" stroke="#555" stroke-width="0.8"/><circle cx="1687.3" cy="1430.7" r="7.4" fill="url(#sphD)" stroke="#555" stroke-width="0.8"/><circle cx="1727.4" cy="1430.7" r="7.4" fill="url(#sphD)" stroke="#555" stroke-width="0.8"/><circle cx="1768.2" cy="1430.7" r="7.4" fill="url(#sphD)" stroke="#555" stroke-width="0.8"/><circle cx="1807.7" cy="1430.7" r="7.4" fill="url(#sphD)" stroke="#555" stroke-width="0.8"/><circle cx="1848.5" cy="1430.7" r="7.4" fill="url(#sphD)" stroke="#555" stroke-width="0.8"/><circle cx="1578.4" cy="1439.6" r="7.4" fill="url(#sphD)" stroke="#555" stroke-width="0.8"/><circle cx="1619.3" cy="1439.6" r="7.4" fill="url(#sphD)" stroke="#555" stroke-width="0.8"/><circle cx="1660.1" cy="1439.6" r="7.4" fill="url(#sphD)" stroke="#555" stroke-width="0.8"/><circle cx="1700.9" cy="1439.6" r="7.4" fill="url(#sphD)" stroke="#555" stroke-width="0.8"/><circle cx="1742.4" cy="1439.6" r="7.4" fill="url(#sphD)" stroke="#555" stroke-width="0.8"/><circle cx="1783.2" cy="1439.6" r="7.4" fill="url(#sphD)" stroke="#555" stroke-width="0.8"/><circle cx="1824.0" cy="1439.6" r="7.4" fill="url(#sphD)" stroke="#555" stroke-width="0.8"/><circle cx="1578.4" cy="1497.4" r="7.4" fill="url(#sphD)" stroke="#555" stroke-width="0.8"/><circle cx="1619.3" cy="1497.4" r="7.4" fill="url(#sphD)" stroke="#555" stroke-width="0.8"/><circle cx="1660.1" cy="1497.4" r="7.4" fill="url(#sphD)" stroke="#555" stroke-width="0.8"/><circle cx="1700.9" cy="1497.4" r="7.4" fill="url(#sphD)" stroke="#555" stroke-width="0.8"/><circle cx="1742.4" cy="1497.4" r="7.4" fill="url(#sphD)" stroke="#555" stroke-width="0.8"/><circle cx="1783.2" cy="1497.4" r="7.4" fill="url(#sphD)" stroke="#555" stroke-width="0.8"/><circle cx="1824.0" cy="1497.4" r="7.4" fill="url(#sphD)" stroke="#555" stroke-width="0.8"/><circle cx="1592.7" cy="1506.3" r="7.4" fill="url(#sphD)" stroke="#555" stroke-width="0.8"/><circle cx="1633.5" cy="1506.3" r="7.4" fill="url(#sphD)" stroke="#555" stroke-width="0.8"/><circle cx="1673.7" cy="1506.3" r="7.4" fill="url(#sphD)" stroke="#555" stroke-width="0.8"/><circle cx="1714.5" cy="1506.3" r="7.4" fill="url(#sphD)" stroke="#555" stroke-width="0.8"/><circle cx="1755.3" cy="1506.3" r="7.4" fill="url(#sphD)" stroke="#555" stroke-width="0.8"/><circle cx="1795.4" cy="1506.3" r="7.4" fill="url(#sphD)" stroke="#555" stroke-width="0.8"/><circle cx="1836.3" cy="1506.3" r="7.4" fill="url(#sphD)" stroke="#555" stroke-width="0.8"/><circle cx="1592.7" cy="1533.5" r="7.4" fill="url(#sphD)" stroke="#555" stroke-width="0.8"/><circle cx="1633.5" cy="1533.5" r="7.4" fill="url(#sphD)" stroke="#555" stroke-width="0.8"/><circle cx="1673.7" cy="1533.5" r="7.4" fill="url(#sphD)" stroke="#555" stroke-width="0.8"/><circle cx="1714.5" cy="1533.5" r="7.4" fill="url(#sphD)" stroke="#555" stroke-width="0.8"/><circle cx="1755.3" cy="1533.5" r="7.4" fill="url(#sphD)" stroke="#555" stroke-width="0.8"/><circle cx="1795.4" cy="1533.5" r="7.4" fill="url(#sphD)" stroke="#555" stroke-width="0.8"/><circle cx="1836.3" cy="1533.5" r="7.4" fill="url(#sphD)" stroke="#555" stroke-width="0.8"/><circle cx="1566.9" cy="1543.0" r="7.4" fill="url(#sphD)" stroke="#555" stroke-width="0.8"/><circle cx="1607.7" cy="1543.0" r="7.4" fill="url(#sphD)" stroke="#555" stroke-width="0.8"/><circle cx="1646.5" cy="1543.0" r="7.4" fill="url(#sphD)" stroke="#555" stroke-width="0.8"/><circle cx="1687.3" cy="1543.0" r="7.4" fill="url(#sphD)" stroke="#555" stroke-width="0.8"/><circle cx="1727.4" cy="1543.0" r="7.4" fill="url(#sphD)" stroke="#555" stroke-width="0.8"/><circle cx="1768.2" cy="1543.0" r="7.4" fill="url(#sphD)" stroke="#555" stroke-width="0.8"/><circle cx="1807.7" cy="1543.0" r="7.4" fill="url(#sphD)" stroke="#555" stroke-width="0.8"/><circle cx="1848.5" cy="1543.0" r="7.4" fill="url(#sphD)" stroke="#555" stroke-width="0.8"/><circle cx="1566.9" cy="1570.2" r="7.4" fill="url(#sphD)" stroke="#555" stroke-width="0.8"/><circle cx="1607.7" cy="1570.2" r="7.4" fill="url(#sphD)" stroke="#555" stroke-width="0.8"/><circle cx="1646.5" cy="1570.2" r="7.4" fill="url(#sphD)" stroke="#555" stroke-width="0.8"/><circle cx="1687.3" cy="1570.2" r="7.4" fill="url(#sphD)" stroke="#555" stroke-width="0.8"/><circle cx="1727.4" cy="1570.2" r="7.4" fill="url(#sphD)" stroke="#555" stroke-width="0.8"/><circle cx="1768.2" cy="1570.2" r="7.4" fill="url(#sphD)" stroke="#555" stroke-width="0.8"/><circle cx="1807.7" cy="1570.2" r="7.4" fill="url(#sphD)" stroke="#555" stroke-width="0.8"/><circle cx="1848.5" cy="1570.2" r="7.4" fill="url(#sphD)" stroke="#555" stroke-width="0.8"/><circle cx="1578.4" cy="1579.0" r="7.4" fill="url(#sphD)" stroke="#555" stroke-width="0.8"/><circle cx="1619.3" cy="1579.0" r="7.4" fill="url(#sphD)" stroke="#555" stroke-width="0.8"/><circle cx="1660.1" cy="1579.0" r="7.4" fill="url(#sphD)" stroke="#555" stroke-width="0.8"/><circle cx="1700.9" cy="1579.0" r="7.4" fill="url(#sphD)" stroke="#555" stroke-width="0.8"/><circle cx="1742.4" cy="1579.0" r="7.4" fill="url(#sphD)" stroke="#555" stroke-width="0.8"/><circle cx="1783.2" cy="1579.0" r="7.4" fill="url(#sphD)" stroke="#555" stroke-width="0.8"/><circle cx="1824.0" cy="1579.0" r="7.4" fill="url(#sphD)" stroke="#555" stroke-width="0.8"/></g><line x1="1603.6" y1="1439.6" x2="1811.1" y2="1439.6" stroke="#777" stroke-width="3" stroke-dasharray="10 8"/><line x1="1603.6" y1="1469.5" x2="1811.1" y2="1469.5" stroke="#777" stroke-width="3" stroke-dasharray="10 8"/><rect x="1603.6" y="1372.0" width="207.5" height="224.1" fill="none" stroke="#777" stroke-width="4" stroke-dasharray="15.5 14.5"/><path d="M1742.4,1440.0 L1753.4,1454.0 L1742.4,1468.5 L1731.4,1454.0 Z" fill="#fff" stroke="#000" stroke-width="2.2"/><path d="M1731.4,1454.0 L1753.4,1454.0 L1742.4,1469.0 Z" fill="#000"/><path d="M1737.4,1446.0 L1747.4,1446.0 L1742.4,1439.0 Z" fill="#000"/><line x1="1742.4" y1="1440" x2="1742.4" y2="1468" stroke="#000" stroke-width="2"/><text x="1760.5" y="1468.8" font-size="30" fill="#000">D</text>
<path d="M1171.2,1624.6 C1176.8,1621.7 1193.6,1615.9 1204.8,1607.1 C1216.0,1598.3 1227.2,1584.2 1238.5,1571.7 C1249.7,1559.2 1260.9,1544.8 1272.1,1532.3 C1283.3,1519.8 1294.6,1507.8 1305.8,1496.5 C1317.0,1485.2 1328.2,1474.4 1339.4,1464.7 C1350.6,1455.0 1361.9,1446.7 1373.1,1438.6 C1384.3,1430.5 1395.5,1422.7 1406.7,1416.0 C1418.0,1409.3 1429.2,1404.0 1440.4,1398.5 C1451.6,1393.0 1462.8,1387.6 1474.0,1383.1 C1485.3,1378.6 1496.5,1375.3 1507.7,1371.7 C1518.9,1368.1 1530.1,1364.6 1541.4,1361.5 C1552.6,1358.4 1563.8,1355.6 1575.0,1353.1 C1586.2,1350.6 1597.4,1347.9 1608.7,1346.3 C1619.9,1344.7 1631.1,1344.1 1642.3,1343.3 C1653.5,1342.5 1664.8,1342.0 1676.0,1341.3 C1687.2,1340.6 1698.4,1339.6 1709.6,1339.0 C1720.8,1338.4 1732.1,1338.1 1743.3,1337.7 C1754.5,1337.3 1765.7,1337.1 1776.9,1336.8 C1788.2,1336.5 1799.4,1336.3 1810.6,1336.1 C1821.8,1335.9 1838.6,1335.5 1844.2,1335.4" fill="none" stroke="#7FC8EA" stroke-width="1.8" stroke-dasharray="7 5"/>
<circle cx="1171.2" cy="1624.6" r="8.8" fill="#fff" stroke="#93D3F0" stroke-width="2.4"/>
<circle cx="1204.8" cy="1607.1" r="8.8" fill="#fff" stroke="#93D3F0" stroke-width="2.4"/>
<circle cx="1238.5" cy="1571.7" r="8.8" fill="#fff" stroke="#93D3F0" stroke-width="2.4"/>
<circle cx="1272.1" cy="1532.3" r="8.8" fill="#fff" stroke="#93D3F0" stroke-width="2.4"/>
<circle cx="1305.8" cy="1496.5" r="8.8" fill="#fff" stroke="#93D3F0" stroke-width="2.4"/>
<circle cx="1339.4" cy="1464.7" r="8.8" fill="#fff" stroke="#93D3F0" stroke-width="2.4"/>
<circle cx="1373.1" cy="1438.6" r="8.8" fill="#fff" stroke="#93D3F0" stroke-width="2.4"/>
<circle cx="1406.7" cy="1416.0" r="8.8" fill="#fff" stroke="#93D3F0" stroke-width="2.4"/>
<circle cx="1440.4" cy="1398.5" r="8.8" fill="#fff" stroke="#93D3F0" stroke-width="2.4"/>
<circle cx="1474.0" cy="1383.1" r="8.8" fill="#fff" stroke="#93D3F0" stroke-width="2.4"/>
<circle cx="1507.7" cy="1371.7" r="8.8" fill="#fff" stroke="#93D3F0" stroke-width="2.4"/>
<circle cx="1541.4" cy="1361.5" r="8.8" fill="#fff" stroke="#93D3F0" stroke-width="2.4"/>
<circle cx="1575.0" cy="1353.1" r="8.8" fill="#fff" stroke="#93D3F0" stroke-width="2.4"/>
<circle cx="1608.7" cy="1346.3" r="8.8" fill="#fff" stroke="#93D3F0" stroke-width="2.4"/>
<circle cx="1642.3" cy="1343.3" r="8.8" fill="#fff" stroke="#93D3F0" stroke-width="2.4"/>
<circle cx="1676.0" cy="1341.3" r="8.8" fill="#fff" stroke="#93D3F0" stroke-width="2.4"/>
<circle cx="1709.6" cy="1339.0" r="8.8" fill="#fff" stroke="#93D3F0" stroke-width="2.4"/>
<circle cx="1743.3" cy="1337.7" r="8.8" fill="#fff" stroke="#93D3F0" stroke-width="2.4"/>
<circle cx="1776.9" cy="1336.8" r="8.8" fill="#fff" stroke="#93D3F0" stroke-width="2.4"/>
<circle cx="1810.6" cy="1336.1" r="8.8" fill="#fff" stroke="#93D3F0" stroke-width="2.4"/>
<circle cx="1844.2" cy="1335.4" r="8.8" fill="#fff" stroke="#93D3F0" stroke-width="2.4"/>
<path d="M1171.2,1605.3 C1176.8,1603.0 1193.6,1599.3 1204.8,1591.2 C1216.0,1583.1 1227.2,1570.3 1238.5,1556.6 C1249.7,1542.9 1260.9,1523.4 1272.1,1508.9 C1283.3,1494.4 1294.6,1480.1 1305.8,1469.7 C1317.0,1459.3 1328.2,1454.0 1339.4,1446.6 C1350.6,1439.1 1361.9,1431.8 1373.1,1425.0 C1384.3,1418.2 1395.5,1411.6 1406.7,1405.8 C1418.0,1400.0 1429.2,1394.2 1440.4,1389.9 C1451.6,1385.6 1462.8,1382.9 1474.0,1379.7 C1485.3,1376.5 1496.5,1373.5 1507.7,1371.0 C1518.9,1368.5 1530.1,1366.0 1541.4,1364.5 C1552.6,1363.0 1563.8,1362.9 1575.0,1362.2 C1586.2,1361.5 1597.4,1360.8 1608.7,1360.3 C1619.9,1359.8 1631.1,1359.8 1642.3,1359.4 C1653.5,1359.0 1664.8,1358.6 1676.0,1358.1 C1687.2,1357.6 1698.4,1356.8 1709.6,1356.5 C1720.8,1356.2 1732.1,1356.2 1743.3,1356.0 C1754.5,1355.8 1765.7,1355.5 1776.9,1355.4 C1788.2,1355.3 1799.4,1355.4 1810.6,1355.2 C1821.8,1355.0 1838.6,1354.4 1844.2,1354.2" fill="none" stroke="#7FC8EA" stroke-width="1.8"/>
<circle cx="1171.2" cy="1605.3" r="9.5" fill="url(#sphB)" stroke="#86CBEB" stroke-width="1"/>
<circle cx="1204.8" cy="1591.2" r="9.5" fill="url(#sphB)" stroke="#86CBEB" stroke-width="1"/>
<circle cx="1238.5" cy="1556.6" r="9.5" fill="url(#sphB)" stroke="#86CBEB" stroke-width="1"/>
<circle cx="1272.1" cy="1508.9" r="9.5" fill="url(#sphB)" stroke="#86CBEB" stroke-width="1"/>
<circle cx="1305.8" cy="1469.7" r="9.5" fill="url(#sphB)" stroke="#86CBEB" stroke-width="1"/>
<circle cx="1339.4" cy="1446.6" r="9.5" fill="url(#sphB)" stroke="#86CBEB" stroke-width="1"/>
<circle cx="1373.1" cy="1425.0" r="9.5" fill="url(#sphB)" stroke="#86CBEB" stroke-width="1"/>
<circle cx="1406.7" cy="1405.8" r="9.5" fill="url(#sphB)" stroke="#86CBEB" stroke-width="1"/>
<circle cx="1440.4" cy="1389.9" r="9.5" fill="url(#sphB)" stroke="#86CBEB" stroke-width="1"/>
<circle cx="1474.0" cy="1379.7" r="9.5" fill="url(#sphB)" stroke="#86CBEB" stroke-width="1"/>
<circle cx="1507.7" cy="1371.0" r="9.5" fill="url(#sphB)" stroke="#86CBEB" stroke-width="1"/>
<circle cx="1541.4" cy="1364.5" r="9.5" fill="url(#sphB)" stroke="#86CBEB" stroke-width="1"/>
<circle cx="1575.0" cy="1362.2" r="9.5" fill="url(#sphB)" stroke="#86CBEB" stroke-width="1"/>
<circle cx="1608.7" cy="1360.3" r="9.5" fill="url(#sphB)" stroke="#86CBEB" stroke-width="1"/>
<circle cx="1642.3" cy="1359.4" r="9.5" fill="url(#sphB)" stroke="#86CBEB" stroke-width="1"/>
<circle cx="1676.0" cy="1358.1" r="9.5" fill="url(#sphB)" stroke="#86CBEB" stroke-width="1"/>
<circle cx="1709.6" cy="1356.5" r="9.5" fill="url(#sphB)" stroke="#86CBEB" stroke-width="1"/>
<circle cx="1743.3" cy="1356.0" r="9.5" fill="url(#sphB)" stroke="#86CBEB" stroke-width="1"/>
<circle cx="1776.9" cy="1355.4" r="9.5" fill="url(#sphB)" stroke="#86CBEB" stroke-width="1"/>
<circle cx="1810.6" cy="1355.2" r="9.5" fill="url(#sphB)" stroke="#86CBEB" stroke-width="1"/>
<circle cx="1844.2" cy="1354.2" r="9.5" fill="url(#sphB)" stroke="#86CBEB" stroke-width="1"/>
<path d="M1171.2,1601.9 L1204.8,1619.4 L1238.5,1618.9 L1272.1,1589.0 L1305.8,1579.2 L1339.4,1608.0 L1373.1,1626.2 L1406.7,1636.6 L1440.4,1644.3 L1474.0,1655.9 L1507.7,1663.8 L1541.4,1648.2 L1575.0,1635.4 L1608.7,1625.2 L1642.3,1618.4 L1676.0,1613.9 L1709.6,1611.1 L1743.3,1610.5 L1776.9,1609.3 L1810.6,1608.2 L1844.2,1607.5" fill="none" stroke="#BDBDBD" stroke-width="1.2" stroke-dasharray="10 9"/>
<circle cx="1171.2" cy="1601.9" r="8.3" fill="#fff" stroke="#ABABAB" stroke-width="3"/><ellipse cx="1171.2" cy="1600.9" rx="2.4" ry="1.5" fill="#ABABAB"/>
<circle cx="1204.8" cy="1619.4" r="8.3" fill="#fff" stroke="#ABABAB" stroke-width="3"/><ellipse cx="1204.8" cy="1618.4" rx="2.4" ry="1.5" fill="#ABABAB"/>
<circle cx="1238.5" cy="1618.9" r="8.3" fill="#fff" stroke="#ABABAB" stroke-width="3"/><ellipse cx="1238.5" cy="1617.9" rx="2.4" ry="1.5" fill="#ABABAB"/>
<circle cx="1272.1" cy="1589.0" r="8.3" fill="#fff" stroke="#ABABAB" stroke-width="3"/><ellipse cx="1272.1" cy="1588.0" rx="2.4" ry="1.5" fill="#ABABAB"/>
<circle cx="1305.8" cy="1579.2" r="8.3" fill="#fff" stroke="#ABABAB" stroke-width="3"/><ellipse cx="1305.8" cy="1578.2" rx="2.4" ry="1.5" fill="#ABABAB"/>
<circle cx="1339.4" cy="1608.0" r="8.3" fill="#fff" stroke="#ABABAB" stroke-width="3"/><ellipse cx="1339.4" cy="1607.0" rx="2.4" ry="1.5" fill="#ABABAB"/>
<circle cx="1373.1" cy="1626.2" r="8.3" fill="#fff" stroke="#ABABAB" stroke-width="3"/><ellipse cx="1373.1" cy="1625.2" rx="2.4" ry="1.5" fill="#ABABAB"/>
<circle cx="1406.7" cy="1636.6" r="8.3" fill="#fff" stroke="#ABABAB" stroke-width="3"/><ellipse cx="1406.7" cy="1635.6" rx="2.4" ry="1.5" fill="#ABABAB"/>
<circle cx="1440.4" cy="1644.3" r="8.3" fill="#fff" stroke="#ABABAB" stroke-width="3"/><ellipse cx="1440.4" cy="1643.3" rx="2.4" ry="1.5" fill="#ABABAB"/>
<circle cx="1474.0" cy="1655.9" r="8.3" fill="#fff" stroke="#ABABAB" stroke-width="3"/><ellipse cx="1474.0" cy="1654.9" rx="2.4" ry="1.5" fill="#ABABAB"/>
<circle cx="1507.7" cy="1663.8" r="8.3" fill="#fff" stroke="#ABABAB" stroke-width="3"/><ellipse cx="1507.7" cy="1662.8" rx="2.4" ry="1.5" fill="#ABABAB"/>
<circle cx="1541.4" cy="1648.2" r="8.3" fill="#fff" stroke="#ABABAB" stroke-width="3"/><ellipse cx="1541.4" cy="1647.2" rx="2.4" ry="1.5" fill="#ABABAB"/>
<circle cx="1575.0" cy="1635.4" r="8.3" fill="#fff" stroke="#ABABAB" stroke-width="3"/><ellipse cx="1575.0" cy="1634.4" rx="2.4" ry="1.5" fill="#ABABAB"/>
<circle cx="1608.7" cy="1625.2" r="8.3" fill="#fff" stroke="#ABABAB" stroke-width="3"/><ellipse cx="1608.7" cy="1624.2" rx="2.4" ry="1.5" fill="#ABABAB"/>
<circle cx="1642.3" cy="1618.4" r="8.3" fill="#fff" stroke="#ABABAB" stroke-width="3"/><ellipse cx="1642.3" cy="1617.4" rx="2.4" ry="1.5" fill="#ABABAB"/>
<circle cx="1676.0" cy="1613.9" r="8.3" fill="#fff" stroke="#ABABAB" stroke-width="3"/><ellipse cx="1676.0" cy="1612.9" rx="2.4" ry="1.5" fill="#ABABAB"/>
<circle cx="1709.6" cy="1611.1" r="8.3" fill="#fff" stroke="#ABABAB" stroke-width="3"/><ellipse cx="1709.6" cy="1610.1" rx="2.4" ry="1.5" fill="#ABABAB"/>
<circle cx="1743.3" cy="1610.5" r="8.3" fill="#fff" stroke="#ABABAB" stroke-width="3"/><ellipse cx="1743.3" cy="1609.5" rx="2.4" ry="1.5" fill="#ABABAB"/>
<circle cx="1776.9" cy="1609.3" r="8.3" fill="#fff" stroke="#ABABAB" stroke-width="3"/><ellipse cx="1776.9" cy="1608.3" rx="2.4" ry="1.5" fill="#ABABAB"/>
<circle cx="1810.6" cy="1608.2" r="8.3" fill="#fff" stroke="#ABABAB" stroke-width="3"/><ellipse cx="1810.6" cy="1607.2" rx="2.4" ry="1.5" fill="#ABABAB"/>
<circle cx="1844.2" cy="1607.5" r="8.3" fill="#fff" stroke="#ABABAB" stroke-width="3"/><ellipse cx="1844.2" cy="1606.5" rx="2.4" ry="1.5" fill="#ABABAB"/>
</g>
<line x1="1700.0" y1="1257.9" x2="1773.0" y2="1257.9" stroke="#7FC8EA" stroke-width="1.8"/>
<circle cx="1736.5" cy="1257.9" r="9.5" fill="url(#sphB)" stroke="#86CBEB" stroke-width="1"/>
<line x1="1700.0" y1="1295.9" x2="1773.0" y2="1295.9" stroke="#7FC8EA" stroke-width="1.8" stroke-dasharray="7 5"/>
<circle cx="1736.5" cy="1295.9" r="8.8" fill="#fff" stroke="#93D3F0" stroke-width="2.4"/>
<text x="1800.0" y="1268.7" font-size="32" fill="#000">MLP</text>
<text x="1800.0" y="1306.7" font-size="32" fill="#000">DFT</text>
<line x1="1171.2" y1="1689.8" x2="1171.2" y2="1699.8" stroke="#000" stroke-width="2"/>
<text x="1171.2" y="1731.3" font-size="31.5" text-anchor="middle">0.0</text>
<line x1="1213.2" y1="1689.8" x2="1213.2" y2="1694.6" stroke="#000" stroke-width="2"/>
<line x1="1255.3" y1="1689.8" x2="1255.3" y2="1699.8" stroke="#000" stroke-width="2"/>
<text x="1255.3" y="1731.3" font-size="31.5" text-anchor="middle">0.5</text>
<line x1="1297.4" y1="1689.8" x2="1297.4" y2="1694.6" stroke="#000" stroke-width="2"/>
<line x1="1339.4" y1="1689.8" x2="1339.4" y2="1699.8" stroke="#000" stroke-width="2"/>
<text x="1339.4" y="1731.3" font-size="31.5" text-anchor="middle">1.0</text>
<line x1="1381.5" y1="1689.8" x2="1381.5" y2="1694.6" stroke="#000" stroke-width="2"/>
<line x1="1423.6" y1="1689.8" x2="1423.6" y2="1699.8" stroke="#000" stroke-width="2"/>
<text x="1423.6" y="1731.3" font-size="31.5" text-anchor="middle">1.5</text>
<line x1="1465.6" y1="1689.8" x2="1465.6" y2="1694.6" stroke="#000" stroke-width="2"/>
<line x1="1507.7" y1="1689.8" x2="1507.7" y2="1699.8" stroke="#000" stroke-width="2"/>
<text x="1507.7" y="1731.3" font-size="31.5" text-anchor="middle">2.0</text>
<line x1="1549.8" y1="1689.8" x2="1549.8" y2="1694.6" stroke="#000" stroke-width="2"/>
<line x1="1591.8" y1="1689.8" x2="1591.8" y2="1699.8" stroke="#000" stroke-width="2"/>
<text x="1591.8" y="1731.3" font-size="31.5" text-anchor="middle">2.5</text>
<line x1="1633.9" y1="1689.8" x2="1633.9" y2="1694.6" stroke="#000" stroke-width="2"/>
<line x1="1676.0" y1="1689.8" x2="1676.0" y2="1699.8" stroke="#000" stroke-width="2"/>
<text x="1676.0" y="1731.3" font-size="31.5" text-anchor="middle">3.0</text>
<line x1="1718.0" y1="1689.8" x2="1718.0" y2="1694.6" stroke="#000" stroke-width="2"/>
<line x1="1760.1" y1="1689.8" x2="1760.1" y2="1699.8" stroke="#000" stroke-width="2"/>
<text x="1760.1" y="1731.3" font-size="31.5" text-anchor="middle">3.5</text>
<line x1="1802.2" y1="1689.8" x2="1802.2" y2="1694.6" stroke="#000" stroke-width="2"/>
<line x1="1844.2" y1="1689.8" x2="1844.2" y2="1699.8" stroke="#000" stroke-width="2"/>
<text x="1844.2" y="1731.3" font-size="31.5" text-anchor="middle">4.0</text>
<line x1="1128.0" y1="1689.8" x2="1137.5" y2="1689.8" stroke="#86C5EB" stroke-width="2"/>
<text x="1121.0" y="1699.3" font-size="31.5" text-anchor="end" fill="#86C5EB">-8.2</text>
<line x1="1133.0" y1="1656.8" x2="1137.5" y2="1656.8" stroke="#86C5EB" stroke-width="2"/>
<line x1="1128.0" y1="1623.7" x2="1137.5" y2="1623.7" stroke="#86C5EB" stroke-width="2"/>
<text x="1121.0" y="1633.2" font-size="31.5" text-anchor="end" fill="#86C5EB">-8.1</text>
<line x1="1133.0" y1="1590.7" x2="1137.5" y2="1590.7" stroke="#86C5EB" stroke-width="2"/>
<line x1="1128.0" y1="1557.7" x2="1137.5" y2="1557.7" stroke="#86C5EB" stroke-width="2"/>
<text x="1121.0" y="1567.2" font-size="31.5" text-anchor="end" fill="#86C5EB">-8.0</text>
<line x1="1133.0" y1="1524.7" x2="1137.5" y2="1524.7" stroke="#86C5EB" stroke-width="2"/>
<line x1="1128.0" y1="1491.6" x2="1137.5" y2="1491.6" stroke="#86C5EB" stroke-width="2"/>
<text x="1121.0" y="1501.1" font-size="31.5" text-anchor="end" fill="#86C5EB">-7.9</text>
<line x1="1133.0" y1="1458.6" x2="1137.5" y2="1458.6" stroke="#86C5EB" stroke-width="2"/>
<line x1="1128.0" y1="1425.6" x2="1137.5" y2="1425.6" stroke="#86C5EB" stroke-width="2"/>
<text x="1121.0" y="1435.1" font-size="31.5" text-anchor="end" fill="#86C5EB">-7.8</text>
<line x1="1133.0" y1="1392.5" x2="1137.5" y2="1392.5" stroke="#86C5EB" stroke-width="2"/>
<line x1="1128.0" y1="1359.5" x2="1137.5" y2="1359.5" stroke="#86C5EB" stroke-width="2"/>
<text x="1121.0" y="1369.0" font-size="31.5" text-anchor="end" fill="#86C5EB">-7.7</text>
<line x1="1133.0" y1="1326.5" x2="1137.5" y2="1326.5" stroke="#86C5EB" stroke-width="2"/>
<line x1="1128.0" y1="1293.5" x2="1137.5" y2="1293.5" stroke="#86C5EB" stroke-width="2"/>
<text x="1121.0" y="1303.0" font-size="31.5" text-anchor="end" fill="#86C5EB">-7.6</text>
<line x1="1133.0" y1="1260.4" x2="1137.5" y2="1260.4" stroke="#86C5EB" stroke-width="2"/>
<line x1="1128.0" y1="1227.4" x2="1137.5" y2="1227.4" stroke="#86C5EB" stroke-width="2"/>
<text x="1121.0" y="1236.9" font-size="31.5" text-anchor="end" fill="#86C5EB">-7.5</text>
<line x1="1877.9" y1="1667.8" x2="1886.9" y2="1667.8" stroke="#777" stroke-width="1.6"/>
<text x="1892.9" y="1678.3" font-size="31.5" fill="#6E6E6E">0</text>
<line x1="1877.9" y1="1623.7" x2="1882.1" y2="1623.7" stroke="#777" stroke-width="1.6"/>
<line x1="1877.9" y1="1579.7" x2="1886.9" y2="1579.7" stroke="#777" stroke-width="1.6"/>
<text x="1892.9" y="1590.2" font-size="31.5" fill="#6E6E6E">40</text>
<line x1="1877.9" y1="1535.7" x2="1882.1" y2="1535.7" stroke="#777" stroke-width="1.6"/>
<line x1="1877.9" y1="1491.6" x2="1886.9" y2="1491.6" stroke="#777" stroke-width="1.6"/>
<text x="1892.9" y="1502.1" font-size="31.5" fill="#6E6E6E">80</text>
<line x1="1877.9" y1="1447.6" x2="1882.1" y2="1447.6" stroke="#777" stroke-width="1.6"/>
<line x1="1877.9" y1="1403.6" x2="1886.9" y2="1403.6" stroke="#777" stroke-width="1.6"/>
<text x="1892.9" y="1414.1" font-size="31.5" fill="#6E6E6E">120</text>
<line x1="1877.9" y1="1359.5" x2="1882.1" y2="1359.5" stroke="#777" stroke-width="1.6"/>
<line x1="1877.9" y1="1315.5" x2="1886.9" y2="1315.5" stroke="#777" stroke-width="1.6"/>
<text x="1892.9" y="1326.0" font-size="31.5" fill="#6E6E6E">160</text>
<line x1="1877.9" y1="1271.4" x2="1882.1" y2="1271.4" stroke="#777" stroke-width="1.6"/>
<line x1="1877.9" y1="1227.4" x2="1886.9" y2="1227.4" stroke="#777" stroke-width="1.6"/>
<text x="1892.9" y="1237.9" font-size="31.5" fill="#6E6E6E">200</text>
<line x1="1137.5" y1="1227.4" x2="1879.2" y2="1227.4" stroke="#000" stroke-width="2.6"/>
<line x1="1137.5" y1="1689.8" x2="1879.2" y2="1689.8" stroke="#000" stroke-width="2.6"/>
<line x1="1877.9" y1="1227.4" x2="1877.9" y2="1689.8" stroke="#111" stroke-width="2.2"/>
<line x1="1137.5" y1="1226.1" x2="1137.5" y2="1691.1" stroke="#86C5EB" stroke-width="2.6"/>
<text transform="translate(1052.0,1458.6) rotate(-90)" font-size="34" text-anchor="middle" fill="#86C5EB">Energy (eV/atom)</text>
<text transform="translate(1984.9,1458.6) rotate(-90)" font-size="34" text-anchor="middle" fill="#6E6E6E">Energy error (meV/atom)</text>
<text x="1507.7" y="1772.8" font-size="34" text-anchor="middle">Distance(Å)</text>
<text x="1003.0" y="1210.2" font-size="45" font-weight="bold">(f)</text>
<g clip-path="url(#clipg)">
<g clip-path="url(#ib10)"><line x1="440.0" y1="1962.0" x2="640.0" y2="1955.0" stroke="#8a8a8a" stroke-width="12.0"/><line x1="440.0" y1="1962.0" x2="640.0" y2="1955.0" stroke="#c2c2c2" stroke-width="9.4"/><line x1="498.0" y1="1953.6" x2="498.0" y2="1931.8" stroke="#7fd8d2" stroke-width="6.0"/><line x1="498.0" y1="1953.6" x2="498.0" y2="1931.8" stroke="#b8f4f0" stroke-width="3.4"/><line x1="556.0" y1="1953.6" x2="556.0" y2="1931.8" stroke="#7fd8d2" stroke-width="6.0"/><line x1="556.0" y1="1953.6" x2="556.0" y2="1931.8" stroke="#b8f4f0" stroke-width="3.4"/><line x1="614.0" y1="1953.6" x2="614.0" y2="1931.8" stroke="#7fd8d2" stroke-width="6.0"/><line x1="614.0" y1="1953.6" x2="614.0" y2="1931.8" stroke="#b8f4f0" stroke-width="3.4"/><line x1="478.0" y1="1958.6" x2="478.6" y2="1979.8" stroke="#7fd8d2" stroke-width="6.0"/><line x1="478.0" y1="1958.6" x2="478.6" y2="1979.8" stroke="#b8f4f0" stroke-width="3.4"/><line x1="536.0" y1="1958.0" x2="536.0" y2="1979.8" stroke="#7fd8d2" stroke-width="6.0"/><line x1="536.0" y1="1958.0" x2="536.0" y2="1979.8" stroke="#b8f4f0" stroke-width="3.4"/><line x1="594.6" y1="1958.6" x2="594.6" y2="1979.8" stroke="#7fd8d2" stroke-width="6.0"/><line x1="594.6" y1="1958.6" x2="594.6" y2="1979.8" stroke="#b8f4f0" stroke-width="3.4"/><circle cx="488.0" cy="1955.0" r="8.5" fill="url(#sphG)" stroke="#6d6d6d" stroke-width="0.9"/><circle cx="546.0" cy="1955.0" r="8.5" fill="url(#sphG)" stroke="#6d6d6d" stroke-width="0.9"/><circle cx="604.0" cy="1955.0" r="8.5" fill="url(#sphG)" stroke="#6d6d6d" stroke-width="0.9"/><circle cx="478.0" cy="1958.6" r="12.5" fill="url(#sphG)" stroke="#6d6d6d" stroke-width="0.9"/><circle cx="498.0" cy="1953.6" r="12.5" fill="url(#sphG)" stroke="#6d6d6d" stroke-width="0.9"/><circle cx="536.0" cy="1958.0" r="12.5" fill="url(#sphG)" stroke="#6d6d6d" stroke-width="0.9"/><circle cx="556.0" cy="1953.6" r="12.5" fill="url(#sphG)" stroke="#6d6d6d" stroke-width="0.9"/><circle cx="594.6" cy="1958.6" r="12.5" fill="url(#sphG)" stroke="#6d6d6d" stroke-width="0.9"/><circle cx="614.0" cy="1953.6" r="12.5" fill="url(#sphG)" stroke="#6d6d6d" stroke-width="0.9"/><circle cx="498.0" cy="1931.8" r="7.8" fill="url(#sphC)" stroke="#4f9c98" stroke-width="0.9"/><circle cx="556.0" cy="1931.8" r="7.8" fill="url(#sphC)" stroke="#4f9c98" stroke-width="0.9"/><circle cx="614.0" cy="1931.8" r="7.8" fill="url(#sphC)" stroke="#4f9c98" stroke-width="0.9"/><circle cx="478.6" cy="1979.8" r="7.8" fill="url(#sphC)" stroke="#4f9c98" stroke-width="0.9"/><circle cx="536.0" cy="1979.8" r="7.8" fill="url(#sphC)" stroke="#4f9c98" stroke-width="0.9"/><circle cx="594.6" cy="1979.8" r="7.8" fill="url(#sphC)" stroke="#4f9c98" stroke-width="0.9"/><line x1="447.5" y1="1961.0" x2="633.3" y2="1961.0" stroke="#777" stroke-width="3" stroke-dasharray="10 8"/><line x1="440.0" y1="2032.0" x2="640.0" y2="2038.0" stroke="#8a8a8a" stroke-width="12.0"/><line x1="440.0" y1="2032.0" x2="640.0" y2="2038.0" stroke="#c2c2c2" stroke-width="9.4"/><line x1="458.7" y1="2032.8" x2="459.3" y2="2010.4" stroke="#7fd8d2" stroke-width="6.0"/><line x1="458.7" y1="2032.8" x2="459.3" y2="2010.4" stroke="#b8f4f0" stroke-width="3.4"/><line x1="517.3" y1="2032.2" x2="517.3" y2="2010.4" stroke="#7fd8d2" stroke-width="6.0"/><line x1="517.3" y1="2032.2" x2="517.3" y2="2010.4" stroke="#b8f4f0" stroke-width="3.4"/><line x1="575.3" y1="2032.2" x2="575.3" y2="2010.4" stroke="#7fd8d2" stroke-width="6.0"/><line x1="575.3" y1="2032.2" x2="575.3" y2="2010.4" stroke="#b8f4f0" stroke-width="3.4"/><line x1="497.3" y1="2038.4" x2="498.0" y2="2059.6" stroke="#7fd8d2" stroke-width="6.0"/><line x1="497.3" y1="2038.4" x2="498.0" y2="2059.6" stroke="#b8f4f0" stroke-width="3.4"/><line x1="555.3" y1="2038.4" x2="556.0" y2="2059.6" stroke="#7fd8d2" stroke-width="6.0"/><line x1="555.3" y1="2038.4" x2="556.0" y2="2059.6" stroke="#b8f4f0" stroke-width="3.4"/><line x1="614.0" y1="2038.4" x2="614.0" y2="2059.6" stroke="#7fd8d2" stroke-width="6.0"/><line x1="614.0" y1="2038.4" x2="614.0" y2="2059.6" stroke="#b8f4f0" stroke-width="3.4"/><circle cx="468.0" cy="2035.0" r="8.5" fill="url(#sphG)" stroke="#6d6d6d" stroke-width="0.9"/><circle cx="526.0" cy="2035.0" r="8.5" fill="url(#sphG)" stroke="#6d6d6d" stroke-width="0.9"/><circle cx="584.0" cy="2035.0" r="8.5" fill="url(#sphG)" stroke="#6d6d6d" stroke-width="0.9"/><circle cx="610.0" cy="2035.0" r="8.5" fill="url(#sphG)" stroke="#6d6d6d" stroke-width="0.9"/><circle cx="458.7" cy="2032.8" r="12.5" fill="url(#sphG)" stroke="#6d6d6d" stroke-width="0.9"/><circle cx="497.3" cy="2038.4" r="12.5" fill="url(#sphG)" stroke="#6d6d6d" stroke-width="0.9"/><circle cx="517.3" cy="2032.2" r="12.5" fill="url(#sphG)" stroke="#6d6d6d" stroke-width="0.9"/><circle cx="555.3" cy="2038.4" r="12.5" fill="url(#sphG)" stroke="#6d6d6d" stroke-width="0.9"/><circle cx="575.3" cy="2032.2" r="12.5" fill="url(#sphG)" stroke="#6d6d6d" stroke-width="0.9"/><circle cx="614.0" cy="2038.4" r="12.5" fill="url(#sphG)" stroke="#6d6d6d" stroke-width="0.9"/><circle cx="459.3" cy="2010.4" r="7.8" fill="url(#sphC)" stroke="#4f9c98" stroke-width="0.9"/><circle cx="517.3" cy="2010.4" r="7.8" fill="url(#sphC)" stroke="#4f9c98" stroke-width="0.9"/><circle cx="575.3" cy="2010.4" r="7.8" fill="url(#sphC)" stroke="#4f9c98" stroke-width="0.9"/><circle cx="498.0" cy="2059.6" r="7.8" fill="url(#sphC)" stroke="#4f9c98" stroke-width="0.9"/><circle cx="556.0" cy="2059.6" r="7.8" fill="url(#sphC)" stroke="#4f9c98" stroke-width="0.9"/><circle cx="614.0" cy="2059.6" r="7.8" fill="url(#sphC)" stroke="#4f9c98" stroke-width="0.9"/><line x1="447.5" y1="2032.8" x2="633.3" y2="2032.8" stroke="#777" stroke-width="3" stroke-dasharray="10 8"/></g><rect x="447.5" y="1915.0" width="185.8" height="159.0" fill="none" stroke="#777" stroke-width="4" stroke-dasharray="15.5 14.5"/><line x1="554.7" y1="1966.0" x2="554.7" y2="2027.0" stroke="#000" stroke-width="2.2"/><path d="M554.7,1961.0 L567.2,1984.0 L554.7,1974.8 L542.2,1984.0 Z" fill="#000"/><path d="M554.7,2032.0 L567.2,2009.0 L554.7,2018.2 L542.2,2009.0 Z" fill="#000"/><text x="583.0" y="2012.9" font-size="31" fill="#000">D</text><g clip-path="url(#ib11)"><line x1="665.2" y1="1921.3" x2="709.1" y2="1921.3" stroke="#8a8a8a" stroke-width="11.0"/><line x1="665.2" y1="1921.3" x2="709.1" y2="1921.3" stroke="#c2c2c2" stroke-width="8.4"/><line x1="709.1" y1="1921.3" x2="753.1" y2="1921.3" stroke="#8a8a8a" stroke-width="11.0"/><line x1="709.1" y1="1921.3" x2="753.1" y2="1921.3" stroke="#c2c2c2" stroke-width="8.4"/><line x1="797.0" y1="1921.3" x2="840.9" y2="1921.3" stroke="#8a8a8a" stroke-width="11.0"/><line x1="797.0" y1="1921.3" x2="840.9" y2="1921.3" stroke="#c2c2c2" stroke-width="8.4"/><line x1="840.9" y1="1921.3" x2="884.9" y2="1921.3" stroke="#8a8a8a" stroke-width="11.0"/><line x1="840.9" y1="1921.3" x2="884.9" y2="1921.3" stroke="#c2c2c2" stroke-width="8.4"/><line x1="643.2" y1="1954.8" x2="687.2" y2="1954.8" stroke="#8a8a8a" stroke-width="11.0"/><line x1="643.2" y1="1954.8" x2="687.2" y2="1954.8" stroke="#c2c2c2" stroke-width="8.4"/><line x1="731.1" y1="1954.8" x2="775.0" y2="1954.8" stroke="#8a8a8a" stroke-width="11.0"/><line x1="731.1" y1="1954.8" x2="775.0" y2="1954.8" stroke="#c2c2c2" stroke-width="8.4"/><line x1="775.0" y1="1954.8" x2="819.0" y2="1954.8" stroke="#8a8a8a" stroke-width="11.0"/><line x1="775.0" y1="1954.8" x2="819.0" y2="1954.8" stroke="#c2c2c2" stroke-width="8.4"/><line x1="862.9" y1="1954.8" x2="906.8" y2="1954.8" stroke="#8a8a8a" stroke-width="11.0"/><line x1="862.9" y1="1954.8" x2="906.8" y2="1954.8" stroke="#c2c2c2" stroke-width="8.4"/><line x1="665.2" y1="1994.5" x2="709.1" y2="1994.5" stroke="#8a8a8a" stroke-width="11.0"/><line x1="665.2" y1="1994.5" x2="709.1" y2="1994.5" stroke="#c2c2c2" stroke-width="8.4"/><line x1="709.1" y1="1994.5" x2="753.1" y2="1994.5" stroke="#8a8a8a" stroke-width="11.0"/><line x1="709.1" y1="1994.5" x2="753.1" y2="1994.5" stroke="#c2c2c2" stroke-width="8.4"/><line x1="797.0" y1="1994.5" x2="840.9" y2="1994.5" stroke="#8a8a8a" stroke-width="11.0"/><line x1="797.0" y1="1994.5" x2="840.9" y2="1994.5" stroke="#c2c2c2" stroke-width="8.4"/><line x1="840.9" y1="1994.5" x2="884.9" y2="1994.5" stroke="#8a8a8a" stroke-width="11.0"/><line x1="840.9" y1="1994.5" x2="884.9" y2="1994.5" stroke="#c2c2c2" stroke-width="8.4"/><line x1="643.2" y1="2033.6" x2="687.2" y2="2033.6" stroke="#8a8a8a" stroke-width="11.0"/><line x1="643.2" y1="2033.6" x2="687.2" y2="2033.6" stroke="#c2c2c2" stroke-width="8.4"/><line x1="731.1" y1="2033.6" x2="775.0" y2="2033.6" stroke="#8a8a8a" stroke-width="11.0"/><line x1="731.1" y1="2033.6" x2="775.0" y2="2033.6" stroke="#c2c2c2" stroke-width="8.4"/><line x1="775.0" y1="2033.6" x2="819.0" y2="2033.6" stroke="#8a8a8a" stroke-width="11.0"/><line x1="775.0" y1="2033.6" x2="819.0" y2="2033.6" stroke="#c2c2c2" stroke-width="8.4"/><line x1="862.9" y1="2033.6" x2="906.8" y2="2033.6" stroke="#8a8a8a" stroke-width="11.0"/><line x1="862.9" y1="2033.6" x2="906.8" y2="2033.6" stroke="#c2c2c2" stroke-width="8.4"/><line x1="665.2" y1="2068.2" x2="709.1" y2="2068.2" stroke="#8a8a8a" stroke-width="11.0"/><line x1="665.2" y1="2068.2" x2="709.1" y2="2068.2" stroke="#c2c2c2" stroke-width="8.4"/><line x1="709.1" y1="2068.2" x2="753.1" y2="2068.2" stroke="#8a8a8a" stroke-width="11.0"/><line x1="709.1" y1="2068.2" x2="753.1" y2="2068.2" stroke="#c2c2c2" stroke-width="8.4"/><line x1="797.0" y1="2068.2" x2="840.9" y2="2068.2" stroke="#8a8a8a" stroke-width="11.0"/><line x1="797.0" y1="2068.2" x2="840.9" y2="2068.2" stroke="#c2c2c2" stroke-width="8.4"/><line x1="840.9" y1="2068.2" x2="884.9" y2="2068.2" stroke="#8a8a8a" stroke-width="11.0"/><line x1="840.9" y1="2068.2" x2="884.9" y2="2068.2" stroke="#c2c2c2" stroke-width="8.4"/><line x1="621.3" y1="1921.3" x2="643.2" y2="1954.8" stroke="#8a8a8a" stroke-width="11.0"/><line x1="621.3" y1="1921.3" x2="643.2" y2="1954.8" stroke="#c2c2c2" stroke-width="8.4"/><line x1="665.2" y1="1921.3" x2="643.2" y2="1954.8" stroke="#8a8a8a" stroke-width="11.0"/><line x1="665.2" y1="1921.3" x2="643.2" y2="1954.8" stroke="#c2c2c2" stroke-width="8.4"/><line x1="709.1" y1="1921.3" x2="731.1" y2="1954.8" stroke="#8a8a8a" stroke-width="11.0"/><line x1="709.1" y1="1921.3" x2="731.1" y2="1954.8" stroke="#c2c2c2" stroke-width="8.4"/><line x1="709.1" y1="1921.3" x2="687.2" y2="1954.8" stroke="#8a8a8a" stroke-width="11.0"/><line x1="709.1" y1="1921.3" x2="687.2" y2="1954.8" stroke="#c2c2c2" stroke-width="8.4"/><line x1="753.1" y1="1921.3" x2="775.0" y2="1954.8" stroke="#8a8a8a" stroke-width="11.0"/><line x1="753.1" y1="1921.3" x2="775.0" y2="1954.8" stroke="#c2c2c2" stroke-width="8.4"/><line x1="797.0" y1="1921.3" x2="775.0" y2="1954.8" stroke="#8a8a8a" stroke-width="11.0"/><line x1="797.0" y1="1921.3" x2="775.0" y2="1954.8" stroke="#c2c2c2" stroke-width="8.4"/><line x1="840.9" y1="1921.3" x2="862.9" y2="1954.8" stroke="#8a8a8a" stroke-width="11.0"/><line x1="840.9" y1="1921.3" x2="862.9" y2="1954.8" stroke="#c2c2c2" stroke-width="8.4"/><line x1="840.9" y1="1921.3" x2="819.0" y2="1954.8" stroke="#8a8a8a" stroke-width="11.0"/><line x1="840.9" y1="1921.3" x2="819.0" y2="1954.8" stroke="#c2c2c2" stroke-width="8.4"/><line x1="884.9" y1="1921.3" x2="906.8" y2="1954.8" stroke="#8a8a8a" stroke-width="11.0"/><line x1="884.9" y1="1921.3" x2="906.8" y2="1954.8" stroke="#c2c2c2" stroke-width="8.4"/><line x1="621.3" y1="1994.5" x2="643.2" y2="1954.8" stroke="#8a8a8a" stroke-width="11.0"/><line x1="621.3" y1="1994.5" x2="643.2" y2="1954.8" stroke="#c2c2c2" stroke-width="8.4"/><line x1="665.2" y1="1994.5" x2="643.2" y2="1954.8" stroke="#8a8a8a" stroke-width="11.0"/><line x1="665.2" y1="1994.5" x2="643.2" y2="1954.8" stroke="#c2c2c2" stroke-width="8.4"/><line x1="709.1" y1="1994.5" x2="731.1" y2="1954.8" stroke="#8a8a8a" stroke-width="11.0"/><line x1="709.1" y1="1994.5" x2="731.1" y2="1954.8" stroke="#c2c2c2" stroke-width="8.4"/><line x1="709.1" y1="1994.5" x2="687.2" y2="1954.8" stroke="#8a8a8a" stroke-width="11.0"/><line x1="709.1" y1="1994.5" x2="687.2" y2="1954.8" stroke="#c2c2c2" stroke-width="8.4"/><line x1="753.1" y1="1994.5" x2="775.0" y2="1954.8" stroke="#8a8a8a" stroke-width="11.0"/><line x1="753.1" y1="1994.5" x2="775.0" y2="1954.8" stroke="#c2c2c2" stroke-width="8.4"/><line x1="797.0" y1="1994.5" x2="775.0" y2="1954.8" stroke="#8a8a8a" stroke-width="11.0"/><line x1="797.0" y1="1994.5" x2="775.0" y2="1954.8" stroke="#c2c2c2" stroke-width="8.4"/><line x1="840.9" y1="1994.5" x2="862.9" y2="1954.8" stroke="#8a8a8a" stroke-width="11.0"/><line x1="840.9" y1="1994.5" x2="862.9" y2="1954.8" stroke="#c2c2c2" stroke-width="8.4"/><line x1="840.9" y1="1994.5" x2="819.0" y2="1954.8" stroke="#8a8a8a" stroke-width="11.0"/><line x1="840.9" y1="1994.5" x2="819.0" y2="1954.8" stroke="#c2c2c2" stroke-width="8.4"/><line x1="884.9" y1="1994.5" x2="906.8" y2="1954.8" stroke="#8a8a8a" stroke-width="11.0"/><line x1="884.9" y1="1994.5" x2="906.8" y2="1954.8" stroke="#c2c2c2" stroke-width="8.4"/><line x1="621.3" y1="1994.5" x2="643.2" y2="2033.6" stroke="#8a8a8a" stroke-width="11.0"/><line x1="621.3" y1="1994.5" x2="643.2" y2="2033.6" stroke="#c2c2c2" stroke-width="8.4"/><line x1="665.2" y1="1994.5" x2="643.2" y2="2033.6" stroke="#8a8a8a" stroke-width="11.0"/><line x1="665.2" y1="1994.5" x2="643.2" y2="2033.6" stroke="#c2c2c2" stroke-width="8.4"/><line x1="709.1" y1="1994.5" x2="731.1" y2="2033.6" stroke="#8a8a8a" stroke-width="11.0"/><line x1="709.1" y1="1994.5" x2="731.1" y2="2033.6" stroke="#c2c2c2" stroke-width="8.4"/><line x1="709.1" y1="1994.5" x2="687.2" y2="2033.6" stroke="#8a8a8a" stroke-width="11.0"/><line x1="709.1" y1="1994.5" x2="687.2" y2="2033.6" stroke="#c2c2c2" stroke-width="8.4"/><line x1="753.1" y1="1994.5" x2="775.0" y2="2033.6" stroke="#8a8a8a" stroke-width="11.0"/><line x1="753.1" y1="1994.5" x2="775.0" y2="2033.6" stroke="#c2c2c2" stroke-width="8.4"/><line x1="797.0" y1="1994.5" x2="775.0" y2="2033.6" stroke="#8a8a8a" stroke-width="11.0"/><line x1="797.0" y1="1994.5" x2="775.0" y2="2033.6" stroke="#c2c2c2" stroke-width="8.4"/><line x1="840.9" y1="1994.5" x2="862.9" y2="2033.6" stroke="#8a8a8a" stroke-width="11.0"/><line x1="840.9" y1="1994.5" x2="862.9" y2="2033.6" stroke="#c2c2c2" stroke-width="8.4"/><line x1="840.9" y1="1994.5" x2="819.0" y2="2033.6" stroke="#8a8a8a" stroke-width="11.0"/><line x1="840.9" y1="1994.5" x2="819.0" y2="2033.6" stroke="#c2c2c2" stroke-width="8.4"/><line x1="884.9" y1="1994.5" x2="906.8" y2="2033.6" stroke="#8a8a8a" stroke-width="11.0"/><line x1="884.9" y1="1994.5" x2="906.8" y2="2033.6" stroke="#c2c2c2" stroke-width="8.4"/><line x1="621.3" y1="2068.2" x2="643.2" y2="2033.6" stroke="#8a8a8a" stroke-width="11.0"/><line x1="621.3" y1="2068.2" x2="643.2" y2="2033.6" stroke="#c2c2c2" stroke-width="8.4"/><line x1="665.2" y1="2068.2" x2="643.2" y2="2033.6" stroke="#8a8a8a" stroke-width="11.0"/><line x1="665.2" y1="2068.2" x2="643.2" y2="2033.6" stroke="#c2c2c2" stroke-width="8.4"/><line x1="709.1" y1="2068.2" x2="731.1" y2="2033.6" stroke="#8a8a8a" stroke-width="11.0"/><line x1="709.1" y1="2068.2" x2="731.1" y2="2033.6" stroke="#c2c2c2" stroke-width="8.4"/><line x1="709.1" y1="2068.2" x2="687.2" y2="2033.6" stroke="#8a8a8a" stroke-width="11.0"/><line x1="709.1" y1="2068.2" x2="687.2" y2="2033.6" stroke="#c2c2c2" stroke-width="8.4"/><line x1="753.1" y1="2068.2" x2="775.0" y2="2033.6" stroke="#8a8a8a" stroke-width="11.0"/><line x1="753.1" y1="2068.2" x2="775.0" y2="2033.6" stroke="#c2c2c2" stroke-width="8.4"/><line x1="797.0" y1="2068.2" x2="775.0" y2="2033.6" stroke="#8a8a8a" stroke-width="11.0"/><line x1="797.0" y1="2068.2" x2="775.0" y2="2033.6" stroke="#c2c2c2" stroke-width="8.4"/><line x1="840.9" y1="2068.2" x2="862.9" y2="2033.6" stroke="#8a8a8a" stroke-width="11.0"/><line x1="840.9" y1="2068.2" x2="862.9" y2="2033.6" stroke="#c2c2c2" stroke-width="8.4"/><line x1="840.9" y1="2068.2" x2="819.0" y2="2033.6" stroke="#8a8a8a" stroke-width="11.0"/><line x1="840.9" y1="2068.2" x2="819.0" y2="2033.6" stroke="#c2c2c2" stroke-width="8.4"/><line x1="884.9" y1="2068.2" x2="906.8" y2="2033.6" stroke="#8a8a8a" stroke-width="11.0"/><line x1="884.9" y1="2068.2" x2="906.8" y2="2033.6" stroke="#c2c2c2" stroke-width="8.4"/><circle cx="621.3" cy="1921.3" r="14.3" fill="url(#sphG)" stroke="#6d6d6d" stroke-width="0.9"/><circle cx="665.2" cy="1921.3" r="14.3" fill="url(#sphG)" stroke="#6d6d6d" stroke-width="0.9"/><circle cx="665.2" cy="1921.3" r="9.2" fill="url(#sphC)" stroke="#4f9c98" stroke-width="0.9"/><circle cx="709.1" cy="1921.3" r="14.3" fill="url(#sphG)" stroke="#6d6d6d" stroke-width="0.9"/><circle cx="709.1" cy="1921.3" r="9.2" fill="url(#sphC)" stroke="#4f9c98" stroke-width="0.9"/><circle cx="753.1" cy="1921.3" r="14.3" fill="url(#sphG)" stroke="#6d6d6d" stroke-width="0.9"/><circle cx="797.0" cy="1921.3" r="14.3" fill="url(#sphG)" stroke="#6d6d6d" stroke-width="0.9"/><circle cx="797.0" cy="1921.3" r="9.2" fill="url(#sphC)" stroke="#4f9c98" stroke-width="0.9"/><circle cx="840.9" cy="1921.3" r="14.3" fill="url(#sphG)" stroke="#6d6d6d" stroke-width="0.9"/><circle cx="840.9" cy="1921.3" r="9.2" fill="url(#sphC)" stroke="#4f9c98" stroke-width="0.9"/><circle cx="884.9" cy="1921.3" r="14.3" fill="url(#sphG)" stroke="#6d6d6d" stroke-width="0.9"/><circle cx="621.3" cy="1994.5" r="14.3" fill="url(#sphG)" stroke="#6d6d6d" stroke-width="0.9"/><circle cx="665.2" cy="1994.5" r="14.3" fill="url(#sphG)" stroke="#6d6d6d" stroke-width="0.9"/><circle cx="665.2" cy="1994.5" r="9.2" fill="url(#sphC)" stroke="#4f9c98" stroke-width="0.9"/><circle cx="709.1" cy="1994.5" r="14.3" fill="url(#sphG)" stroke="#6d6d6d" stroke-width="0.9"/><circle cx="709.1" cy="1994.5" r="9.2" fill="url(#sphC)" stroke="#4f9c98" stroke-width="0.9"/><circle cx="753.1" cy="1994.5" r="14.3" fill="url(#sphG)" stroke="#6d6d6d" stroke-width="0.9"/><circle cx="797.0" cy="1994.5" r="14.3" fill="url(#sphG)" stroke="#6d6d6d" stroke-width="0.9"/><circle cx="797.0" cy="1994.5" r="9.2" fill="url(#sphC)" stroke="#4f9c98" stroke-width="0.9"/><circle cx="840.9" cy="1994.5" r="14.3" fill="url(#sphG)" stroke="#6d6d6d" stroke-width="0.9"/><circle cx="840.9" cy="1994.5" r="9.2" fill="url(#sphC)" stroke="#4f9c98" stroke-width="0.9"/><circle cx="884.9" cy="1994.5" r="14.3" fill="url(#sphG)" stroke="#6d6d6d" stroke-width="0.9"/><circle cx="621.3" cy="2068.2" r="14.3" fill="url(#sphG)" stroke="#6d6d6d" stroke-width="0.9"/><circle cx="665.2" cy="2068.2" r="14.3" fill="url(#sphG)" stroke="#6d6d6d" stroke-width="0.9"/><circle cx="665.2" cy="2068.2" r="9.2" fill="url(#sphC)" stroke="#4f9c98" stroke-width="0.9"/><circle cx="709.1" cy="2068.2" r="14.3" fill="url(#sphG)" stroke="#6d6d6d" stroke-width="0.9"/><circle cx="709.1" cy="2068.2" r="9.2" fill="url(#sphC)" stroke="#4f9c98" stroke-width="0.9"/><circle cx="753.1" cy="2068.2" r="14.3" fill="url(#sphG)" stroke="#6d6d6d" stroke-width="0.9"/><circle cx="797.0" cy="2068.2" r="14.3" fill="url(#sphG)" stroke="#6d6d6d" stroke-width="0.9"/><circle cx="797.0" cy="2068.2" r="9.2" fill="url(#sphC)" stroke="#4f9c98" stroke-width="0.9"/><circle cx="840.9" cy="2068.2" r="14.3" fill="url(#sphG)" stroke="#6d6d6d" stroke-width="0.9"/><circle cx="840.9" cy="2068.2" r="9.2" fill="url(#sphC)" stroke="#4f9c98" stroke-width="0.9"/><circle cx="884.9" cy="2068.2" r="14.3" fill="url(#sphG)" stroke="#6d6d6d" stroke-width="0.9"/><circle cx="643.2" cy="1954.8" r="14.3" fill="url(#sphG)" stroke="#6d6d6d" stroke-width="0.9"/><circle cx="643.2" cy="1954.8" r="9.2" fill="url(#sphC)" stroke="#4f9c98" stroke-width="0.9"/><circle cx="687.2" cy="1954.8" r="14.3" fill="url(#sphG)" stroke="#6d6d6d" stroke-width="0.9"/><circle cx="731.1" cy="1954.8" r="14.3" fill="url(#sphG)" stroke="#6d6d6d" stroke-width="0.9"/><circle cx="731.1" cy="1954.8" r="9.2" fill="url(#sphC)" stroke="#4f9c98" stroke-width="0.9"/><circle cx="775.0" cy="1954.8" r="14.3" fill="url(#sphG)" stroke="#6d6d6d" stroke-width="0.9"/><circle cx="775.0" cy="1954.8" r="9.2" fill="url(#sphC)" stroke="#4f9c98" stroke-width="0.9"/><circle cx="819.0" cy="1954.8" r="14.3" fill="url(#sphG)" stroke="#6d6d6d" stroke-width="0.9"/><circle cx="862.9" cy="1954.8" r="14.3" fill="url(#sphG)" stroke="#6d6d6d" stroke-width="0.9"/><circle cx="862.9" cy="1954.8" r="9.2" fill="url(#sphC)" stroke="#4f9c98" stroke-width="0.9"/><circle cx="906.8" cy="1954.8" r="14.3" fill="url(#sphG)" stroke="#6d6d6d" stroke-width="0.9"/><circle cx="906.8" cy="1954.8" r="9.2" fill="url(#sphC)" stroke="#4f9c98" stroke-width="0.9"/><circle cx="643.2" cy="2033.6" r="14.3" fill="url(#sphG)" stroke="#6d6d6d" stroke-width="0.9"/><circle cx="643.2" cy="2033.6" r="9.2" fill="url(#sphC)" stroke="#4f9c98" stroke-width="0.9"/><circle cx="687.2" cy="2033.6" r="14.3" fill="url(#sphG)" stroke="#6d6d6d" stroke-width="0.9"/><circle cx="731.1" cy="2033.6" r="14.3" fill="url(#sphG)" stroke="#6d6d6d" stroke-width="0.9"/><circle cx="731.1" cy="2033.6" r="9.2" fill="url(#sphC)" stroke="#4f9c98" stroke-width="0.9"/><circle cx="775.0" cy="2033.6" r="14.3" fill="url(#sphG)" stroke="#6d6d6d" stroke-width="0.9"/><circle cx="775.0" cy="2033.6" r="9.2" fill="url(#sphC)" stroke="#4f9c98" stroke-width="0.9"/><circle cx="819.0" cy="2033.6" r="14.3" fill="url(#sphG)" stroke="#6d6d6d" stroke-width="0.9"/><circle cx="862.9" cy="2033.6" r="14.3" fill="url(#sphG)" stroke="#6d6d6d" stroke-width="0.9"/><circle cx="862.9" cy="2033.6" r="9.2" fill="url(#sphC)" stroke="#4f9c98" stroke-width="0.9"/><circle cx="906.8" cy="2033.6" r="14.3" fill="url(#sphG)" stroke="#6d6d6d" stroke-width="0.9"/><circle cx="906.8" cy="2033.6" r="9.2" fill="url(#sphC)" stroke="#4f9c98" stroke-width="0.9"/></g><rect x="660.0" y="1916.8" width="188.3" height="157.8" fill="none" stroke="#777" stroke-width="4" stroke-dasharray="15.5 14.5"/>
<path d="M218.8,2178.2 L292.3,2180.0 L365.7,2194.5 L439.2,2207.6 L512.6,2209.0 L586.0,2212.0 L659.5,2217.4 L732.9,2217.4 L806.4,2211.2" fill="none" stroke="#BDBDBD" stroke-width="1.2"/>
<circle cx="218.8" cy="2178.2" r="8.3" fill="#fff" stroke="#ABABAB" stroke-width="3"/><ellipse cx="218.8" cy="2177.2" rx="2.4" ry="1.5" fill="#ABABAB"/>
<circle cx="292.3" cy="2180.0" r="8.3" fill="#fff" stroke="#ABABAB" stroke-width="3"/><ellipse cx="292.3" cy="2179.0" rx="2.4" ry="1.5" fill="#ABABAB"/>
<circle cx="365.7" cy="2194.5" r="8.3" fill="#fff" stroke="#ABABAB" stroke-width="3"/><ellipse cx="365.7" cy="2193.5" rx="2.4" ry="1.5" fill="#ABABAB"/>
<circle cx="439.2" cy="2207.6" r="8.3" fill="#fff" stroke="#ABABAB" stroke-width="3"/><ellipse cx="439.2" cy="2206.6" rx="2.4" ry="1.5" fill="#ABABAB"/>
<circle cx="512.6" cy="2209.0" r="8.3" fill="#fff" stroke="#ABABAB" stroke-width="3"/><ellipse cx="512.6" cy="2208.0" rx="2.4" ry="1.5" fill="#ABABAB"/>
<circle cx="586.0" cy="2212.0" r="8.3" fill="#fff" stroke="#ABABAB" stroke-width="3"/><ellipse cx="586.0" cy="2211.0" rx="2.4" ry="1.5" fill="#ABABAB"/>
<circle cx="659.5" cy="2217.4" r="8.3" fill="#fff" stroke="#ABABAB" stroke-width="3"/><ellipse cx="659.5" cy="2216.4" rx="2.4" ry="1.5" fill="#ABABAB"/>
<circle cx="732.9" cy="2217.4" r="8.3" fill="#fff" stroke="#ABABAB" stroke-width="3"/><ellipse cx="732.9" cy="2216.4" rx="2.4" ry="1.5" fill="#ABABAB"/>
<circle cx="806.4" cy="2211.2" r="8.3" fill="#fff" stroke="#ABABAB" stroke-width="3"/><ellipse cx="806.4" cy="2210.2" rx="2.4" ry="1.5" fill="#ABABAB"/>
<path d="M218.8,1869.1 C231.1,1886.0 267.8,1941.4 292.3,1970.7 C316.8,2000.0 341.2,2023.7 365.7,2045.0 C390.2,2066.3 414.7,2083.4 439.2,2098.8 C463.6,2114.2 488.1,2126.9 512.6,2137.6 C537.1,2148.3 561.6,2156.2 586.0,2163.0 C610.5,2169.8 635.0,2174.5 659.5,2178.6 C684.0,2182.7 708.4,2185.8 732.9,2187.6 C757.4,2189.4 794.1,2189.2 806.4,2189.5" fill="none" stroke="#D9646F" stroke-width="1.8" stroke-dasharray="7 5"/>
<circle cx="218.8" cy="1869.1" r="8.8" fill="#fff" stroke="#E27A86" stroke-width="2.4"/>
<circle cx="292.3" cy="1970.7" r="8.8" fill="#fff" stroke="#E27A86" stroke-width="2.4"/>
<circle cx="365.7" cy="2045.0" r="8.8" fill="#fff" stroke="#E27A86" stroke-width="2.4"/>
<circle cx="439.2" cy="2098.8" r="8.8" fill="#fff" stroke="#E27A86" stroke-width="2.4"/>
<circle cx="512.6" cy="2137.6" r="8.8" fill="#fff" stroke="#E27A86" stroke-width="2.4"/>
<circle cx="586.0" cy="2163.0" r="8.8" fill="#fff" stroke="#E27A86" stroke-width="2.4"/>
<circle cx="659.5" cy="2178.6" r="8.8" fill="#fff" stroke="#E27A86" stroke-width="2.4"/>
<circle cx="732.9" cy="2187.6" r="8.8" fill="#fff" stroke="#E27A86" stroke-width="2.4"/>
<circle cx="806.4" cy="2189.5" r="8.8" fill="#fff" stroke="#E27A86" stroke-width="2.4"/>
<path d="M218.8,1869.1 C231.1,1886.0 267.8,1941.4 292.3,1970.7 C316.8,2000.0 341.2,2023.7 365.7,2045.0 C390.2,2066.3 414.7,2083.4 439.2,2098.8 C463.6,2114.2 488.1,2126.9 512.6,2137.6 C537.1,2148.3 561.6,2156.2 586.0,2163.0 C610.5,2169.8 635.0,2174.5 659.5,2178.6 C684.0,2182.7 708.4,2185.8 732.9,2187.6 C757.4,2189.4 794.1,2189.2 806.4,2189.5" fill="none" stroke="#D9646F" stroke-width="1.8"/>
<circle cx="218.8" cy="1869.1" r="9.5" fill="url(#sphR)" stroke="#E2707D" stroke-width="1"/>
<circle cx="292.3" cy="1970.7" r="9.5" fill="url(#sphR)" stroke="#E2707D" stroke-width="1"/>
<circle cx="365.7" cy="2045.0" r="9.5" fill="url(#sphR)" stroke="#E2707D" stroke-width="1"/>
<circle cx="439.2" cy="2098.8" r="9.5" fill="url(#sphR)" stroke="#E2707D" stroke-width="1"/>
<circle cx="512.6" cy="2137.6" r="9.5" fill="url(#sphR)" stroke="#E2707D" stroke-width="1"/>
<circle cx="586.0" cy="2163.0" r="9.5" fill="url(#sphR)" stroke="#E2707D" stroke-width="1"/>
<circle cx="659.5" cy="2178.6" r="9.5" fill="url(#sphR)" stroke="#E2707D" stroke-width="1"/>
<circle cx="732.9" cy="2187.6" r="9.5" fill="url(#sphR)" stroke="#E2707D" stroke-width="1"/>
<circle cx="806.4" cy="2189.5" r="9.5" fill="url(#sphR)" stroke="#E2707D" stroke-width="1"/>
</g>
<line x1="704.0" y1="1839.9" x2="777.0" y2="1839.9" stroke="#D9646F" stroke-width="1.8"/>
<circle cx="740.5" cy="1839.9" r="9.5" fill="url(#sphR)" stroke="#E2707D" stroke-width="1"/>
<line x1="704.0" y1="1879.5" x2="777.0" y2="1879.5" stroke="#D9646F" stroke-width="1.8" stroke-dasharray="7 5"/>
<circle cx="740.5" cy="1879.5" r="8.8" fill="#fff" stroke="#E27A86" stroke-width="2.4"/>
<text x="804.0" y="1850.7" font-size="32" fill="#000">MLP</text>
<text x="804.0" y="1890.3" font-size="32" fill="#000">DFT</text>
<line x1="145.4" y1="2269.5" x2="145.4" y2="2279.5" stroke="#000" stroke-width="2"/>
<text x="145.4" y="2311.0" font-size="31.5" text-anchor="middle">2.8</text>
<line x1="182.1" y1="2269.5" x2="182.1" y2="2274.3" stroke="#000" stroke-width="2"/>
<line x1="218.8" y1="2269.5" x2="218.8" y2="2279.5" stroke="#000" stroke-width="2"/>
<text x="218.8" y="2311.0" font-size="31.5" text-anchor="middle">3.0</text>
<line x1="255.6" y1="2269.5" x2="255.6" y2="2274.3" stroke="#000" stroke-width="2"/>
<line x1="292.3" y1="2269.5" x2="292.3" y2="2279.5" stroke="#000" stroke-width="2"/>
<text x="292.3" y="2311.0" font-size="31.5" text-anchor="middle">3.2</text>
<line x1="329.0" y1="2269.5" x2="329.0" y2="2274.3" stroke="#000" stroke-width="2"/>
<line x1="365.7" y1="2269.5" x2="365.7" y2="2279.5" stroke="#000" stroke-width="2"/>
<text x="365.7" y="2311.0" font-size="31.5" text-anchor="middle">3.4</text>
<line x1="402.4" y1="2269.5" x2="402.4" y2="2274.3" stroke="#000" stroke-width="2"/>
<line x1="439.2" y1="2269.5" x2="439.2" y2="2279.5" stroke="#000" stroke-width="2"/>
<text x="439.2" y="2311.0" font-size="31.5" text-anchor="middle">3.6</text>
<line x1="475.9" y1="2269.5" x2="475.9" y2="2274.3" stroke="#000" stroke-width="2"/>
<line x1="512.6" y1="2269.5" x2="512.6" y2="2279.5" stroke="#000" stroke-width="2"/>
<text x="512.6" y="2311.0" font-size="31.5" text-anchor="middle">3.8</text>
<line x1="549.3" y1="2269.5" x2="549.3" y2="2274.3" stroke="#000" stroke-width="2"/>
<line x1="586.0" y1="2269.5" x2="586.0" y2="2279.5" stroke="#000" stroke-width="2"/>
<text x="586.0" y="2311.0" font-size="31.5" text-anchor="middle">4.0</text>
<line x1="622.8" y1="2269.5" x2="622.8" y2="2274.3" stroke="#000" stroke-width="2"/>
<line x1="659.5" y1="2269.5" x2="659.5" y2="2279.5" stroke="#000" stroke-width="2"/>
<text x="659.5" y="2311.0" font-size="31.5" text-anchor="middle">4.2</text>
<line x1="696.2" y1="2269.5" x2="696.2" y2="2274.3" stroke="#000" stroke-width="2"/>
<line x1="732.9" y1="2269.5" x2="732.9" y2="2279.5" stroke="#000" stroke-width="2"/>
<text x="732.9" y="2311.0" font-size="31.5" text-anchor="middle">4.4</text>
<line x1="769.6" y1="2269.5" x2="769.6" y2="2274.3" stroke="#000" stroke-width="2"/>
<line x1="806.4" y1="2269.5" x2="806.4" y2="2279.5" stroke="#000" stroke-width="2"/>
<text x="806.4" y="2311.0" font-size="31.5" text-anchor="middle">4.6</text>
<line x1="843.1" y1="2269.5" x2="843.1" y2="2274.3" stroke="#000" stroke-width="2"/>
<line x1="879.8" y1="2269.5" x2="879.8" y2="2279.5" stroke="#000" stroke-width="2"/>
<text x="879.8" y="2311.0" font-size="31.5" text-anchor="middle">4.8</text>
<line x1="135.9" y1="2269.5" x2="145.4" y2="2269.5" stroke="#D0626F" stroke-width="2"/>
<text x="128.9" y="2279.0" font-size="31.5" text-anchor="end" fill="#D0626F">-6.5</text>
<line x1="140.9" y1="2240.8" x2="145.4" y2="2240.8" stroke="#D0626F" stroke-width="2"/>
<line x1="135.9" y1="2212.1" x2="145.4" y2="2212.1" stroke="#D0626F" stroke-width="2"/>
<text x="128.9" y="2221.6" font-size="31.5" text-anchor="end" fill="#D0626F">-6.0</text>
<line x1="140.9" y1="2183.4" x2="145.4" y2="2183.4" stroke="#D0626F" stroke-width="2"/>
<line x1="135.9" y1="2154.7" x2="145.4" y2="2154.7" stroke="#D0626F" stroke-width="2"/>
<text x="128.9" y="2164.2" font-size="31.5" text-anchor="end" fill="#D0626F">-5.5</text>
<line x1="140.9" y1="2126.0" x2="145.4" y2="2126.0" stroke="#D0626F" stroke-width="2"/>
<line x1="135.9" y1="2097.3" x2="145.4" y2="2097.3" stroke="#D0626F" stroke-width="2"/>
<text x="128.9" y="2106.8" font-size="31.5" text-anchor="end" fill="#D0626F">-5.0</text>
<line x1="140.9" y1="2068.6" x2="145.4" y2="2068.6" stroke="#D0626F" stroke-width="2"/>
<line x1="135.9" y1="2039.8" x2="145.4" y2="2039.8" stroke="#D0626F" stroke-width="2"/>
<text x="128.9" y="2049.3" font-size="31.5" text-anchor="end" fill="#D0626F">-4.5</text>
<line x1="140.9" y1="2011.1" x2="145.4" y2="2011.1" stroke="#D0626F" stroke-width="2"/>
<line x1="135.9" y1="1982.4" x2="145.4" y2="1982.4" stroke="#D0626F" stroke-width="2"/>
<text x="128.9" y="1991.9" font-size="31.5" text-anchor="end" fill="#D0626F">-4.0</text>
<line x1="140.9" y1="1953.7" x2="145.4" y2="1953.7" stroke="#D0626F" stroke-width="2"/>
<line x1="135.9" y1="1925.0" x2="145.4" y2="1925.0" stroke="#D0626F" stroke-width="2"/>
<text x="128.9" y="1934.5" font-size="31.5" text-anchor="end" fill="#D0626F">-3.5</text>
<line x1="140.9" y1="1896.3" x2="145.4" y2="1896.3" stroke="#D0626F" stroke-width="2"/>
<line x1="135.9" y1="1867.6" x2="145.4" y2="1867.6" stroke="#D0626F" stroke-width="2"/>
<text x="128.9" y="1877.1" font-size="31.5" text-anchor="end" fill="#D0626F">-3.0</text>
<line x1="140.9" y1="1838.9" x2="145.4" y2="1838.9" stroke="#D0626F" stroke-width="2"/>
<line x1="135.9" y1="1810.2" x2="145.4" y2="1810.2" stroke="#D0626F" stroke-width="2"/>
<text x="128.9" y="1819.7" font-size="31.5" text-anchor="end" fill="#D0626F">-2.5</text>
<line x1="879.8" y1="2269.5" x2="884.0" y2="2269.5" stroke="#777" stroke-width="1.6"/>
<line x1="879.8" y1="2218.5" x2="888.8" y2="2218.5" stroke="#777" stroke-width="1.6"/>
<text x="894.8" y="2229.0" font-size="31.5" fill="#6E6E6E">0</text>
<line x1="879.8" y1="2167.4" x2="884.0" y2="2167.4" stroke="#777" stroke-width="1.6"/>
<line x1="879.8" y1="2116.4" x2="888.8" y2="2116.4" stroke="#777" stroke-width="1.6"/>
<text x="894.8" y="2126.9" font-size="31.5" fill="#6E6E6E">20</text>
<line x1="879.8" y1="2065.4" x2="884.0" y2="2065.4" stroke="#777" stroke-width="1.6"/>
<line x1="879.8" y1="2014.3" x2="888.8" y2="2014.3" stroke="#777" stroke-width="1.6"/>
<text x="894.8" y="2024.8" font-size="31.5" fill="#6E6E6E">40</text>
<line x1="879.8" y1="1963.3" x2="884.0" y2="1963.3" stroke="#777" stroke-width="1.6"/>
<line x1="879.8" y1="1912.3" x2="888.8" y2="1912.3" stroke="#777" stroke-width="1.6"/>
<text x="894.8" y="1922.8" font-size="31.5" fill="#6E6E6E">60</text>
<line x1="879.8" y1="1861.2" x2="884.0" y2="1861.2" stroke="#777" stroke-width="1.6"/>
<line x1="879.8" y1="1810.2" x2="888.8" y2="1810.2" stroke="#777" stroke-width="1.6"/>
<text x="894.8" y="1820.7" font-size="31.5" fill="#6E6E6E">80</text>
<line x1="145.4" y1="1810.2" x2="881.1" y2="1810.2" stroke="#000" stroke-width="2.6"/>
<line x1="145.4" y1="2269.5" x2="881.1" y2="2269.5" stroke="#000" stroke-width="2.6"/>
<line x1="879.8" y1="1810.2" x2="879.8" y2="2269.5" stroke="#111" stroke-width="2.2"/>
<line x1="145.4" y1="1808.9" x2="145.4" y2="2270.8" stroke="#D0626F" stroke-width="2.6"/>
<text transform="translate(61.4,2039.8) rotate(-90)" font-size="34" text-anchor="middle" fill="#D0626F">Energy (eV/atom)</text>
<text transform="translate(967.8,2039.8) rotate(-90)" font-size="34" text-anchor="middle" fill="#6E6E6E">Energy error (meV/atom)</text>
<text x="512.6" y="2353.0" font-size="34" text-anchor="middle">Distance(Å)</text>
<text x="2.5" y="1796.6" font-size="45" font-weight="bold">(g)</text>
<g clip-path="url(#cliph)">
<g clip-path="url(#ib12)"><line x1="1314.3" y1="1881.9" x2="1287.0" y2="1891.1" stroke="#8a8a8a" stroke-width="5.0"/><line x1="1314.3" y1="1881.9" x2="1287.0" y2="1891.1" stroke="#c2c2c2" stroke-width="2.5"/><line x1="1314.3" y1="1881.9" x2="1325.4" y2="1891.1" stroke="#8a8a8a" stroke-width="5.0"/><line x1="1314.3" y1="1881.9" x2="1325.4" y2="1891.1" stroke="#c2c2c2" stroke-width="2.5"/><line x1="1351.5" y1="1881.9" x2="1325.4" y2="1891.1" stroke="#8a8a8a" stroke-width="5.0"/><line x1="1351.5" y1="1881.9" x2="1325.4" y2="1891.1" stroke="#c2c2c2" stroke-width="2.5"/><line x1="1351.5" y1="1881.9" x2="1364.5" y2="1891.1" stroke="#8a8a8a" stroke-width="5.0"/><line x1="1351.5" y1="1881.9" x2="1364.5" y2="1891.1" stroke="#c2c2c2" stroke-width="2.5"/><line x1="1390.6" y1="1881.9" x2="1364.5" y2="1891.1" stroke="#8a8a8a" stroke-width="5.0"/><line x1="1390.6" y1="1881.9" x2="1364.5" y2="1891.1" stroke="#c2c2c2" stroke-width="2.5"/><line x1="1390.6" y1="1881.9" x2="1403.7" y2="1891.1" stroke="#8a8a8a" stroke-width="5.0"/><line x1="1390.6" y1="1881.9" x2="1403.7" y2="1891.1" stroke="#c2c2c2" stroke-width="2.5"/><line x1="1429.7" y1="1881.9" x2="1403.7" y2="1891.1" stroke="#8a8a8a" stroke-width="5.0"/><line x1="1429.7" y1="1881.9" x2="1403.7" y2="1891.1" stroke="#c2c2c2" stroke-width="2.5"/><line x1="1429.7" y1="1881.9" x2="1442.8" y2="1891.1" stroke="#8a8a8a" stroke-width="5.0"/><line x1="1429.7" y1="1881.9" x2="1442.8" y2="1891.1" stroke="#c2c2c2" stroke-width="2.5"/><line x1="1468.8" y1="1881.9" x2="1442.8" y2="1891.1" stroke="#8a8a8a" stroke-width="5.0"/><line x1="1468.8" y1="1881.9" x2="1442.8" y2="1891.1" stroke="#c2c2c2" stroke-width="2.5"/><line x1="1468.8" y1="1881.9" x2="1481.9" y2="1891.1" stroke="#8a8a8a" stroke-width="5.0"/><line x1="1468.8" y1="1881.9" x2="1481.9" y2="1891.1" stroke="#c2c2c2" stroke-width="2.5"/><line x1="1507.3" y1="1881.9" x2="1481.9" y2="1891.1" stroke="#8a8a8a" stroke-width="5.0"/><line x1="1507.3" y1="1881.9" x2="1481.9" y2="1891.1" stroke="#c2c2c2" stroke-width="2.5"/><line x1="1507.3" y1="1881.9" x2="1521.0" y2="1891.1" stroke="#8a8a8a" stroke-width="5.0"/><line x1="1507.3" y1="1881.9" x2="1521.0" y2="1891.1" stroke="#c2c2c2" stroke-width="2.5"/><line x1="1287.0" y1="1891.1" x2="1287.0" y2="1918.4" stroke="#8a8a8a" stroke-width="5.0"/><line x1="1287.0" y1="1891.1" x2="1287.0" y2="1918.4" stroke="#c2c2c2" stroke-width="2.5"/><line x1="1325.4" y1="1891.1" x2="1325.4" y2="1918.4" stroke="#8a8a8a" stroke-width="5.0"/><line x1="1325.4" y1="1891.1" x2="1325.4" y2="1918.4" stroke="#c2c2c2" stroke-width="2.5"/><line x1="1364.5" y1="1891.1" x2="1364.5" y2="1918.4" stroke="#8a8a8a" stroke-width="5.0"/><line x1="1364.5" y1="1891.1" x2="1364.5" y2="1918.4" stroke="#c2c2c2" stroke-width="2.5"/><line x1="1403.7" y1="1891.1" x2="1403.7" y2="1918.4" stroke="#8a8a8a" stroke-width="5.0"/><line x1="1403.7" y1="1891.1" x2="1403.7" y2="1918.4" stroke="#c2c2c2" stroke-width="2.5"/><line x1="1442.8" y1="1891.1" x2="1442.8" y2="1918.4" stroke="#8a8a8a" stroke-width="5.0"/><line x1="1442.8" y1="1891.1" x2="1442.8" y2="1918.4" stroke="#c2c2c2" stroke-width="2.5"/><line x1="1481.9" y1="1891.1" x2="1481.9" y2="1918.4" stroke="#8a8a8a" stroke-width="5.0"/><line x1="1481.9" y1="1891.1" x2="1481.9" y2="1918.4" stroke="#c2c2c2" stroke-width="2.5"/><line x1="1521.0" y1="1891.1" x2="1521.0" y2="1918.4" stroke="#8a8a8a" stroke-width="5.0"/><line x1="1521.0" y1="1891.1" x2="1521.0" y2="1918.4" stroke="#c2c2c2" stroke-width="2.5"/><line x1="1325.4" y1="1918.4" x2="1338.5" y2="1927.6" stroke="#8a8a8a" stroke-width="5.0"/><line x1="1325.4" y1="1918.4" x2="1338.5" y2="1927.6" stroke="#c2c2c2" stroke-width="2.5"/><line x1="1364.5" y1="1918.4" x2="1338.5" y2="1927.6" stroke="#8a8a8a" stroke-width="5.0"/><line x1="1364.5" y1="1918.4" x2="1338.5" y2="1927.6" stroke="#c2c2c2" stroke-width="2.5"/><line x1="1364.5" y1="1918.4" x2="1377.6" y2="1927.6" stroke="#8a8a8a" stroke-width="5.0"/><line x1="1364.5" y1="1918.4" x2="1377.6" y2="1927.6" stroke="#c2c2c2" stroke-width="2.5"/><line x1="1403.7" y1="1918.4" x2="1377.6" y2="1927.6" stroke="#8a8a8a" stroke-width="5.0"/><line x1="1403.7" y1="1918.4" x2="1377.6" y2="1927.6" stroke="#c2c2c2" stroke-width="2.5"/><line x1="1403.7" y1="1918.4" x2="1416.7" y2="1927.6" stroke="#8a8a8a" stroke-width="5.0"/><line x1="1403.7" y1="1918.4" x2="1416.7" y2="1927.6" stroke="#c2c2c2" stroke-width="2.5"/><line x1="1442.8" y1="1918.4" x2="1416.7" y2="1927.6" stroke="#8a8a8a" stroke-width="5.0"/><line x1="1442.8" y1="1918.4" x2="1416.7" y2="1927.6" stroke="#c2c2c2" stroke-width="2.5"/><line x1="1442.8" y1="1918.4" x2="1455.8" y2="1927.6" stroke="#8a8a8a" stroke-width="5.0"/><line x1="1442.8" y1="1918.4" x2="1455.8" y2="1927.6" stroke="#c2c2c2" stroke-width="2.5"/><line x1="1481.9" y1="1918.4" x2="1455.8" y2="1927.6" stroke="#8a8a8a" stroke-width="5.0"/><line x1="1481.9" y1="1918.4" x2="1455.8" y2="1927.6" stroke="#c2c2c2" stroke-width="2.5"/><line x1="1481.9" y1="1918.4" x2="1494.9" y2="1927.6" stroke="#8a8a8a" stroke-width="5.0"/><line x1="1481.9" y1="1918.4" x2="1494.9" y2="1927.6" stroke="#c2c2c2" stroke-width="2.5"/><line x1="1521.0" y1="1918.4" x2="1494.9" y2="1927.6" stroke="#8a8a8a" stroke-width="5.0"/><line x1="1521.0" y1="1918.4" x2="1494.9" y2="1927.6" stroke="#c2c2c2" stroke-width="2.5"/><line x1="1314.3" y1="1881.9" x2="1314.3" y2="1857.8" stroke="#8a8a8a" stroke-width="5.0"/><line x1="1314.3" y1="1881.9" x2="1314.3" y2="1857.8" stroke="#c2c2c2" stroke-width="2.5"/><line x1="1351.5" y1="1881.9" x2="1351.5" y2="1857.8" stroke="#8a8a8a" stroke-width="5.0"/><line x1="1351.5" y1="1881.9" x2="1351.5" y2="1857.8" stroke="#c2c2c2" stroke-width="2.5"/><line x1="1390.6" y1="1881.9" x2="1390.6" y2="1857.8" stroke="#8a8a8a" stroke-width="5.0"/><line x1="1390.6" y1="1881.9" x2="1390.6" y2="1857.8" stroke="#c2c2c2" stroke-width="2.5"/><line x1="1429.7" y1="1881.9" x2="1429.7" y2="1857.8" stroke="#8a8a8a" stroke-width="5.0"/><line x1="1429.7" y1="1881.9" x2="1429.7" y2="1857.8" stroke="#c2c2c2" stroke-width="2.5"/><line x1="1468.8" y1="1881.9" x2="1468.8" y2="1857.8" stroke="#8a8a8a" stroke-width="5.0"/><line x1="1468.8" y1="1881.9" x2="1468.8" y2="1857.8" stroke="#c2c2c2" stroke-width="2.5"/><line x1="1507.3" y1="1881.9" x2="1507.3" y2="1857.8" stroke="#8a8a8a" stroke-width="5.0"/><line x1="1507.3" y1="1881.9" x2="1507.3" y2="1857.8" stroke="#c2c2c2" stroke-width="2.5"/><line x1="1338.5" y1="1927.6" x2="1338.5" y2="1947.1" stroke="#7fd8d2" stroke-width="4.0"/><line x1="1338.5" y1="1927.6" x2="1338.5" y2="1947.1" stroke="#b8f4f0" stroke-width="2.0"/><line x1="1377.6" y1="1927.6" x2="1377.6" y2="1947.1" stroke="#7fd8d2" stroke-width="4.0"/><line x1="1377.6" y1="1927.6" x2="1377.6" y2="1947.1" stroke="#b8f4f0" stroke-width="2.0"/><line x1="1416.7" y1="1927.6" x2="1416.7" y2="1947.1" stroke="#7fd8d2" stroke-width="4.0"/><line x1="1416.7" y1="1927.6" x2="1416.7" y2="1947.1" stroke="#b8f4f0" stroke-width="2.0"/><line x1="1455.8" y1="1927.6" x2="1455.8" y2="1947.1" stroke="#7fd8d2" stroke-width="4.0"/><line x1="1455.8" y1="1927.6" x2="1455.8" y2="1947.1" stroke="#b8f4f0" stroke-width="2.0"/><line x1="1494.9" y1="1927.6" x2="1494.9" y2="1947.1" stroke="#7fd8d2" stroke-width="4.0"/><line x1="1494.9" y1="1927.6" x2="1494.9" y2="1947.1" stroke="#b8f4f0" stroke-width="2.0"/><circle cx="1314.3" cy="1881.9" r="6.5" fill="url(#sphD)" stroke="#555" stroke-width="0.8"/><circle cx="1351.5" cy="1881.9" r="6.5" fill="url(#sphD)" stroke="#555" stroke-width="0.8"/><circle cx="1390.6" cy="1881.9" r="6.5" fill="url(#sphD)" stroke="#555" stroke-width="0.8"/><circle cx="1429.7" cy="1881.9" r="6.5" fill="url(#sphD)" stroke="#555" stroke-width="0.8"/><circle cx="1468.8" cy="1881.9" r="6.5" fill="url(#sphD)" stroke="#555" stroke-width="0.8"/><circle cx="1507.3" cy="1881.9" r="6.5" fill="url(#sphD)" stroke="#555" stroke-width="0.8"/><circle cx="1287.0" cy="1891.1" r="6.5" fill="url(#sphD)" stroke="#555" stroke-width="0.8"/><circle cx="1325.4" cy="1891.1" r="6.5" fill="url(#sphD)" stroke="#555" stroke-width="0.8"/><circle cx="1364.5" cy="1891.1" r="6.5" fill="url(#sphD)" stroke="#555" stroke-width="0.8"/><circle cx="1403.7" cy="1891.1" r="6.5" fill="url(#sphD)" stroke="#555" stroke-width="0.8"/><circle cx="1442.8" cy="1891.1" r="6.5" fill="url(#sphD)" stroke="#555" stroke-width="0.8"/><circle cx="1481.9" cy="1891.1" r="6.5" fill="url(#sphD)" stroke="#555" stroke-width="0.8"/><circle cx="1521.0" cy="1891.1" r="6.5" fill="url(#sphD)" stroke="#555" stroke-width="0.8"/><circle cx="1287.0" cy="1918.4" r="6.5" fill="url(#sphD)" stroke="#555" stroke-width="0.8"/><circle cx="1325.4" cy="1918.4" r="6.5" fill="url(#sphD)" stroke="#555" stroke-width="0.8"/><circle cx="1364.5" cy="1918.4" r="6.5" fill="url(#sphD)" stroke="#555" stroke-width="0.8"/><circle cx="1403.7" cy="1918.4" r="6.5" fill="url(#sphD)" stroke="#555" stroke-width="0.8"/><circle cx="1442.8" cy="1918.4" r="6.5" fill="url(#sphD)" stroke="#555" stroke-width="0.8"/><circle cx="1481.9" cy="1918.4" r="6.5" fill="url(#sphD)" stroke="#555" stroke-width="0.8"/><circle cx="1521.0" cy="1918.4" r="6.5" fill="url(#sphD)" stroke="#555" stroke-width="0.8"/><circle cx="1338.5" cy="1927.6" r="6.5" fill="url(#sphD)" stroke="#555" stroke-width="0.8"/><circle cx="1377.6" cy="1927.6" r="6.5" fill="url(#sphD)" stroke="#555" stroke-width="0.8"/><circle cx="1416.7" cy="1927.6" r="6.5" fill="url(#sphD)" stroke="#555" stroke-width="0.8"/><circle cx="1455.8" cy="1927.6" r="6.5" fill="url(#sphD)" stroke="#555" stroke-width="0.8"/><circle cx="1494.9" cy="1927.6" r="6.5" fill="url(#sphD)" stroke="#555" stroke-width="0.8"/><circle cx="1338.5" cy="1947.1" r="5.0" fill="url(#sphC)" stroke="#4f9c98" stroke-width="0.9"/><circle cx="1377.6" cy="1947.1" r="5.0" fill="url(#sphC)" stroke="#4f9c98" stroke-width="0.9"/><circle cx="1416.7" cy="1947.1" r="5.0" fill="url(#sphC)" stroke="#4f9c98" stroke-width="0.9"/><circle cx="1455.8" cy="1947.1" r="5.0" fill="url(#sphC)" stroke="#4f9c98" stroke-width="0.9"/><circle cx="1494.9" cy="1947.1" r="5.0" fill="url(#sphC)" stroke="#4f9c98" stroke-width="0.9"/><line x1="1314.3" y1="1992.1" x2="1314.3" y2="1972.6" stroke="#7fd8d2" stroke-width="4.0"/><line x1="1314.3" y1="1992.1" x2="1314.3" y2="1972.6" stroke="#b8f4f0" stroke-width="2.0"/><line x1="1351.5" y1="1992.1" x2="1351.5" y2="1972.6" stroke="#7fd8d2" stroke-width="4.0"/><line x1="1351.5" y1="1992.1" x2="1351.5" y2="1972.6" stroke="#b8f4f0" stroke-width="2.0"/><line x1="1390.6" y1="1992.1" x2="1390.6" y2="1972.6" stroke="#7fd8d2" stroke-width="4.0"/><line x1="1390.6" y1="1992.1" x2="1390.6" y2="1972.6" stroke="#b8f4f0" stroke-width="2.0"/><line x1="1429.7" y1="1992.1" x2="1429.7" y2="1972.6" stroke="#7fd8d2" stroke-width="4.0"/><line x1="1429.7" y1="1992.1" x2="1429.7" y2="1972.6" stroke="#b8f4f0" stroke-width="2.0"/><line x1="1468.8" y1="1992.1" x2="1468.8" y2="1972.6" stroke="#7fd8d2" stroke-width="4.0"/><line x1="1468.8" y1="1992.1" x2="1468.8" y2="1972.6" stroke="#b8f4f0" stroke-width="2.0"/><line x1="1507.3" y1="1992.1" x2="1507.3" y2="1972.6" stroke="#7fd8d2" stroke-width="4.0"/><line x1="1507.3" y1="1992.1" x2="1507.3" y2="1972.6" stroke="#b8f4f0" stroke-width="2.0"/><line x1="1314.3" y1="1992.1" x2="1287.0" y2="2001.2" stroke="#8a8a8a" stroke-width="5.0"/><line x1="1314.3" y1="1992.1" x2="1287.0" y2="2001.2" stroke="#c2c2c2" stroke-width="2.5"/><line x1="1314.3" y1="1992.1" x2="1325.4" y2="2001.2" stroke="#8a8a8a" stroke-width="5.0"/><line x1="1314.3" y1="1992.1" x2="1325.4" y2="2001.2" stroke="#c2c2c2" stroke-width="2.5"/><line x1="1351.5" y1="1992.1" x2="1325.4" y2="2001.2" stroke="#8a8a8a" stroke-width="5.0"/><line x1="1351.5" y1="1992.1" x2="1325.4" y2="2001.2" stroke="#c2c2c2" stroke-width="2.5"/><line x1="1351.5" y1="1992.1" x2="1364.5" y2="2001.2" stroke="#8a8a8a" stroke-width="5.0"/><line x1="1351.5" y1="1992.1" x2="1364.5" y2="2001.2" stroke="#c2c2c2" stroke-width="2.5"/><line x1="1390.6" y1="1992.1" x2="1364.5" y2="2001.2" stroke="#8a8a8a" stroke-width="5.0"/><line x1="1390.6" y1="1992.1" x2="1364.5" y2="2001.2" stroke="#c2c2c2" stroke-width="2.5"/><line x1="1390.6" y1="1992.1" x2="1403.7" y2="2001.2" stroke="#8a8a8a" stroke-width="5.0"/><line x1="1390.6" y1="1992.1" x2="1403.7" y2="2001.2" stroke="#c2c2c2" stroke-width="2.5"/><line x1="1429.7" y1="1992.1" x2="1403.7" y2="2001.2" stroke="#8a8a8a" stroke-width="5.0"/><line x1="1429.7" y1="1992.1" x2="1403.7" y2="2001.2" stroke="#c2c2c2" stroke-width="2.5"/><line x1="1429.7" y1="1992.1" x2="1442.8" y2="2001.2" stroke="#8a8a8a" stroke-width="5.0"/><line x1="1429.7" y1="1992.1" x2="1442.8" y2="2001.2" stroke="#c2c2c2" stroke-width="2.5"/><line x1="1468.8" y1="1992.1" x2="1442.8" y2="2001.2" stroke="#8a8a8a" stroke-width="5.0"/><line x1="1468.8" y1="1992.1" x2="1442.8" y2="2001.2" stroke="#c2c2c2" stroke-width="2.5"/><line x1="1468.8" y1="1992.1" x2="1481.9" y2="2001.2" stroke="#8a8a8a" stroke-width="5.0"/><line x1="1468.8" y1="1992.1" x2="1481.9" y2="2001.2" stroke="#c2c2c2" stroke-width="2.5"/><line x1="1507.3" y1="1992.1" x2="1481.9" y2="2001.2" stroke="#8a8a8a" stroke-width="5.0"/><line x1="1507.3" y1="1992.1" x2="1481.9" y2="2001.2" stroke="#c2c2c2" stroke-width="2.5"/><line x1="1507.3" y1="1992.1" x2="1521.0" y2="2001.2" stroke="#8a8a8a" stroke-width="5.0"/><line x1="1507.3" y1="1992.1" x2="1521.0" y2="2001.2" stroke="#c2c2c2" stroke-width="2.5"/><line x1="1287.0" y1="2001.2" x2="1287.0" y2="2028.6" stroke="#8a8a8a" stroke-width="5.0"/><line x1="1287.0" y1="2001.2" x2="1287.0" y2="2028.6" stroke="#c2c2c2" stroke-width="2.5"/><line x1="1325.4" y1="2001.2" x2="1325.4" y2="2028.6" stroke="#8a8a8a" stroke-width="5.0"/><line x1="1325.4" y1="2001.2" x2="1325.4" y2="2028.6" stroke="#c2c2c2" stroke-width="2.5"/><line x1="1364.5" y1="2001.2" x2="1364.5" y2="2028.6" stroke="#8a8a8a" stroke-width="5.0"/><line x1="1364.5" y1="2001.2" x2="1364.5" y2="2028.6" stroke="#c2c2c2" stroke-width="2.5"/><line x1="1403.7" y1="2001.2" x2="1403.7" y2="2028.6" stroke="#8a8a8a" stroke-width="5.0"/><line x1="1403.7" y1="2001.2" x2="1403.7" y2="2028.6" stroke="#c2c2c2" stroke-width="2.5"/><line x1="1442.8" y1="2001.2" x2="1442.8" y2="2028.6" stroke="#8a8a8a" stroke-width="5.0"/><line x1="1442.8" y1="2001.2" x2="1442.8" y2="2028.6" stroke="#c2c2c2" stroke-width="2.5"/><line x1="1481.9" y1="2001.2" x2="1481.9" y2="2028.6" stroke="#8a8a8a" stroke-width="5.0"/><line x1="1481.9" y1="2001.2" x2="1481.9" y2="2028.6" stroke="#c2c2c2" stroke-width="2.5"/><line x1="1521.0" y1="2001.2" x2="1521.0" y2="2028.6" stroke="#8a8a8a" stroke-width="5.0"/><line x1="1521.0" y1="2001.2" x2="1521.0" y2="2028.6" stroke="#c2c2c2" stroke-width="2.5"/><line x1="1325.4" y1="2028.6" x2="1338.5" y2="2037.7" stroke="#8a8a8a" stroke-width="5.0"/><line x1="1325.4" y1="2028.6" x2="1338.5" y2="2037.7" stroke="#c2c2c2" stroke-width="2.5"/><line x1="1364.5" y1="2028.6" x2="1338.5" y2="2037.7" stroke="#8a8a8a" stroke-width="5.0"/><line x1="1364.5" y1="2028.6" x2="1338.5" y2="2037.7" stroke="#c2c2c2" stroke-width="2.5"/><line x1="1364.5" y1="2028.6" x2="1377.6" y2="2037.7" stroke="#8a8a8a" stroke-width="5.0"/><line x1="1364.5" y1="2028.6" x2="1377.6" y2="2037.7" stroke="#c2c2c2" stroke-width="2.5"/><line x1="1403.7" y1="2028.6" x2="1377.6" y2="2037.7" stroke="#8a8a8a" stroke-width="5.0"/><line x1="1403.7" y1="2028.6" x2="1377.6" y2="2037.7" stroke="#c2c2c2" stroke-width="2.5"/><line x1="1403.7" y1="2028.6" x2="1416.7" y2="2037.7" stroke="#8a8a8a" stroke-width="5.0"/><line x1="1403.7" y1="2028.6" x2="1416.7" y2="2037.7" stroke="#c2c2c2" stroke-width="2.5"/><line x1="1442.8" y1="2028.6" x2="1416.7" y2="2037.7" stroke="#8a8a8a" stroke-width="5.0"/><line x1="1442.8" y1="2028.6" x2="1416.7" y2="2037.7" stroke="#c2c2c2" stroke-width="2.5"/><line x1="1442.8" y1="2028.6" x2="1455.8" y2="2037.7" stroke="#8a8a8a" stroke-width="5.0"/><line x1="1442.8" y1="2028.6" x2="1455.8" y2="2037.7" stroke="#c2c2c2" stroke-width="2.5"/><line x1="1481.9" y1="2028.6" x2="1455.8" y2="2037.7" stroke="#8a8a8a" stroke-width="5.0"/><line x1="1481.9" y1="2028.6" x2="1455.8" y2="2037.7" stroke="#c2c2c2" stroke-width="2.5"/><line x1="1481.9" y1="2028.6" x2="1494.9" y2="2037.7" stroke="#8a8a8a" stroke-width="5.0"/><line x1="1481.9" y1="2028.6" x2="1494.9" y2="2037.7" stroke="#c2c2c2" stroke-width="2.5"/><line x1="1521.0" y1="2028.6" x2="1494.9" y2="2037.7" stroke="#8a8a8a" stroke-width="5.0"/><line x1="1521.0" y1="2028.6" x2="1494.9" y2="2037.7" stroke="#c2c2c2" stroke-width="2.5"/><circle cx="1314.3" cy="1992.1" r="6.5" fill="url(#sphD)" stroke="#555" stroke-width="0.8"/><circle cx="1351.5" cy="1992.1" r="6.5" fill="url(#sphD)" stroke="#555" stroke-width="0.8"/><circle cx="1390.6" cy="1992.1" r="6.5" fill="url(#sphD)" stroke="#555" stroke-width="0.8"/><circle cx="1429.7" cy="1992.1" r="6.5" fill="url(#sphD)" stroke="#555" stroke-width="0.8"/><circle cx="1468.8" cy="1992.1" r="6.5" fill="url(#sphD)" stroke="#555" stroke-width="0.8"/><circle cx="1507.3" cy="1992.1" r="6.5" fill="url(#sphD)" stroke="#555" stroke-width="0.8"/><circle cx="1287.0" cy="2001.2" r="6.5" fill="url(#sphD)" stroke="#555" stroke-width="0.8"/><circle cx="1325.4" cy="2001.2" r="6.5" fill="url(#sphD)" stroke="#555" stroke-width="0.8"/><circle cx="1364.5" cy="2001.2" r="6.5" fill="url(#sphD)" stroke="#555" stroke-width="0.8"/><circle cx="1403.7" cy="2001.2" r="6.5" fill="url(#sphD)" stroke="#555" stroke-width="0.8"/><circle cx="1442.8" cy="2001.2" r="6.5" fill="url(#sphD)" stroke="#555" stroke-width="0.8"/><circle cx="1481.9" cy="2001.2" r="6.5" fill="url(#sphD)" stroke="#555" stroke-width="0.8"/><circle cx="1521.0" cy="2001.2" r="6.5" fill="url(#sphD)" stroke="#555" stroke-width="0.8"/><circle cx="1287.0" cy="2028.6" r="6.5" fill="url(#sphD)" stroke="#555" stroke-width="0.8"/><circle cx="1325.4" cy="2028.6" r="6.5" fill="url(#sphD)" stroke="#555" stroke-width="0.8"/><circle cx="1364.5" cy="2028.6" r="6.5" fill="url(#sphD)" stroke="#555" stroke-width="0.8"/><circle cx="1403.7" cy="2028.6" r="6.5" fill="url(#sphD)" stroke="#555" stroke-width="0.8"/><circle cx="1442.8" cy="2028.6" r="6.5" fill="url(#sphD)" stroke="#555" stroke-width="0.8"/><circle cx="1481.9" cy="2028.6" r="6.5" fill="url(#sphD)" stroke="#555" stroke-width="0.8"/><circle cx="1521.0" cy="2028.6" r="6.5" fill="url(#sphD)" stroke="#555" stroke-width="0.8"/><circle cx="1338.5" cy="2037.7" r="6.5" fill="url(#sphD)" stroke="#555" stroke-width="0.8"/><circle cx="1377.6" cy="2037.7" r="6.5" fill="url(#sphD)" stroke="#555" stroke-width="0.8"/><circle cx="1416.7" cy="2037.7" r="6.5" fill="url(#sphD)" stroke="#555" stroke-width="0.8"/><circle cx="1455.8" cy="2037.7" r="6.5" fill="url(#sphD)" stroke="#555" stroke-width="0.8"/><circle cx="1494.9" cy="2037.7" r="6.5" fill="url(#sphD)" stroke="#555" stroke-width="0.8"/><circle cx="1314.3" cy="1972.6" r="5.0" fill="url(#sphC)" stroke="#4f9c98" stroke-width="0.9"/><circle cx="1351.5" cy="1972.6" r="5.0" fill="url(#sphC)" stroke="#4f9c98" stroke-width="0.9"/><circle cx="1390.6" cy="1972.6" r="5.0" fill="url(#sphC)" stroke="#4f9c98" stroke-width="0.9"/><circle cx="1429.7" cy="1972.6" r="5.0" fill="url(#sphC)" stroke="#4f9c98" stroke-width="0.9"/><circle cx="1468.8" cy="1972.6" r="5.0" fill="url(#sphC)" stroke="#4f9c98" stroke-width="0.9"/><circle cx="1507.3" cy="1972.6" r="5.0" fill="url(#sphC)" stroke="#4f9c98" stroke-width="0.9"/><line x1="1338.5" y1="2037.7" x2="1338.5" y2="2065.1" stroke="#8a8a8a" stroke-width="5.0"/><line x1="1338.5" y1="2037.7" x2="1338.5" y2="2065.1" stroke="#c2c2c2" stroke-width="2.5"/><circle cx="1338.5" cy="2037.7" r="6.5" fill="url(#sphD)" stroke="#555" stroke-width="0.8"/><line x1="1377.6" y1="2037.7" x2="1377.6" y2="2065.1" stroke="#8a8a8a" stroke-width="5.0"/><line x1="1377.6" y1="2037.7" x2="1377.6" y2="2065.1" stroke="#c2c2c2" stroke-width="2.5"/><circle cx="1377.6" cy="2037.7" r="6.5" fill="url(#sphD)" stroke="#555" stroke-width="0.8"/><line x1="1416.7" y1="2037.7" x2="1416.7" y2="2065.1" stroke="#8a8a8a" stroke-width="5.0"/><line x1="1416.7" y1="2037.7" x2="1416.7" y2="2065.1" stroke="#c2c2c2" stroke-width="2.5"/><circle cx="1416.7" cy="2037.7" r="6.5" fill="url(#sphD)" stroke="#555" stroke-width="0.8"/><line x1="1455.8" y1="2037.7" x2="1455.8" y2="2065.1" stroke="#8a8a8a" stroke-width="5.0"/><line x1="1455.8" y1="2037.7" x2="1455.8" y2="2065.1" stroke="#c2c2c2" stroke-width="2.5"/><circle cx="1455.8" cy="2037.7" r="6.5" fill="url(#sphD)" stroke="#555" stroke-width="0.8"/><line x1="1494.9" y1="2037.7" x2="1494.9" y2="2065.1" stroke="#8a8a8a" stroke-width="5.0"/><line x1="1494.9" y1="2037.7" x2="1494.9" y2="2065.1" stroke="#c2c2c2" stroke-width="2.5"/><circle cx="1494.9" cy="2037.7" r="6.5" fill="url(#sphD)" stroke="#555" stroke-width="0.8"/></g><line x1="1312.4" y1="1926.9" x2="1512.5" y2="1926.9" stroke="#777" stroke-width="3" stroke-dasharray="10 8"/><line x1="1312.4" y1="1992.1" x2="1512.5" y2="1992.1" stroke="#777" stroke-width="3" stroke-dasharray="10 8"/><rect x="1312.4" y="1861.7" width="200.1" height="199.5" fill="none" stroke="#777" stroke-width="4" stroke-dasharray="15.5 14.5"/><line x1="1442.1" y1="1932.5" x2="1442.1" y2="1986.5" stroke="#000" stroke-width="2.2"/><path d="M1442.1,1927.5 L1454.6,1950.5 L1442.1,1941.3 L1429.6,1950.5 Z" fill="#000"/><path d="M1442.1,1991.5 L1454.6,1968.5 L1442.1,1977.7 L1429.6,1968.5 Z" fill="#000"/><text x="1457.0" y="1959.5" font-size="33" fill="#000">D</text><g clip-path="url(#ib13)"><line x1="1513.2" y1="1854.2" x2="1560.0" y2="1854.2" stroke="#8a8a8a" stroke-width="8.5"/><line x1="1513.2" y1="1854.2" x2="1560.0" y2="1854.2" stroke="#c2c2c2" stroke-width="5.9"/><line x1="1513.2" y1="1854.2" x2="1536.8" y2="1895.3" stroke="#8a8a8a" stroke-width="8.5"/><line x1="1513.2" y1="1854.2" x2="1536.8" y2="1895.3" stroke="#c2c2c2" stroke-width="5.9"/><line x1="1560.0" y1="1854.2" x2="1606.8" y2="1854.2" stroke="#8a8a8a" stroke-width="8.5"/><line x1="1560.0" y1="1854.2" x2="1606.8" y2="1854.2" stroke="#c2c2c2" stroke-width="5.9"/><line x1="1560.0" y1="1854.2" x2="1536.8" y2="1895.3" stroke="#8a8a8a" stroke-width="8.5"/><line x1="1560.0" y1="1854.2" x2="1536.8" y2="1895.3" stroke="#c2c2c2" stroke-width="5.9"/><line x1="1560.0" y1="1854.2" x2="1583.2" y2="1895.3" stroke="#8a8a8a" stroke-width="8.5"/><line x1="1560.0" y1="1854.2" x2="1583.2" y2="1895.3" stroke="#c2c2c2" stroke-width="5.9"/><line x1="1606.8" y1="1854.2" x2="1654.2" y2="1854.2" stroke="#8a8a8a" stroke-width="8.5"/><line x1="1606.8" y1="1854.2" x2="1654.2" y2="1854.2" stroke="#c2c2c2" stroke-width="5.9"/><line x1="1606.8" y1="1854.2" x2="1583.2" y2="1895.3" stroke="#8a8a8a" stroke-width="8.5"/><line x1="1606.8" y1="1854.2" x2="1583.2" y2="1895.3" stroke="#c2c2c2" stroke-width="5.9"/><line x1="1606.8" y1="1854.2" x2="1630.5" y2="1895.3" stroke="#8a8a8a" stroke-width="8.5"/><line x1="1606.8" y1="1854.2" x2="1630.5" y2="1895.3" stroke="#c2c2c2" stroke-width="5.9"/><line x1="1654.2" y1="1854.2" x2="1701.1" y2="1854.2" stroke="#8a8a8a" stroke-width="8.5"/><line x1="1654.2" y1="1854.2" x2="1701.1" y2="1854.2" stroke="#c2c2c2" stroke-width="5.9"/><line x1="1654.2" y1="1854.2" x2="1630.5" y2="1895.3" stroke="#8a8a8a" stroke-width="8.5"/><line x1="1654.2" y1="1854.2" x2="1630.5" y2="1895.3" stroke="#c2c2c2" stroke-width="5.9"/><line x1="1654.2" y1="1854.2" x2="1677.4" y2="1895.3" stroke="#8a8a8a" stroke-width="8.5"/><line x1="1654.2" y1="1854.2" x2="1677.4" y2="1895.3" stroke="#c2c2c2" stroke-width="5.9"/><line x1="1701.1" y1="1854.2" x2="1677.4" y2="1895.3" stroke="#8a8a8a" stroke-width="8.5"/><line x1="1701.1" y1="1854.2" x2="1677.4" y2="1895.3" stroke="#c2c2c2" stroke-width="5.9"/><line x1="1536.8" y1="1895.3" x2="1583.2" y2="1895.3" stroke="#8a8a8a" stroke-width="8.5"/><line x1="1536.8" y1="1895.3" x2="1583.2" y2="1895.3" stroke="#c2c2c2" stroke-width="5.9"/><line x1="1536.8" y1="1895.3" x2="1513.2" y2="1936.3" stroke="#8a8a8a" stroke-width="8.5"/><line x1="1536.8" y1="1895.3" x2="1513.2" y2="1936.3" stroke="#c2c2c2" stroke-width="5.9"/><line x1="1536.8" y1="1895.3" x2="1560.0" y2="1936.3" stroke="#8a8a8a" stroke-width="8.5"/><line x1="1536.8" y1="1895.3" x2="1560.0" y2="1936.3" stroke="#c2c2c2" stroke-width="5.9"/><line x1="1583.2" y1="1895.3" x2="1630.5" y2="1895.3" stroke="#8a8a8a" stroke-width="8.5"/><line x1="1583.2" y1="1895.3" x2="1630.5" y2="1895.3" stroke="#c2c2c2" stroke-width="5.9"/><line x1="1583.2" y1="1895.3" x2="1560.0" y2="1936.3" stroke="#8a8a8a" stroke-width="8.5"/><line x1="1583.2" y1="1895.3" x2="1560.0" y2="1936.3" stroke="#c2c2c2" stroke-width="5.9"/><line x1="1583.2" y1="1895.3" x2="1606.8" y2="1936.3" stroke="#8a8a8a" stroke-width="8.5"/><line x1="1583.2" y1="1895.3" x2="1606.8" y2="1936.3" stroke="#c2c2c2" stroke-width="5.9"/><line x1="1630.5" y1="1895.3" x2="1677.4" y2="1895.3" stroke="#8a8a8a" stroke-width="8.5"/><line x1="1630.5" y1="1895.3" x2="1677.4" y2="1895.3" stroke="#c2c2c2" stroke-width="5.9"/><line x1="1630.5" y1="1895.3" x2="1606.8" y2="1936.3" stroke="#8a8a8a" stroke-width="8.5"/><line x1="1630.5" y1="1895.3" x2="1606.8" y2="1936.3" stroke="#c2c2c2" stroke-width="5.9"/><line x1="1630.5" y1="1895.3" x2="1654.2" y2="1936.3" stroke="#8a8a8a" stroke-width="8.5"/><line x1="1630.5" y1="1895.3" x2="1654.2" y2="1936.3" stroke="#c2c2c2" stroke-width="5.9"/><line x1="1677.4" y1="1895.3" x2="1654.2" y2="1936.3" stroke="#8a8a8a" stroke-width="8.5"/><line x1="1677.4" y1="1895.3" x2="1654.2" y2="1936.3" stroke="#c2c2c2" stroke-width="5.9"/><line x1="1677.4" y1="1895.3" x2="1701.1" y2="1936.3" stroke="#8a8a8a" stroke-width="8.5"/><line x1="1677.4" y1="1895.3" x2="1701.1" y2="1936.3" stroke="#c2c2c2" stroke-width="5.9"/><line x1="1513.2" y1="1936.3" x2="1560.0" y2="1936.3" stroke="#8a8a8a" stroke-width="8.5"/><line x1="1513.2" y1="1936.3" x2="1560.0" y2="1936.3" stroke="#c2c2c2" stroke-width="5.9"/><line x1="1513.2" y1="1936.3" x2="1536.8" y2="1977.4" stroke="#8a8a8a" stroke-width="8.5"/><line x1="1513.2" y1="1936.3" x2="1536.8" y2="1977.4" stroke="#c2c2c2" stroke-width="5.9"/><line x1="1560.0" y1="1936.3" x2="1606.8" y2="1936.3" stroke="#8a8a8a" stroke-width="8.5"/><line x1="1560.0" y1="1936.3" x2="1606.8" y2="1936.3" stroke="#c2c2c2" stroke-width="5.9"/><line x1="1560.0" y1="1936.3" x2="1536.8" y2="1977.4" stroke="#8a8a8a" stroke-width="8.5"/><line x1="1560.0" y1="1936.3" x2="1536.8" y2="1977.4" stroke="#c2c2c2" stroke-width="5.9"/><line x1="1560.0" y1="1936.3" x2="1583.2" y2="1977.4" stroke="#8a8a8a" stroke-width="8.5"/><line x1="1560.0" y1="1936.3" x2="1583.2" y2="1977.4" stroke="#c2c2c2" stroke-width="5.9"/><line x1="1606.8" y1="1936.3" x2="1654.2" y2="1936.3" stroke="#8a8a8a" stroke-width="8.5"/><line x1="1606.8" y1="1936.3" x2="1654.2" y2="1936.3" stroke="#c2c2c2" stroke-width="5.9"/><line x1="1606.8" y1="1936.3" x2="1583.2" y2="1977.4" stroke="#8a8a8a" stroke-width="8.5"/><line x1="1606.8" y1="1936.3" x2="1583.2" y2="1977.4" stroke="#c2c2c2" stroke-width="5.9"/><line x1="1606.8" y1="1936.3" x2="1630.5" y2="1977.4" stroke="#8a8a8a" stroke-width="8.5"/><line x1="1606.8" y1="1936.3" x2="1630.5" y2="1977.4" stroke="#c2c2c2" stroke-width="5.9"/><line x1="1654.2" y1="1936.3" x2="1701.1" y2="1936.3" stroke="#8a8a8a" stroke-width="8.5"/><line x1="1654.2" y1="1936.3" x2="1701.1" y2="1936.3" stroke="#c2c2c2" stroke-width="5.9"/><line x1="1654.2" y1="1936.3" x2="1630.5" y2="1977.4" stroke="#8a8a8a" stroke-width="8.5"/><line x1="1654.2" y1="1936.3" x2="1630.5" y2="1977.4" stroke="#c2c2c2" stroke-width="5.9"/><line x1="1654.2" y1="1936.3" x2="1677.4" y2="1977.4" stroke="#8a8a8a" stroke-width="8.5"/><line x1="1654.2" y1="1936.3" x2="1677.4" y2="1977.4" stroke="#c2c2c2" stroke-width="5.9"/><line x1="1701.1" y1="1936.3" x2="1677.4" y2="1977.4" stroke="#8a8a8a" stroke-width="8.5"/><line x1="1701.1" y1="1936.3" x2="1677.4" y2="1977.4" stroke="#c2c2c2" stroke-width="5.9"/><line x1="1536.8" y1="1977.4" x2="1583.2" y2="1977.4" stroke="#8a8a8a" stroke-width="8.5"/><line x1="1536.8" y1="1977.4" x2="1583.2" y2="1977.4" stroke="#c2c2c2" stroke-width="5.9"/><line x1="1536.8" y1="1977.4" x2="1513.2" y2="2018.4" stroke="#8a8a8a" stroke-width="8.5"/><line x1="1536.8" y1="1977.4" x2="1513.2" y2="2018.4" stroke="#c2c2c2" stroke-width="5.9"/><line x1="1536.8" y1="1977.4" x2="1560.0" y2="2018.4" stroke="#8a8a8a" stroke-width="8.5"/><line x1="1536.8" y1="1977.4" x2="1560.0" y2="2018.4" stroke="#c2c2c2" stroke-width="5.9"/><line x1="1583.2" y1="1977.4" x2="1630.5" y2="1977.4" stroke="#8a8a8a" stroke-width="8.5"/><line x1="1583.2" y1="1977.4" x2="1630.5" y2="1977.4" stroke="#c2c2c2" stroke-width="5.9"/><line x1="1583.2" y1="1977.4" x2="1560.0" y2="2018.4" stroke="#8a8a8a" stroke-width="8.5"/><line x1="1583.2" y1="1977.4" x2="1560.0" y2="2018.4" stroke="#c2c2c2" stroke-width="5.9"/><line x1="1583.2" y1="1977.4" x2="1606.8" y2="2018.4" stroke="#8a8a8a" stroke-width="8.5"/><line x1="1583.2" y1="1977.4" x2="1606.8" y2="2018.4" stroke="#c2c2c2" stroke-width="5.9"/><line x1="1630.5" y1="1977.4" x2="1677.4" y2="1977.4" stroke="#8a8a8a" stroke-width="8.5"/><line x1="1630.5" y1="1977.4" x2="1677.4" y2="1977.4" stroke="#c2c2c2" stroke-width="5.9"/><line x1="1630.5" y1="1977.4" x2="1606.8" y2="2018.4" stroke="#8a8a8a" stroke-width="8.5"/><line x1="1630.5" y1="1977.4" x2="1606.8" y2="2018.4" stroke="#c2c2c2" stroke-width="5.9"/><line x1="1630.5" y1="1977.4" x2="1654.2" y2="2018.4" stroke="#8a8a8a" stroke-width="8.5"/><line x1="1630.5" y1="1977.4" x2="1654.2" y2="2018.4" stroke="#c2c2c2" stroke-width="5.9"/><line x1="1677.4" y1="1977.4" x2="1654.2" y2="2018.4" stroke="#8a8a8a" stroke-width="8.5"/><line x1="1677.4" y1="1977.4" x2="1654.2" y2="2018.4" stroke="#c2c2c2" stroke-width="5.9"/><line x1="1677.4" y1="1977.4" x2="1701.1" y2="2018.4" stroke="#8a8a8a" stroke-width="8.5"/><line x1="1677.4" y1="1977.4" x2="1701.1" y2="2018.4" stroke="#c2c2c2" stroke-width="5.9"/><line x1="1513.2" y1="2018.4" x2="1560.0" y2="2018.4" stroke="#8a8a8a" stroke-width="8.5"/><line x1="1513.2" y1="2018.4" x2="1560.0" y2="2018.4" stroke="#c2c2c2" stroke-width="5.9"/><line x1="1513.2" y1="2018.4" x2="1536.8" y2="2059.5" stroke="#8a8a8a" stroke-width="8.5"/><line x1="1513.2" y1="2018.4" x2="1536.8" y2="2059.5" stroke="#c2c2c2" stroke-width="5.9"/><line x1="1560.0" y1="2018.4" x2="1606.8" y2="2018.4" stroke="#8a8a8a" stroke-width="8.5"/><line x1="1560.0" y1="2018.4" x2="1606.8" y2="2018.4" stroke="#c2c2c2" stroke-width="5.9"/><line x1="1560.0" y1="2018.4" x2="1536.8" y2="2059.5" stroke="#8a8a8a" stroke-width="8.5"/><line x1="1560.0" y1="2018.4" x2="1536.8" y2="2059.5" stroke="#c2c2c2" stroke-width="5.9"/><line x1="1560.0" y1="2018.4" x2="1583.2" y2="2059.5" stroke="#8a8a8a" stroke-width="8.5"/><line x1="1560.0" y1="2018.4" x2="1583.2" y2="2059.5" stroke="#c2c2c2" stroke-width="5.9"/><line x1="1606.8" y1="2018.4" x2="1654.2" y2="2018.4" stroke="#8a8a8a" stroke-width="8.5"/><line x1="1606.8" y1="2018.4" x2="1654.2" y2="2018.4" stroke="#c2c2c2" stroke-width="5.9"/><line x1="1606.8" y1="2018.4" x2="1583.2" y2="2059.5" stroke="#8a8a8a" stroke-width="8.5"/><line x1="1606.8" y1="2018.4" x2="1583.2" y2="2059.5" stroke="#c2c2c2" stroke-width="5.9"/><line x1="1606.8" y1="2018.4" x2="1630.5" y2="2059.5" stroke="#8a8a8a" stroke-width="8.5"/><line x1="1606.8" y1="2018.4" x2="1630.5" y2="2059.5" stroke="#c2c2c2" stroke-width="5.9"/><line x1="1654.2" y1="2018.4" x2="1701.1" y2="2018.4" stroke="#8a8a8a" stroke-width="8.5"/><line x1="1654.2" y1="2018.4" x2="1701.1" y2="2018.4" stroke="#c2c2c2" stroke-width="5.9"/><line x1="1654.2" y1="2018.4" x2="1630.5" y2="2059.5" stroke="#8a8a8a" stroke-width="8.5"/><line x1="1654.2" y1="2018.4" x2="1630.5" y2="2059.5" stroke="#c2c2c2" stroke-width="5.9"/><line x1="1654.2" y1="2018.4" x2="1677.4" y2="2059.5" stroke="#8a8a8a" stroke-width="8.5"/><line x1="1654.2" y1="2018.4" x2="1677.4" y2="2059.5" stroke="#c2c2c2" stroke-width="5.9"/><line x1="1701.1" y1="2018.4" x2="1677.4" y2="2059.5" stroke="#8a8a8a" stroke-width="8.5"/><line x1="1701.1" y1="2018.4" x2="1677.4" y2="2059.5" stroke="#c2c2c2" stroke-width="5.9"/><line x1="1536.8" y1="2059.5" x2="1583.2" y2="2059.5" stroke="#8a8a8a" stroke-width="8.5"/><line x1="1536.8" y1="2059.5" x2="1583.2" y2="2059.5" stroke="#c2c2c2" stroke-width="5.9"/><line x1="1583.2" y1="2059.5" x2="1630.5" y2="2059.5" stroke="#8a8a8a" stroke-width="8.5"/><line x1="1583.2" y1="2059.5" x2="1630.5" y2="2059.5" stroke="#c2c2c2" stroke-width="5.9"/><line x1="1630.5" y1="2059.5" x2="1677.4" y2="2059.5" stroke="#8a8a8a" stroke-width="8.5"/><line x1="1630.5" y1="2059.5" x2="1677.4" y2="2059.5" stroke="#c2c2c2" stroke-width="5.9"/><circle cx="1513.2" cy="1854.2" r="11.8" fill="url(#sphG)" stroke="#6d6d6d" stroke-width="0.9"/><circle cx="1560.0" cy="1854.2" r="11.8" fill="url(#sphG)" stroke="#6d6d6d" stroke-width="0.9"/><circle cx="1560.0" cy="1854.2" r="9.5" fill="url(#sphC)" stroke="#4f9c98" stroke-width="0.9"/><circle cx="1606.8" cy="1854.2" r="11.8" fill="url(#sphG)" stroke="#6d6d6d" stroke-width="0.9"/><circle cx="1654.2" cy="1854.2" r="11.8" fill="url(#sphG)" stroke="#6d6d6d" stroke-width="0.9"/><circle cx="1701.1" cy="1854.2" r="11.8" fill="url(#sphG)" stroke="#6d6d6d" stroke-width="0.9"/><circle cx="1536.8" cy="1895.3" r="11.8" fill="url(#sphG)" stroke="#6d6d6d" stroke-width="0.9"/><circle cx="1583.2" cy="1895.3" r="11.8" fill="url(#sphG)" stroke="#6d6d6d" stroke-width="0.9"/><circle cx="1630.5" cy="1895.3" r="11.8" fill="url(#sphG)" stroke="#6d6d6d" stroke-width="0.9"/><circle cx="1630.5" cy="1895.3" r="9.5" fill="url(#sphC)" stroke="#4f9c98" stroke-width="0.9"/><circle cx="1677.4" cy="1895.3" r="11.8" fill="url(#sphG)" stroke="#6d6d6d" stroke-width="0.9"/><circle cx="1513.2" cy="1936.3" r="11.8" fill="url(#sphG)" stroke="#6d6d6d" stroke-width="0.9"/><circle cx="1560.0" cy="1936.3" r="11.8" fill="url(#sphG)" stroke="#6d6d6d" stroke-width="0.9"/><circle cx="1560.0" cy="1936.3" r="9.5" fill="url(#sphC)" stroke="#4f9c98" stroke-width="0.9"/><circle cx="1606.8" cy="1936.3" r="11.8" fill="url(#sphG)" stroke="#6d6d6d" stroke-width="0.9"/><circle cx="1654.2" cy="1936.3" r="11.8" fill="url(#sphG)" stroke="#6d6d6d" stroke-width="0.9"/><circle cx="1701.1" cy="1936.3" r="11.8" fill="url(#sphG)" stroke="#6d6d6d" stroke-width="0.9"/><circle cx="1536.8" cy="1977.4" r="11.8" fill="url(#sphG)" stroke="#6d6d6d" stroke-width="0.9"/><circle cx="1583.2" cy="1977.4" r="11.8" fill="url(#sphG)" stroke="#6d6d6d" stroke-width="0.9"/><circle cx="1630.5" cy="1977.4" r="11.8" fill="url(#sphG)" stroke="#6d6d6d" stroke-width="0.9"/><circle cx="1630.5" cy="1977.4" r="9.5" fill="url(#sphC)" stroke="#4f9c98" stroke-width="0.9"/><circle cx="1677.4" cy="1977.4" r="11.8" fill="url(#sphG)" stroke="#6d6d6d" stroke-width="0.9"/><circle cx="1513.2" cy="2018.4" r="11.8" fill="url(#sphG)" stroke="#6d6d6d" stroke-width="0.9"/><circle cx="1560.0" cy="2018.4" r="11.8" fill="url(#sphG)" stroke="#6d6d6d" stroke-width="0.9"/><circle cx="1560.0" cy="2018.4" r="9.5" fill="url(#sphC)" stroke="#4f9c98" stroke-width="0.9"/><circle cx="1606.8" cy="2018.4" r="11.8" fill="url(#sphG)" stroke="#6d6d6d" stroke-width="0.9"/><circle cx="1654.2" cy="2018.4" r="11.8" fill="url(#sphG)" stroke="#6d6d6d" stroke-width="0.9"/><circle cx="1701.1" cy="2018.4" r="11.8" fill="url(#sphG)" stroke="#6d6d6d" stroke-width="0.9"/><circle cx="1536.8" cy="2059.5" r="11.8" fill="url(#sphG)" stroke="#6d6d6d" stroke-width="0.9"/><circle cx="1583.2" cy="2059.5" r="11.8" fill="url(#sphG)" stroke="#6d6d6d" stroke-width="0.9"/><circle cx="1630.5" cy="2059.5" r="11.8" fill="url(#sphG)" stroke="#6d6d6d" stroke-width="0.9"/><circle cx="1630.5" cy="2059.5" r="9.5" fill="url(#sphC)" stroke="#4f9c98" stroke-width="0.9"/><circle cx="1677.4" cy="2059.5" r="11.8" fill="url(#sphG)" stroke="#6d6d6d" stroke-width="0.9"/></g><rect x="1536.8" y="1863.2" width="140.6" height="195.8" fill="none" stroke="#777" stroke-width="4" stroke-dasharray="15.5 14.5"/>
<path d="M1194.7,2130.0 L1233.6,2156.9 L1272.5,2156.9 L1311.4,2159.6 L1350.3,2166.1 L1389.2,2176.3 L1428.1,2188.8 L1467.0,2182.0 L1505.8,2187.4 L1544.7,2206.5 L1583.6,2210.6 L1622.5,2210.6 L1661.4,2211.2 L1700.3,2214.7 L1739.2,2216.3 L1778.1,2221.4 L1817.0,2225.9" fill="none" stroke="#BDBDBD" stroke-width="1.2" stroke-dasharray="10 9"/>
<circle cx="1194.7" cy="2130.0" r="8.3" fill="#fff" stroke="#ABABAB" stroke-width="3"/><ellipse cx="1194.7" cy="2129.0" rx="2.4" ry="1.5" fill="#ABABAB"/>
<circle cx="1233.6" cy="2156.9" r="8.3" fill="#fff" stroke="#ABABAB" stroke-width="3"/><ellipse cx="1233.6" cy="2155.9" rx="2.4" ry="1.5" fill="#ABABAB"/>
<circle cx="1272.5" cy="2156.9" r="8.3" fill="#fff" stroke="#ABABAB" stroke-width="3"/><ellipse cx="1272.5" cy="2155.9" rx="2.4" ry="1.5" fill="#ABABAB"/>
<circle cx="1311.4" cy="2159.6" r="8.3" fill="#fff" stroke="#ABABAB" stroke-width="3"/><ellipse cx="1311.4" cy="2158.6" rx="2.4" ry="1.5" fill="#ABABAB"/>
<circle cx="1350.3" cy="2166.1" r="8.3" fill="#fff" stroke="#ABABAB" stroke-width="3"/><ellipse cx="1350.3" cy="2165.1" rx="2.4" ry="1.5" fill="#ABABAB"/>
<circle cx="1389.2" cy="2176.3" r="8.3" fill="#fff" stroke="#ABABAB" stroke-width="3"/><ellipse cx="1389.2" cy="2175.3" rx="2.4" ry="1.5" fill="#ABABAB"/>
<circle cx="1428.1" cy="2188.8" r="8.3" fill="#fff" stroke="#ABABAB" stroke-width="3"/><ellipse cx="1428.1" cy="2187.8" rx="2.4" ry="1.5" fill="#ABABAB"/>
<circle cx="1467.0" cy="2182.0" r="8.3" fill="#fff" stroke="#ABABAB" stroke-width="3"/><ellipse cx="1467.0" cy="2181.0" rx="2.4" ry="1.5" fill="#ABABAB"/>
<circle cx="1505.8" cy="2187.4" r="8.3" fill="#fff" stroke="#ABABAB" stroke-width="3"/><ellipse cx="1505.8" cy="2186.4" rx="2.4" ry="1.5" fill="#ABABAB"/>
<circle cx="1544.7" cy="2206.5" r="8.3" fill="#fff" stroke="#ABABAB" stroke-width="3"/><ellipse cx="1544.7" cy="2205.5" rx="2.4" ry="1.5" fill="#ABABAB"/>
<circle cx="1583.6" cy="2210.6" r="8.3" fill="#fff" stroke="#ABABAB" stroke-width="3"/><ellipse cx="1583.6" cy="2209.6" rx="2.4" ry="1.5" fill="#ABABAB"/>
<circle cx="1622.5" cy="2210.6" r="8.3" fill="#fff" stroke="#ABABAB" stroke-width="3"/><ellipse cx="1622.5" cy="2209.6" rx="2.4" ry="1.5" fill="#ABABAB"/>
<circle cx="1661.4" cy="2211.2" r="8.3" fill="#fff" stroke="#ABABAB" stroke-width="3"/><ellipse cx="1661.4" cy="2210.2" rx="2.4" ry="1.5" fill="#ABABAB"/>
<circle cx="1700.3" cy="2214.7" r="8.3" fill="#fff" stroke="#ABABAB" stroke-width="3"/><ellipse cx="1700.3" cy="2213.7" rx="2.4" ry="1.5" fill="#ABABAB"/>
<circle cx="1739.2" cy="2216.3" r="8.3" fill="#fff" stroke="#ABABAB" stroke-width="3"/><ellipse cx="1739.2" cy="2215.3" rx="2.4" ry="1.5" fill="#ABABAB"/>
<circle cx="1778.1" cy="2221.4" r="8.3" fill="#fff" stroke="#ABABAB" stroke-width="3"/><ellipse cx="1778.1" cy="2220.4" rx="2.4" ry="1.5" fill="#ABABAB"/>
<circle cx="1817.0" cy="2225.9" r="8.3" fill="#fff" stroke="#ABABAB" stroke-width="3"/><ellipse cx="1817.0" cy="2224.9" rx="2.4" ry="1.5" fill="#ABABAB"/>
<path d="M1194.7,2069.8 C1201.2,2073.4 1220.7,2084.9 1233.6,2091.2 C1246.6,2097.5 1259.5,2102.8 1272.5,2107.6 C1285.5,2112.4 1298.4,2116.3 1311.4,2119.8 C1324.4,2123.3 1337.3,2126.0 1350.3,2128.4 C1363.3,2130.8 1376.2,2132.3 1389.2,2134.1 C1402.1,2135.9 1415.1,2138.0 1428.1,2139.2 C1441.0,2140.4 1454.0,2140.6 1467.0,2141.2 C1479.9,2141.8 1492.9,2142.4 1505.8,2143.0 C1518.8,2143.6 1531.8,2144.6 1544.7,2144.9 C1557.7,2145.2 1570.7,2145.0 1583.6,2145.0 C1596.6,2145.0 1609.6,2145.0 1622.5,2145.0 C1635.5,2145.0 1648.4,2145.0 1661.4,2145.0 C1674.4,2145.0 1687.3,2145.0 1700.3,2145.0 C1713.3,2145.0 1726.2,2145.0 1739.2,2145.0 C1752.2,2145.0 1765.1,2145.0 1778.1,2145.0 C1791.0,2145.0 1810.5,2145.0 1817.0,2145.0" fill="none" stroke="#7FC8EA" stroke-width="1.8" stroke-dasharray="7 5"/>
<circle cx="1194.7" cy="2069.8" r="8.8" fill="#fff" stroke="#93D3F0" stroke-width="2.4"/>
<circle cx="1233.6" cy="2091.2" r="8.8" fill="#fff" stroke="#93D3F0" stroke-width="2.4"/>
<circle cx="1272.5" cy="2107.6" r="8.8" fill="#fff" stroke="#93D3F0" stroke-width="2.4"/>
<circle cx="1311.4" cy="2119.8" r="8.8" fill="#fff" stroke="#93D3F0" stroke-width="2.4"/>
<circle cx="1350.3" cy="2128.4" r="8.8" fill="#fff" stroke="#93D3F0" stroke-width="2.4"/>
<circle cx="1389.2" cy="2134.1" r="8.8" fill="#fff" stroke="#93D3F0" stroke-width="2.4"/>
<circle cx="1428.1" cy="2139.2" r="8.8" fill="#fff" stroke="#93D3F0" stroke-width="2.4"/>
<circle cx="1467.0" cy="2141.2" r="8.8" fill="#fff" stroke="#93D3F0" stroke-width="2.4"/>
<circle cx="1505.8" cy="2143.0" r="8.8" fill="#fff" stroke="#93D3F0" stroke-width="2.4"/>
<circle cx="1544.7" cy="2144.9" r="8.8" fill="#fff" stroke="#93D3F0" stroke-width="2.4"/>
<circle cx="1583.6" cy="2145.0" r="8.8" fill="#fff" stroke="#93D3F0" stroke-width="2.4"/>
<circle cx="1622.5" cy="2145.0" r="8.8" fill="#fff" stroke="#93D3F0" stroke-width="2.4"/>
<circle cx="1661.4" cy="2145.0" r="8.8" fill="#fff" stroke="#93D3F0" stroke-width="2.4"/>
<circle cx="1700.3" cy="2145.0" r="8.8" fill="#fff" stroke="#93D3F0" stroke-width="2.4"/>
<circle cx="1739.2" cy="2145.0" r="8.8" fill="#fff" stroke="#93D3F0" stroke-width="2.4"/>
<circle cx="1778.1" cy="2145.0" r="8.8" fill="#fff" stroke="#93D3F0" stroke-width="2.4"/>
<circle cx="1817.0" cy="2145.0" r="8.8" fill="#fff" stroke="#93D3F0" stroke-width="2.4"/>
<path d="M1194.7,2050.0 C1201.2,2054.4 1220.7,2069.5 1233.6,2076.5 C1246.6,2083.5 1259.5,2087.5 1272.5,2092.2 C1285.5,2096.9 1298.4,2100.8 1311.4,2104.5 C1324.4,2108.2 1337.3,2111.2 1350.3,2114.1 C1363.3,2117.0 1376.2,2119.6 1389.2,2122.2 C1402.1,2124.8 1415.1,2127.9 1428.1,2129.4 C1441.0,2130.9 1454.0,2130.3 1467.0,2131.0 C1479.9,2131.7 1492.9,2132.2 1505.8,2133.6 C1518.8,2135.0 1531.8,2138.1 1544.7,2139.2 C1557.7,2140.3 1570.7,2139.9 1583.6,2140.2 C1596.6,2140.5 1609.6,2140.7 1622.5,2140.8 C1635.5,2140.9 1648.4,2140.8 1661.4,2140.8 C1674.4,2140.8 1687.3,2140.7 1700.3,2140.8 C1713.3,2140.9 1726.2,2141.1 1739.2,2141.2 C1752.2,2141.3 1765.1,2141.0 1778.1,2141.2 C1791.0,2141.4 1810.5,2142.0 1817.0,2142.2" fill="none" stroke="#7FC8EA" stroke-width="1.8"/>
<circle cx="1194.7" cy="2050.0" r="9.5" fill="url(#sphB)" stroke="#86CBEB" stroke-width="1"/>
<circle cx="1233.6" cy="2076.5" r="9.5" fill="url(#sphB)" stroke="#86CBEB" stroke-width="1"/>
<circle cx="1272.5" cy="2092.2" r="9.5" fill="url(#sphB)" stroke="#86CBEB" stroke-width="1"/>
<circle cx="1311.4" cy="2104.5" r="9.5" fill="url(#sphB)" stroke="#86CBEB" stroke-width="1"/>
<circle cx="1350.3" cy="2114.1" r="9.5" fill="url(#sphB)" stroke="#86CBEB" stroke-width="1"/>
<circle cx="1389.2" cy="2122.2" r="9.5" fill="url(#sphB)" stroke="#86CBEB" stroke-width="1"/>
<circle cx="1428.1" cy="2129.4" r="9.5" fill="url(#sphB)" stroke="#86CBEB" stroke-width="1"/>
<circle cx="1467.0" cy="2131.0" r="9.5" fill="url(#sphB)" stroke="#86CBEB" stroke-width="1"/>
<circle cx="1505.8" cy="2133.6" r="9.5" fill="url(#sphB)" stroke="#86CBEB" stroke-width="1"/>
<circle cx="1544.7" cy="2139.2" r="9.5" fill="url(#sphB)" stroke="#86CBEB" stroke-width="1"/>
<circle cx="1583.6" cy="2140.2" r="9.5" fill="url(#sphB)" stroke="#86CBEB" stroke-width="1"/>
<circle cx="1622.5" cy="2140.8" r="9.5" fill="url(#sphB)" stroke="#86CBEB" stroke-width="1"/>
<circle cx="1661.4" cy="2140.8" r="9.5" fill="url(#sphB)" stroke="#86CBEB" stroke-width="1"/>
<circle cx="1700.3" cy="2140.8" r="9.5" fill="url(#sphB)" stroke="#86CBEB" stroke-width="1"/>
<circle cx="1739.2" cy="2141.2" r="9.5" fill="url(#sphB)" stroke="#86CBEB" stroke-width="1"/>
<circle cx="1778.1" cy="2141.2" r="9.5" fill="url(#sphB)" stroke="#86CBEB" stroke-width="1"/>
<circle cx="1817.0" cy="2142.2" r="9.5" fill="url(#sphB)" stroke="#86CBEB" stroke-width="1"/>
</g>
<line x1="1698.4" y1="1842.7" x2="1771.4" y2="1842.7" stroke="#7FC8EA" stroke-width="1.8"/>
<circle cx="1734.9" cy="1842.7" r="9.5" fill="url(#sphB)" stroke="#86CBEB" stroke-width="1"/>
<line x1="1698.4" y1="1882.4" x2="1771.4" y2="1882.4" stroke="#7FC8EA" stroke-width="1.8" stroke-dasharray="7 5"/>
<circle cx="1734.9" cy="1882.4" r="8.8" fill="#fff" stroke="#93D3F0" stroke-width="2.4"/>
<text x="1798.4" y="1853.5" font-size="32" fill="#000">MLP</text>
<text x="1798.4" y="1893.2" font-size="32" fill="#000">DFT</text>
<line x1="1136.4" y1="2276.2" x2="1136.4" y2="2286.2" stroke="#000" stroke-width="2"/>
<text x="1136.4" y="2317.7" font-size="31.5" text-anchor="middle">1.5</text>
<line x1="1185.0" y1="2276.2" x2="1185.0" y2="2281.0" stroke="#000" stroke-width="2"/>
<line x1="1233.6" y1="2276.2" x2="1233.6" y2="2286.2" stroke="#000" stroke-width="2"/>
<text x="1233.6" y="2317.7" font-size="31.5" text-anchor="middle">2.0</text>
<line x1="1282.2" y1="2276.2" x2="1282.2" y2="2281.0" stroke="#000" stroke-width="2"/>
<line x1="1330.8" y1="2276.2" x2="1330.8" y2="2286.2" stroke="#000" stroke-width="2"/>
<text x="1330.8" y="2317.7" font-size="31.5" text-anchor="middle">2.5</text>
<line x1="1379.5" y1="2276.2" x2="1379.5" y2="2281.0" stroke="#000" stroke-width="2"/>
<line x1="1428.1" y1="2276.2" x2="1428.1" y2="2286.2" stroke="#000" stroke-width="2"/>
<text x="1428.1" y="2317.7" font-size="31.5" text-anchor="middle">3.0</text>
<line x1="1476.7" y1="2276.2" x2="1476.7" y2="2281.0" stroke="#000" stroke-width="2"/>
<line x1="1525.3" y1="2276.2" x2="1525.3" y2="2286.2" stroke="#000" stroke-width="2"/>
<text x="1525.3" y="2317.7" font-size="31.5" text-anchor="middle">3.5</text>
<line x1="1573.9" y1="2276.2" x2="1573.9" y2="2281.0" stroke="#000" stroke-width="2"/>
<line x1="1622.5" y1="2276.2" x2="1622.5" y2="2286.2" stroke="#000" stroke-width="2"/>
<text x="1622.5" y="2317.7" font-size="31.5" text-anchor="middle">4.0</text>
<line x1="1671.1" y1="2276.2" x2="1671.1" y2="2281.0" stroke="#000" stroke-width="2"/>
<line x1="1719.7" y1="2276.2" x2="1719.7" y2="2286.2" stroke="#000" stroke-width="2"/>
<text x="1719.7" y="2317.7" font-size="31.5" text-anchor="middle">4.5</text>
<line x1="1768.4" y1="2276.2" x2="1768.4" y2="2281.0" stroke="#000" stroke-width="2"/>
<line x1="1817.0" y1="2276.2" x2="1817.0" y2="2286.2" stroke="#000" stroke-width="2"/>
<text x="1817.0" y="2317.7" font-size="31.5" text-anchor="middle">5.0</text>
<line x1="1865.6" y1="2276.2" x2="1865.6" y2="2281.0" stroke="#000" stroke-width="2"/>
<line x1="1126.9" y1="2276.2" x2="1136.4" y2="2276.2" stroke="#86C5EB" stroke-width="2"/>
<text x="1119.9" y="2285.7" font-size="31.5" text-anchor="end" fill="#86C5EB">-7.8</text>
<line x1="1131.9" y1="2237.7" x2="1136.4" y2="2237.7" stroke="#86C5EB" stroke-width="2"/>
<line x1="1126.9" y1="2199.2" x2="1136.4" y2="2199.2" stroke="#86C5EB" stroke-width="2"/>
<text x="1119.9" y="2208.7" font-size="31.5" text-anchor="end" fill="#86C5EB">-7.6</text>
<line x1="1131.9" y1="2160.6" x2="1136.4" y2="2160.6" stroke="#86C5EB" stroke-width="2"/>
<line x1="1126.9" y1="2122.1" x2="1136.4" y2="2122.1" stroke="#86C5EB" stroke-width="2"/>
<text x="1119.9" y="2131.6" font-size="31.5" text-anchor="end" fill="#86C5EB">-7.4</text>
<line x1="1131.9" y1="2083.6" x2="1136.4" y2="2083.6" stroke="#86C5EB" stroke-width="2"/>
<line x1="1126.9" y1="2045.1" x2="1136.4" y2="2045.1" stroke="#86C5EB" stroke-width="2"/>
<text x="1119.9" y="2054.6" font-size="31.5" text-anchor="end" fill="#86C5EB">-7.2</text>
<line x1="1131.9" y1="2006.5" x2="1136.4" y2="2006.5" stroke="#86C5EB" stroke-width="2"/>
<line x1="1126.9" y1="1968.0" x2="1136.4" y2="1968.0" stroke="#86C5EB" stroke-width="2"/>
<text x="1119.9" y="1977.5" font-size="31.5" text-anchor="end" fill="#86C5EB">-7.0</text>
<line x1="1131.9" y1="1929.5" x2="1136.4" y2="1929.5" stroke="#86C5EB" stroke-width="2"/>
<line x1="1126.9" y1="1891.0" x2="1136.4" y2="1891.0" stroke="#86C5EB" stroke-width="2"/>
<text x="1119.9" y="1900.5" font-size="31.5" text-anchor="end" fill="#86C5EB">-6.8</text>
<line x1="1131.9" y1="1852.4" x2="1136.4" y2="1852.4" stroke="#86C5EB" stroke-width="2"/>
<line x1="1126.9" y1="1813.9" x2="1136.4" y2="1813.9" stroke="#86C5EB" stroke-width="2"/>
<text x="1119.9" y="1823.4" font-size="31.5" text-anchor="end" fill="#86C5EB">-6.6</text>
<line x1="1875.3" y1="2276.2" x2="1879.5" y2="2276.2" stroke="#777" stroke-width="1.6"/>
<line x1="1875.3" y1="2234.2" x2="1884.3" y2="2234.2" stroke="#777" stroke-width="1.6"/>
<text x="1890.3" y="2244.7" font-size="31.5" fill="#6E6E6E">0</text>
<line x1="1875.3" y1="2192.1" x2="1879.5" y2="2192.1" stroke="#777" stroke-width="1.6"/>
<line x1="1875.3" y1="2150.1" x2="1884.3" y2="2150.1" stroke="#777" stroke-width="1.6"/>
<text x="1890.3" y="2160.6" font-size="31.5" fill="#6E6E6E">40</text>
<line x1="1875.3" y1="2108.1" x2="1879.5" y2="2108.1" stroke="#777" stroke-width="1.6"/>
<line x1="1875.3" y1="2066.1" x2="1884.3" y2="2066.1" stroke="#777" stroke-width="1.6"/>
<text x="1890.3" y="2076.6" font-size="31.5" fill="#6E6E6E">80</text>
<line x1="1875.3" y1="2024.0" x2="1879.5" y2="2024.0" stroke="#777" stroke-width="1.6"/>
<line x1="1875.3" y1="1982.0" x2="1884.3" y2="1982.0" stroke="#777" stroke-width="1.6"/>
<text x="1890.3" y="1992.5" font-size="31.5" fill="#6E6E6E">120</text>
<line x1="1875.3" y1="1940.0" x2="1879.5" y2="1940.0" stroke="#777" stroke-width="1.6"/>
<line x1="1875.3" y1="1898.0" x2="1884.3" y2="1898.0" stroke="#777" stroke-width="1.6"/>
<text x="1890.3" y="1908.5" font-size="31.5" fill="#6E6E6E">160</text>
<line x1="1875.3" y1="1855.9" x2="1879.5" y2="1855.9" stroke="#777" stroke-width="1.6"/>
<line x1="1875.3" y1="1813.9" x2="1884.3" y2="1813.9" stroke="#777" stroke-width="1.6"/>
<text x="1890.3" y="1824.4" font-size="31.5" fill="#6E6E6E">200</text>
<line x1="1136.4" y1="1813.9" x2="1876.6" y2="1813.9" stroke="#000" stroke-width="2.6"/>
<line x1="1136.4" y1="2276.2" x2="1876.6" y2="2276.2" stroke="#000" stroke-width="2.6"/>
<line x1="1875.3" y1="1813.9" x2="1875.3" y2="2276.2" stroke="#111" stroke-width="2.2"/>
<line x1="1136.4" y1="1812.6" x2="1136.4" y2="2277.5" stroke="#86C5EB" stroke-width="2.6"/>
<text transform="translate(1051.4,2045.0) rotate(-90)" font-size="34" text-anchor="middle" fill="#86C5EB">Energy (eV/atom)</text>
<text transform="translate(1983.3,2045.0) rotate(-90)" font-size="34" text-anchor="middle" fill="#6E6E6E">Energy error (meV/atom)</text>
<text x="1505.8" y="2359.2" font-size="34" text-anchor="middle">Distance(Å)</text>
<text x="1000.7" y="1796.6" font-size="45" font-weight="bold">(h)</text>
</svg>
</body></html>
